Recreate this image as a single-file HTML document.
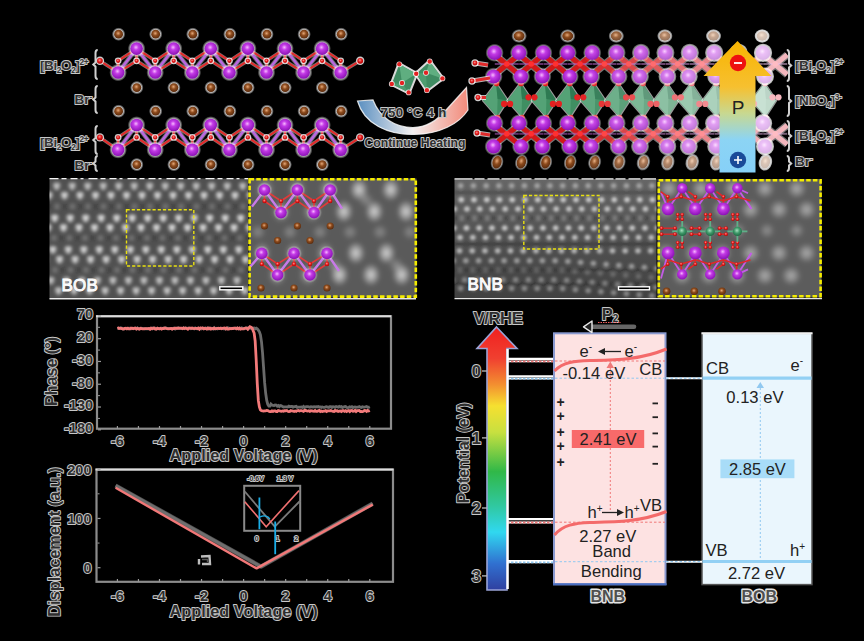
<!DOCTYPE html>
<html><head><meta charset="utf-8"><title>figure</title>
<style>
html,body{margin:0;padding:0;background:#000;}
body{width:864px;height:641px;overflow:hidden;}
svg{display:block;}
text{font-family:"Liberation Sans",sans-serif;}
</style></head><body>
<svg width="864" height="641" viewBox="0 0 864 641">
<defs>
<radialGradient id="gBi" cx="0.45" cy="0.4" r="0.6"><stop offset="0" stop-color="#f7b8ff"/><stop offset="0.35" stop-color="#c33ae6"/><stop offset="1" stop-color="#8a12b4"/></radialGradient>
<radialGradient id="gBr" cx="0.45" cy="0.4" r="0.6"><stop offset="0" stop-color="#e6a878"/><stop offset="0.45" stop-color="#8c4a1c"/><stop offset="1" stop-color="#5a2a0c"/></radialGradient>
<radialGradient id="gO" cx="0.45" cy="0.4" r="0.6"><stop offset="0" stop-color="#ff9090"/><stop offset="0.5" stop-color="#e41e1e"/><stop offset="1" stop-color="#b00000"/></radialGradient>
<radialGradient id="gNb" cx="0.45" cy="0.4" r="0.6"><stop offset="0" stop-color="#a8e0c0"/><stop offset="0.5" stop-color="#3f9a6a"/><stop offset="1" stop-color="#1f6a44"/></radialGradient>
<radialGradient id="gHalo" cx="0.5" cy="0.5" r="0.5"><stop offset="0" stop-color="#fff" stop-opacity="0.8"/><stop offset="0.7" stop-color="#fff" stop-opacity="0.75"/><stop offset="1" stop-color="#fff" stop-opacity="0"/></radialGradient>
<radialGradient id="gBlob" cx="0.5" cy="0.5" r="0.5"><stop offset="0" stop-color="#fff" stop-opacity="0.85"/><stop offset="0.5" stop-color="#fff" stop-opacity="0.45"/><stop offset="1" stop-color="#fff" stop-opacity="0"/></radialGradient>
<radialGradient id="gBlobD" cx="0.5" cy="0.5" r="0.5"><stop offset="0" stop-color="#000" stop-opacity="0.35"/><stop offset="1" stop-color="#000" stop-opacity="0"/></radialGradient>
<linearGradient id="gArc" x1="0" y1="0" x2="1" y2="0"><stop offset="0" stop-color="#5a8fc0"/><stop offset="0.5" stop-color="#f4f0f0"/><stop offset="1" stop-color="#f28a7a"/></linearGradient>
<linearGradient id="gP" x1="0" y1="0" x2="0" y2="1"><stop offset="0" stop-color="#f8b400"/><stop offset="0.35" stop-color="#f6c030"/><stop offset="0.55" stop-color="#c8d890"/><stop offset="0.75" stop-color="#8cd4f4"/><stop offset="1" stop-color="#86d0f8"/></linearGradient>
<linearGradient id="gRain" x1="0" y1="0" x2="0" y2="1">
<stop offset="0" stop-color="#f02020"/><stop offset="0.12" stop-color="#f04030"/><stop offset="0.22" stop-color="#f39030"/><stop offset="0.3" stop-color="#f6e030"/><stop offset="0.4" stop-color="#c8e040"/><stop offset="0.55" stop-color="#30b848"/><stop offset="0.68" stop-color="#30c8a0"/><stop offset="0.78" stop-color="#30d8f0"/><stop offset="0.9" stop-color="#3070d0"/><stop offset="1" stop-color="#3040a0"/></linearGradient>
<filter id="fBlur" x="-10%" y="-10%" width="120%" height="120%"><feGaussianBlur stdDeviation="1.35"/></filter>
<filter id="fBlur1" x="-10%" y="-10%" width="120%" height="120%"><feGaussianBlur stdDeviation="1.0"/></filter>
<filter id="fBlur2" x="-10%" y="-10%" width="120%" height="120%"><feGaussianBlur stdDeviation="2.2"/></filter>
<linearGradient id="gBNBbg" x1="0" y1="0" x2="0" y2="1"><stop offset="0" stop-color="#666"/><stop offset="0.5" stop-color="#525252"/><stop offset="1" stop-color="#404040"/></linearGradient>
<clipPath id="cBOB"><rect x="49.5" y="178.5" width="199" height="120.5"/></clipPath>
<clipPath id="cBOBi"><rect x="249" y="178.5" width="167.5" height="119"/></clipPath>
<clipPath id="cBNB"><rect x="454.5" y="179" width="202" height="119.5"/></clipPath>
<clipPath id="cBNBi"><rect x="657.5" y="179" width="164" height="118.5"/></clipPath>
</defs>
<rect width="864" height="641" fill="#000"/>

<ellipse cx="118.6" cy="34.2" rx="6.8" ry="6.8" fill="url(#gHalo)"/>
<ellipse cx="118.6" cy="34.2" rx="4.4" ry="4.4" fill="url(#gBr)"/>
<ellipse cx="155.7" cy="34.2" rx="6.8" ry="6.8" fill="url(#gHalo)"/>
<ellipse cx="155.7" cy="34.2" rx="4.4" ry="4.4" fill="url(#gBr)"/>
<ellipse cx="192.8" cy="34.2" rx="6.8" ry="6.8" fill="url(#gHalo)"/>
<ellipse cx="192.8" cy="34.2" rx="4.4" ry="4.4" fill="url(#gBr)"/>
<ellipse cx="229.9" cy="34.2" rx="6.8" ry="6.8" fill="url(#gHalo)"/>
<ellipse cx="229.9" cy="34.2" rx="4.4" ry="4.4" fill="url(#gBr)"/>
<ellipse cx="267" cy="34.2" rx="6.8" ry="6.8" fill="url(#gHalo)"/>
<ellipse cx="267" cy="34.2" rx="4.4" ry="4.4" fill="url(#gBr)"/>
<ellipse cx="304.1" cy="34.2" rx="6.8" ry="6.8" fill="url(#gHalo)"/>
<ellipse cx="304.1" cy="34.2" rx="4.4" ry="4.4" fill="url(#gBr)"/>
<ellipse cx="341.2" cy="34.2" rx="6.8" ry="6.8" fill="url(#gHalo)"/>
<ellipse cx="341.2" cy="34.2" rx="4.4" ry="4.4" fill="url(#gBr)"/>
<path d="M118.1,72.5 L136.6,48.6 L155.2,72.5 L173.7,48.6 L192.3,72.5 L210.8,48.6 L229.4,72.5 L247.9,48.6 L266.5,72.5 L285,48.6 L303.6,72.5 L322.1,48.6 L340.7,72.5" fill="none" stroke="#fff" stroke-width="4.4" opacity="0.4"/>
<path d="M118.1,72.5 L136.6,48.6 L155.2,72.5 L173.7,48.6 L192.3,72.5 L210.8,48.6 L229.4,72.5 L247.9,48.6 L266.5,72.5 L285,48.6 L303.6,72.5 L322.1,48.6 L340.7,72.5" fill="none" stroke="#b868e0" stroke-width="2.6"/>
<line x1="118.1" y1="60.8" x2="136.6" y2="48.6" stroke="#fff" stroke-width="3.4" opacity="0.45"/>
<line x1="118.1" y1="60.8" x2="118.1" y2="72.5" stroke="#fff" stroke-width="3.4" opacity="0.45"/>
<line x1="136.6" y1="60.8" x2="118.1" y2="72.5" stroke="#fff" stroke-width="3.4" opacity="0.45"/>
<line x1="136.6" y1="60.8" x2="155.2" y2="72.5" stroke="#fff" stroke-width="3.4" opacity="0.45"/>
<line x1="136.6" y1="60.8" x2="136.6" y2="48.6" stroke="#fff" stroke-width="3.4" opacity="0.45"/>
<line x1="155.2" y1="60.8" x2="136.6" y2="48.6" stroke="#fff" stroke-width="3.4" opacity="0.45"/>
<line x1="155.2" y1="60.8" x2="173.7" y2="48.6" stroke="#fff" stroke-width="3.4" opacity="0.45"/>
<line x1="155.2" y1="60.8" x2="155.2" y2="72.5" stroke="#fff" stroke-width="3.4" opacity="0.45"/>
<line x1="173.7" y1="60.8" x2="155.2" y2="72.5" stroke="#fff" stroke-width="3.4" opacity="0.45"/>
<line x1="173.7" y1="60.8" x2="192.3" y2="72.5" stroke="#fff" stroke-width="3.4" opacity="0.45"/>
<line x1="173.7" y1="60.8" x2="173.7" y2="48.6" stroke="#fff" stroke-width="3.4" opacity="0.45"/>
<line x1="192.3" y1="60.8" x2="173.7" y2="48.6" stroke="#fff" stroke-width="3.4" opacity="0.45"/>
<line x1="192.3" y1="60.8" x2="210.8" y2="48.6" stroke="#fff" stroke-width="3.4" opacity="0.45"/>
<line x1="192.3" y1="60.8" x2="192.3" y2="72.5" stroke="#fff" stroke-width="3.4" opacity="0.45"/>
<line x1="210.8" y1="60.8" x2="192.3" y2="72.5" stroke="#fff" stroke-width="3.4" opacity="0.45"/>
<line x1="210.8" y1="60.8" x2="229.4" y2="72.5" stroke="#fff" stroke-width="3.4" opacity="0.45"/>
<line x1="210.8" y1="60.8" x2="210.8" y2="48.6" stroke="#fff" stroke-width="3.4" opacity="0.45"/>
<line x1="229.4" y1="60.8" x2="210.8" y2="48.6" stroke="#fff" stroke-width="3.4" opacity="0.45"/>
<line x1="229.4" y1="60.8" x2="247.9" y2="48.6" stroke="#fff" stroke-width="3.4" opacity="0.45"/>
<line x1="229.4" y1="60.8" x2="229.4" y2="72.5" stroke="#fff" stroke-width="3.4" opacity="0.45"/>
<line x1="247.9" y1="60.8" x2="229.4" y2="72.5" stroke="#fff" stroke-width="3.4" opacity="0.45"/>
<line x1="247.9" y1="60.8" x2="266.5" y2="72.5" stroke="#fff" stroke-width="3.4" opacity="0.45"/>
<line x1="247.9" y1="60.8" x2="247.9" y2="48.6" stroke="#fff" stroke-width="3.4" opacity="0.45"/>
<line x1="266.5" y1="60.8" x2="247.9" y2="48.6" stroke="#fff" stroke-width="3.4" opacity="0.45"/>
<line x1="266.5" y1="60.8" x2="285" y2="48.6" stroke="#fff" stroke-width="3.4" opacity="0.45"/>
<line x1="266.5" y1="60.8" x2="266.5" y2="72.5" stroke="#fff" stroke-width="3.4" opacity="0.45"/>
<line x1="285" y1="60.8" x2="266.5" y2="72.5" stroke="#fff" stroke-width="3.4" opacity="0.45"/>
<line x1="285" y1="60.8" x2="303.6" y2="72.5" stroke="#fff" stroke-width="3.4" opacity="0.45"/>
<line x1="285" y1="60.8" x2="285" y2="48.6" stroke="#fff" stroke-width="3.4" opacity="0.45"/>
<line x1="303.6" y1="60.8" x2="285" y2="48.6" stroke="#fff" stroke-width="3.4" opacity="0.45"/>
<line x1="303.6" y1="60.8" x2="322.1" y2="48.6" stroke="#fff" stroke-width="3.4" opacity="0.45"/>
<line x1="303.6" y1="60.8" x2="303.6" y2="72.5" stroke="#fff" stroke-width="3.4" opacity="0.45"/>
<line x1="322.1" y1="60.8" x2="303.6" y2="72.5" stroke="#fff" stroke-width="3.4" opacity="0.45"/>
<line x1="322.1" y1="60.8" x2="340.7" y2="72.5" stroke="#fff" stroke-width="3.4" opacity="0.45"/>
<line x1="322.1" y1="60.8" x2="322.1" y2="48.6" stroke="#fff" stroke-width="3.4" opacity="0.45"/>
<line x1="340.7" y1="60.8" x2="322.1" y2="48.6" stroke="#fff" stroke-width="3.4" opacity="0.45"/>
<line x1="340.7" y1="60.8" x2="340.7" y2="72.5" stroke="#fff" stroke-width="3.4" opacity="0.45"/>
<line x1="99.9" y1="60.8" x2="118.1" y2="72.5" stroke="#fff" stroke-width="3.4" opacity="0.45"/>
<line x1="360.2" y1="60.8" x2="340.7" y2="72.5" stroke="#fff" stroke-width="3.4" opacity="0.45"/>
<line x1="118.1" y1="60.8" x2="136.6" y2="48.6" stroke="#e42a2a" stroke-width="2.0" />
<line x1="118.1" y1="60.8" x2="118.1" y2="72.5" stroke="#e42a2a" stroke-width="2.0" />
<line x1="136.6" y1="60.8" x2="118.1" y2="72.5" stroke="#e42a2a" stroke-width="2.0" />
<line x1="136.6" y1="60.8" x2="155.2" y2="72.5" stroke="#e42a2a" stroke-width="2.0" />
<line x1="136.6" y1="60.8" x2="136.6" y2="48.6" stroke="#e42a2a" stroke-width="2.0" />
<line x1="155.2" y1="60.8" x2="136.6" y2="48.6" stroke="#e42a2a" stroke-width="2.0" />
<line x1="155.2" y1="60.8" x2="173.7" y2="48.6" stroke="#e42a2a" stroke-width="2.0" />
<line x1="155.2" y1="60.8" x2="155.2" y2="72.5" stroke="#e42a2a" stroke-width="2.0" />
<line x1="173.7" y1="60.8" x2="155.2" y2="72.5" stroke="#e42a2a" stroke-width="2.0" />
<line x1="173.7" y1="60.8" x2="192.3" y2="72.5" stroke="#e42a2a" stroke-width="2.0" />
<line x1="173.7" y1="60.8" x2="173.7" y2="48.6" stroke="#e42a2a" stroke-width="2.0" />
<line x1="192.3" y1="60.8" x2="173.7" y2="48.6" stroke="#e42a2a" stroke-width="2.0" />
<line x1="192.3" y1="60.8" x2="210.8" y2="48.6" stroke="#e42a2a" stroke-width="2.0" />
<line x1="192.3" y1="60.8" x2="192.3" y2="72.5" stroke="#e42a2a" stroke-width="2.0" />
<line x1="210.8" y1="60.8" x2="192.3" y2="72.5" stroke="#e42a2a" stroke-width="2.0" />
<line x1="210.8" y1="60.8" x2="229.4" y2="72.5" stroke="#e42a2a" stroke-width="2.0" />
<line x1="210.8" y1="60.8" x2="210.8" y2="48.6" stroke="#e42a2a" stroke-width="2.0" />
<line x1="229.4" y1="60.8" x2="210.8" y2="48.6" stroke="#e42a2a" stroke-width="2.0" />
<line x1="229.4" y1="60.8" x2="247.9" y2="48.6" stroke="#e42a2a" stroke-width="2.0" />
<line x1="229.4" y1="60.8" x2="229.4" y2="72.5" stroke="#e42a2a" stroke-width="2.0" />
<line x1="247.9" y1="60.8" x2="229.4" y2="72.5" stroke="#e42a2a" stroke-width="2.0" />
<line x1="247.9" y1="60.8" x2="266.5" y2="72.5" stroke="#e42a2a" stroke-width="2.0" />
<line x1="247.9" y1="60.8" x2="247.9" y2="48.6" stroke="#e42a2a" stroke-width="2.0" />
<line x1="266.5" y1="60.8" x2="247.9" y2="48.6" stroke="#e42a2a" stroke-width="2.0" />
<line x1="266.5" y1="60.8" x2="285" y2="48.6" stroke="#e42a2a" stroke-width="2.0" />
<line x1="266.5" y1="60.8" x2="266.5" y2="72.5" stroke="#e42a2a" stroke-width="2.0" />
<line x1="285" y1="60.8" x2="266.5" y2="72.5" stroke="#e42a2a" stroke-width="2.0" />
<line x1="285" y1="60.8" x2="303.6" y2="72.5" stroke="#e42a2a" stroke-width="2.0" />
<line x1="285" y1="60.8" x2="285" y2="48.6" stroke="#e42a2a" stroke-width="2.0" />
<line x1="303.6" y1="60.8" x2="285" y2="48.6" stroke="#e42a2a" stroke-width="2.0" />
<line x1="303.6" y1="60.8" x2="322.1" y2="48.6" stroke="#e42a2a" stroke-width="2.0" />
<line x1="303.6" y1="60.8" x2="303.6" y2="72.5" stroke="#e42a2a" stroke-width="2.0" />
<line x1="322.1" y1="60.8" x2="303.6" y2="72.5" stroke="#e42a2a" stroke-width="2.0" />
<line x1="322.1" y1="60.8" x2="340.7" y2="72.5" stroke="#e42a2a" stroke-width="2.0" />
<line x1="322.1" y1="60.8" x2="322.1" y2="48.6" stroke="#e42a2a" stroke-width="2.0" />
<line x1="340.7" y1="60.8" x2="322.1" y2="48.6" stroke="#e42a2a" stroke-width="2.0" />
<line x1="340.7" y1="60.8" x2="340.7" y2="72.5" stroke="#e42a2a" stroke-width="2.0" />
<line x1="99.9" y1="60.8" x2="118.1" y2="72.5" stroke="#e42a2a" stroke-width="2.0" />
<line x1="360.2" y1="60.8" x2="340.7" y2="72.5" stroke="#e42a2a" stroke-width="2.0" />
<circle cx="118.1" cy="60.8" r="3.4" fill="#fff" opacity="0.8"/>
<circle cx="118.1" cy="60.8" r="2.1" fill="url(#gO)"/>
<circle cx="136.6" cy="60.8" r="3.4" fill="#fff" opacity="0.8"/>
<circle cx="136.6" cy="60.8" r="2.1" fill="url(#gO)"/>
<circle cx="155.2" cy="60.8" r="3.4" fill="#fff" opacity="0.8"/>
<circle cx="155.2" cy="60.8" r="2.1" fill="url(#gO)"/>
<circle cx="173.7" cy="60.8" r="3.4" fill="#fff" opacity="0.8"/>
<circle cx="173.7" cy="60.8" r="2.1" fill="url(#gO)"/>
<circle cx="192.3" cy="60.8" r="3.4" fill="#fff" opacity="0.8"/>
<circle cx="192.3" cy="60.8" r="2.1" fill="url(#gO)"/>
<circle cx="210.8" cy="60.8" r="3.4" fill="#fff" opacity="0.8"/>
<circle cx="210.8" cy="60.8" r="2.1" fill="url(#gO)"/>
<circle cx="229.4" cy="60.8" r="3.4" fill="#fff" opacity="0.8"/>
<circle cx="229.4" cy="60.8" r="2.1" fill="url(#gO)"/>
<circle cx="247.9" cy="60.8" r="3.4" fill="#fff" opacity="0.8"/>
<circle cx="247.9" cy="60.8" r="2.1" fill="url(#gO)"/>
<circle cx="266.5" cy="60.8" r="3.4" fill="#fff" opacity="0.8"/>
<circle cx="266.5" cy="60.8" r="2.1" fill="url(#gO)"/>
<circle cx="285" cy="60.8" r="3.4" fill="#fff" opacity="0.8"/>
<circle cx="285" cy="60.8" r="2.1" fill="url(#gO)"/>
<circle cx="303.6" cy="60.8" r="3.4" fill="#fff" opacity="0.8"/>
<circle cx="303.6" cy="60.8" r="2.1" fill="url(#gO)"/>
<circle cx="322.1" cy="60.8" r="3.4" fill="#fff" opacity="0.8"/>
<circle cx="322.1" cy="60.8" r="2.1" fill="url(#gO)"/>
<circle cx="340.7" cy="60.8" r="3.4" fill="#fff" opacity="0.8"/>
<circle cx="340.7" cy="60.8" r="2.1" fill="url(#gO)"/>
<circle cx="99.9" cy="60.8" r="4.2" fill="#fff" opacity="0.8"/>
<circle cx="99.9" cy="60.8" r="2.9" fill="url(#gO)"/>
<circle cx="360.2" cy="60.8" r="4.2" fill="#fff" opacity="0.8"/>
<circle cx="360.2" cy="60.8" r="2.9" fill="url(#gO)"/>
<circle cx="136.6" cy="48.6" r="8.9" fill="url(#gHalo)"/>
<circle cx="136.6" cy="48.6" r="6.3" fill="url(#gBi)"/>
<circle cx="173.7" cy="48.6" r="8.9" fill="url(#gHalo)"/>
<circle cx="173.7" cy="48.6" r="6.3" fill="url(#gBi)"/>
<circle cx="210.8" cy="48.6" r="8.9" fill="url(#gHalo)"/>
<circle cx="210.8" cy="48.6" r="6.3" fill="url(#gBi)"/>
<circle cx="247.9" cy="48.6" r="8.9" fill="url(#gHalo)"/>
<circle cx="247.9" cy="48.6" r="6.3" fill="url(#gBi)"/>
<circle cx="285" cy="48.6" r="8.9" fill="url(#gHalo)"/>
<circle cx="285" cy="48.6" r="6.3" fill="url(#gBi)"/>
<circle cx="322.1" cy="48.6" r="8.9" fill="url(#gHalo)"/>
<circle cx="322.1" cy="48.6" r="6.3" fill="url(#gBi)"/>
<circle cx="118.1" cy="72.5" r="8.9" fill="url(#gHalo)"/>
<circle cx="118.1" cy="72.5" r="6.3" fill="url(#gBi)"/>
<circle cx="155.2" cy="72.5" r="8.9" fill="url(#gHalo)"/>
<circle cx="155.2" cy="72.5" r="6.3" fill="url(#gBi)"/>
<circle cx="192.3" cy="72.5" r="8.9" fill="url(#gHalo)"/>
<circle cx="192.3" cy="72.5" r="6.3" fill="url(#gBi)"/>
<circle cx="229.4" cy="72.5" r="8.9" fill="url(#gHalo)"/>
<circle cx="229.4" cy="72.5" r="6.3" fill="url(#gBi)"/>
<circle cx="266.5" cy="72.5" r="8.9" fill="url(#gHalo)"/>
<circle cx="266.5" cy="72.5" r="6.3" fill="url(#gBi)"/>
<circle cx="303.6" cy="72.5" r="8.9" fill="url(#gHalo)"/>
<circle cx="303.6" cy="72.5" r="6.3" fill="url(#gBi)"/>
<circle cx="340.7" cy="72.5" r="8.9" fill="url(#gHalo)"/>
<circle cx="340.7" cy="72.5" r="6.3" fill="url(#gBi)"/>
<ellipse cx="136.8" cy="87.6" rx="6.8" ry="6.8" fill="url(#gHalo)"/>
<ellipse cx="136.8" cy="87.6" rx="4.4" ry="4.4" fill="url(#gBr)"/>
<ellipse cx="173.9" cy="87.6" rx="6.8" ry="6.8" fill="url(#gHalo)"/>
<ellipse cx="173.9" cy="87.6" rx="4.4" ry="4.4" fill="url(#gBr)"/>
<ellipse cx="211" cy="87.6" rx="6.8" ry="6.8" fill="url(#gHalo)"/>
<ellipse cx="211" cy="87.6" rx="4.4" ry="4.4" fill="url(#gBr)"/>
<ellipse cx="248.1" cy="87.6" rx="6.8" ry="6.8" fill="url(#gHalo)"/>
<ellipse cx="248.1" cy="87.6" rx="4.4" ry="4.4" fill="url(#gBr)"/>
<ellipse cx="285.2" cy="87.6" rx="6.8" ry="6.8" fill="url(#gHalo)"/>
<ellipse cx="285.2" cy="87.6" rx="4.4" ry="4.4" fill="url(#gBr)"/>
<ellipse cx="322.3" cy="87.6" rx="6.8" ry="6.8" fill="url(#gHalo)"/>
<ellipse cx="322.3" cy="87.6" rx="4.4" ry="4.4" fill="url(#gBr)"/>
<ellipse cx="118.6" cy="111.2" rx="6.8" ry="6.8" fill="url(#gHalo)"/>
<ellipse cx="118.6" cy="111.2" rx="4.4" ry="4.4" fill="url(#gBr)"/>
<ellipse cx="155.7" cy="111.2" rx="6.8" ry="6.8" fill="url(#gHalo)"/>
<ellipse cx="155.7" cy="111.2" rx="4.4" ry="4.4" fill="url(#gBr)"/>
<ellipse cx="192.8" cy="111.2" rx="6.8" ry="6.8" fill="url(#gHalo)"/>
<ellipse cx="192.8" cy="111.2" rx="4.4" ry="4.4" fill="url(#gBr)"/>
<ellipse cx="229.9" cy="111.2" rx="6.8" ry="6.8" fill="url(#gHalo)"/>
<ellipse cx="229.9" cy="111.2" rx="4.4" ry="4.4" fill="url(#gBr)"/>
<ellipse cx="267" cy="111.2" rx="6.8" ry="6.8" fill="url(#gHalo)"/>
<ellipse cx="267" cy="111.2" rx="4.4" ry="4.4" fill="url(#gBr)"/>
<ellipse cx="304.1" cy="111.2" rx="6.8" ry="6.8" fill="url(#gHalo)"/>
<ellipse cx="304.1" cy="111.2" rx="4.4" ry="4.4" fill="url(#gBr)"/>
<ellipse cx="341.2" cy="111.2" rx="6.8" ry="6.8" fill="url(#gHalo)"/>
<ellipse cx="341.2" cy="111.2" rx="4.4" ry="4.4" fill="url(#gBr)"/>
<path d="M118.1,149.8 L136.6,125 L155.2,149.8 L173.7,125 L192.3,149.8 L210.8,125 L229.4,149.8 L247.9,125 L266.5,149.8 L285,125 L303.6,149.8 L322.1,125 L340.7,149.8" fill="none" stroke="#fff" stroke-width="4.4" opacity="0.4"/>
<path d="M118.1,149.8 L136.6,125 L155.2,149.8 L173.7,125 L192.3,149.8 L210.8,125 L229.4,149.8 L247.9,125 L266.5,149.8 L285,125 L303.6,149.8 L322.1,125 L340.7,149.8" fill="none" stroke="#b868e0" stroke-width="2.6"/>
<line x1="118.1" y1="137.4" x2="136.6" y2="125" stroke="#fff" stroke-width="3.4" opacity="0.45"/>
<line x1="118.1" y1="137.4" x2="118.1" y2="149.8" stroke="#fff" stroke-width="3.4" opacity="0.45"/>
<line x1="136.6" y1="137.4" x2="118.1" y2="149.8" stroke="#fff" stroke-width="3.4" opacity="0.45"/>
<line x1="136.6" y1="137.4" x2="155.2" y2="149.8" stroke="#fff" stroke-width="3.4" opacity="0.45"/>
<line x1="136.6" y1="137.4" x2="136.6" y2="125" stroke="#fff" stroke-width="3.4" opacity="0.45"/>
<line x1="155.2" y1="137.4" x2="136.6" y2="125" stroke="#fff" stroke-width="3.4" opacity="0.45"/>
<line x1="155.2" y1="137.4" x2="173.7" y2="125" stroke="#fff" stroke-width="3.4" opacity="0.45"/>
<line x1="155.2" y1="137.4" x2="155.2" y2="149.8" stroke="#fff" stroke-width="3.4" opacity="0.45"/>
<line x1="173.7" y1="137.4" x2="155.2" y2="149.8" stroke="#fff" stroke-width="3.4" opacity="0.45"/>
<line x1="173.7" y1="137.4" x2="192.3" y2="149.8" stroke="#fff" stroke-width="3.4" opacity="0.45"/>
<line x1="173.7" y1="137.4" x2="173.7" y2="125" stroke="#fff" stroke-width="3.4" opacity="0.45"/>
<line x1="192.3" y1="137.4" x2="173.7" y2="125" stroke="#fff" stroke-width="3.4" opacity="0.45"/>
<line x1="192.3" y1="137.4" x2="210.8" y2="125" stroke="#fff" stroke-width="3.4" opacity="0.45"/>
<line x1="192.3" y1="137.4" x2="192.3" y2="149.8" stroke="#fff" stroke-width="3.4" opacity="0.45"/>
<line x1="210.8" y1="137.4" x2="192.3" y2="149.8" stroke="#fff" stroke-width="3.4" opacity="0.45"/>
<line x1="210.8" y1="137.4" x2="229.4" y2="149.8" stroke="#fff" stroke-width="3.4" opacity="0.45"/>
<line x1="210.8" y1="137.4" x2="210.8" y2="125" stroke="#fff" stroke-width="3.4" opacity="0.45"/>
<line x1="229.4" y1="137.4" x2="210.8" y2="125" stroke="#fff" stroke-width="3.4" opacity="0.45"/>
<line x1="229.4" y1="137.4" x2="247.9" y2="125" stroke="#fff" stroke-width="3.4" opacity="0.45"/>
<line x1="229.4" y1="137.4" x2="229.4" y2="149.8" stroke="#fff" stroke-width="3.4" opacity="0.45"/>
<line x1="247.9" y1="137.4" x2="229.4" y2="149.8" stroke="#fff" stroke-width="3.4" opacity="0.45"/>
<line x1="247.9" y1="137.4" x2="266.5" y2="149.8" stroke="#fff" stroke-width="3.4" opacity="0.45"/>
<line x1="247.9" y1="137.4" x2="247.9" y2="125" stroke="#fff" stroke-width="3.4" opacity="0.45"/>
<line x1="266.5" y1="137.4" x2="247.9" y2="125" stroke="#fff" stroke-width="3.4" opacity="0.45"/>
<line x1="266.5" y1="137.4" x2="285" y2="125" stroke="#fff" stroke-width="3.4" opacity="0.45"/>
<line x1="266.5" y1="137.4" x2="266.5" y2="149.8" stroke="#fff" stroke-width="3.4" opacity="0.45"/>
<line x1="285" y1="137.4" x2="266.5" y2="149.8" stroke="#fff" stroke-width="3.4" opacity="0.45"/>
<line x1="285" y1="137.4" x2="303.6" y2="149.8" stroke="#fff" stroke-width="3.4" opacity="0.45"/>
<line x1="285" y1="137.4" x2="285" y2="125" stroke="#fff" stroke-width="3.4" opacity="0.45"/>
<line x1="303.6" y1="137.4" x2="285" y2="125" stroke="#fff" stroke-width="3.4" opacity="0.45"/>
<line x1="303.6" y1="137.4" x2="322.1" y2="125" stroke="#fff" stroke-width="3.4" opacity="0.45"/>
<line x1="303.6" y1="137.4" x2="303.6" y2="149.8" stroke="#fff" stroke-width="3.4" opacity="0.45"/>
<line x1="322.1" y1="137.4" x2="303.6" y2="149.8" stroke="#fff" stroke-width="3.4" opacity="0.45"/>
<line x1="322.1" y1="137.4" x2="340.7" y2="149.8" stroke="#fff" stroke-width="3.4" opacity="0.45"/>
<line x1="322.1" y1="137.4" x2="322.1" y2="125" stroke="#fff" stroke-width="3.4" opacity="0.45"/>
<line x1="340.7" y1="137.4" x2="322.1" y2="125" stroke="#fff" stroke-width="3.4" opacity="0.45"/>
<line x1="340.7" y1="137.4" x2="340.7" y2="149.8" stroke="#fff" stroke-width="3.4" opacity="0.45"/>
<line x1="99.9" y1="137.4" x2="118.1" y2="149.8" stroke="#fff" stroke-width="3.4" opacity="0.45"/>
<line x1="360.2" y1="137.4" x2="340.7" y2="149.8" stroke="#fff" stroke-width="3.4" opacity="0.45"/>
<line x1="118.1" y1="137.4" x2="136.6" y2="125" stroke="#e42a2a" stroke-width="2.0" />
<line x1="118.1" y1="137.4" x2="118.1" y2="149.8" stroke="#e42a2a" stroke-width="2.0" />
<line x1="136.6" y1="137.4" x2="118.1" y2="149.8" stroke="#e42a2a" stroke-width="2.0" />
<line x1="136.6" y1="137.4" x2="155.2" y2="149.8" stroke="#e42a2a" stroke-width="2.0" />
<line x1="136.6" y1="137.4" x2="136.6" y2="125" stroke="#e42a2a" stroke-width="2.0" />
<line x1="155.2" y1="137.4" x2="136.6" y2="125" stroke="#e42a2a" stroke-width="2.0" />
<line x1="155.2" y1="137.4" x2="173.7" y2="125" stroke="#e42a2a" stroke-width="2.0" />
<line x1="155.2" y1="137.4" x2="155.2" y2="149.8" stroke="#e42a2a" stroke-width="2.0" />
<line x1="173.7" y1="137.4" x2="155.2" y2="149.8" stroke="#e42a2a" stroke-width="2.0" />
<line x1="173.7" y1="137.4" x2="192.3" y2="149.8" stroke="#e42a2a" stroke-width="2.0" />
<line x1="173.7" y1="137.4" x2="173.7" y2="125" stroke="#e42a2a" stroke-width="2.0" />
<line x1="192.3" y1="137.4" x2="173.7" y2="125" stroke="#e42a2a" stroke-width="2.0" />
<line x1="192.3" y1="137.4" x2="210.8" y2="125" stroke="#e42a2a" stroke-width="2.0" />
<line x1="192.3" y1="137.4" x2="192.3" y2="149.8" stroke="#e42a2a" stroke-width="2.0" />
<line x1="210.8" y1="137.4" x2="192.3" y2="149.8" stroke="#e42a2a" stroke-width="2.0" />
<line x1="210.8" y1="137.4" x2="229.4" y2="149.8" stroke="#e42a2a" stroke-width="2.0" />
<line x1="210.8" y1="137.4" x2="210.8" y2="125" stroke="#e42a2a" stroke-width="2.0" />
<line x1="229.4" y1="137.4" x2="210.8" y2="125" stroke="#e42a2a" stroke-width="2.0" />
<line x1="229.4" y1="137.4" x2="247.9" y2="125" stroke="#e42a2a" stroke-width="2.0" />
<line x1="229.4" y1="137.4" x2="229.4" y2="149.8" stroke="#e42a2a" stroke-width="2.0" />
<line x1="247.9" y1="137.4" x2="229.4" y2="149.8" stroke="#e42a2a" stroke-width="2.0" />
<line x1="247.9" y1="137.4" x2="266.5" y2="149.8" stroke="#e42a2a" stroke-width="2.0" />
<line x1="247.9" y1="137.4" x2="247.9" y2="125" stroke="#e42a2a" stroke-width="2.0" />
<line x1="266.5" y1="137.4" x2="247.9" y2="125" stroke="#e42a2a" stroke-width="2.0" />
<line x1="266.5" y1="137.4" x2="285" y2="125" stroke="#e42a2a" stroke-width="2.0" />
<line x1="266.5" y1="137.4" x2="266.5" y2="149.8" stroke="#e42a2a" stroke-width="2.0" />
<line x1="285" y1="137.4" x2="266.5" y2="149.8" stroke="#e42a2a" stroke-width="2.0" />
<line x1="285" y1="137.4" x2="303.6" y2="149.8" stroke="#e42a2a" stroke-width="2.0" />
<line x1="285" y1="137.4" x2="285" y2="125" stroke="#e42a2a" stroke-width="2.0" />
<line x1="303.6" y1="137.4" x2="285" y2="125" stroke="#e42a2a" stroke-width="2.0" />
<line x1="303.6" y1="137.4" x2="322.1" y2="125" stroke="#e42a2a" stroke-width="2.0" />
<line x1="303.6" y1="137.4" x2="303.6" y2="149.8" stroke="#e42a2a" stroke-width="2.0" />
<line x1="322.1" y1="137.4" x2="303.6" y2="149.8" stroke="#e42a2a" stroke-width="2.0" />
<line x1="322.1" y1="137.4" x2="340.7" y2="149.8" stroke="#e42a2a" stroke-width="2.0" />
<line x1="322.1" y1="137.4" x2="322.1" y2="125" stroke="#e42a2a" stroke-width="2.0" />
<line x1="340.7" y1="137.4" x2="322.1" y2="125" stroke="#e42a2a" stroke-width="2.0" />
<line x1="340.7" y1="137.4" x2="340.7" y2="149.8" stroke="#e42a2a" stroke-width="2.0" />
<line x1="99.9" y1="137.4" x2="118.1" y2="149.8" stroke="#e42a2a" stroke-width="2.0" />
<line x1="360.2" y1="137.4" x2="340.7" y2="149.8" stroke="#e42a2a" stroke-width="2.0" />
<circle cx="118.1" cy="137.4" r="3.4" fill="#fff" opacity="0.8"/>
<circle cx="118.1" cy="137.4" r="2.1" fill="url(#gO)"/>
<circle cx="136.6" cy="137.4" r="3.4" fill="#fff" opacity="0.8"/>
<circle cx="136.6" cy="137.4" r="2.1" fill="url(#gO)"/>
<circle cx="155.2" cy="137.4" r="3.4" fill="#fff" opacity="0.8"/>
<circle cx="155.2" cy="137.4" r="2.1" fill="url(#gO)"/>
<circle cx="173.7" cy="137.4" r="3.4" fill="#fff" opacity="0.8"/>
<circle cx="173.7" cy="137.4" r="2.1" fill="url(#gO)"/>
<circle cx="192.3" cy="137.4" r="3.4" fill="#fff" opacity="0.8"/>
<circle cx="192.3" cy="137.4" r="2.1" fill="url(#gO)"/>
<circle cx="210.8" cy="137.4" r="3.4" fill="#fff" opacity="0.8"/>
<circle cx="210.8" cy="137.4" r="2.1" fill="url(#gO)"/>
<circle cx="229.4" cy="137.4" r="3.4" fill="#fff" opacity="0.8"/>
<circle cx="229.4" cy="137.4" r="2.1" fill="url(#gO)"/>
<circle cx="247.9" cy="137.4" r="3.4" fill="#fff" opacity="0.8"/>
<circle cx="247.9" cy="137.4" r="2.1" fill="url(#gO)"/>
<circle cx="266.5" cy="137.4" r="3.4" fill="#fff" opacity="0.8"/>
<circle cx="266.5" cy="137.4" r="2.1" fill="url(#gO)"/>
<circle cx="285" cy="137.4" r="3.4" fill="#fff" opacity="0.8"/>
<circle cx="285" cy="137.4" r="2.1" fill="url(#gO)"/>
<circle cx="303.6" cy="137.4" r="3.4" fill="#fff" opacity="0.8"/>
<circle cx="303.6" cy="137.4" r="2.1" fill="url(#gO)"/>
<circle cx="322.1" cy="137.4" r="3.4" fill="#fff" opacity="0.8"/>
<circle cx="322.1" cy="137.4" r="2.1" fill="url(#gO)"/>
<circle cx="340.7" cy="137.4" r="3.4" fill="#fff" opacity="0.8"/>
<circle cx="340.7" cy="137.4" r="2.1" fill="url(#gO)"/>
<circle cx="99.9" cy="137.4" r="4.2" fill="#fff" opacity="0.8"/>
<circle cx="99.9" cy="137.4" r="2.9" fill="url(#gO)"/>
<circle cx="360.2" cy="137.4" r="4.2" fill="#fff" opacity="0.8"/>
<circle cx="360.2" cy="137.4" r="2.9" fill="url(#gO)"/>
<circle cx="136.6" cy="125" r="8.9" fill="url(#gHalo)"/>
<circle cx="136.6" cy="125" r="6.3" fill="url(#gBi)"/>
<circle cx="173.7" cy="125" r="8.9" fill="url(#gHalo)"/>
<circle cx="173.7" cy="125" r="6.3" fill="url(#gBi)"/>
<circle cx="210.8" cy="125" r="8.9" fill="url(#gHalo)"/>
<circle cx="210.8" cy="125" r="6.3" fill="url(#gBi)"/>
<circle cx="247.9" cy="125" r="8.9" fill="url(#gHalo)"/>
<circle cx="247.9" cy="125" r="6.3" fill="url(#gBi)"/>
<circle cx="285" cy="125" r="8.9" fill="url(#gHalo)"/>
<circle cx="285" cy="125" r="6.3" fill="url(#gBi)"/>
<circle cx="322.1" cy="125" r="8.9" fill="url(#gHalo)"/>
<circle cx="322.1" cy="125" r="6.3" fill="url(#gBi)"/>
<circle cx="118.1" cy="149.8" r="8.9" fill="url(#gHalo)"/>
<circle cx="118.1" cy="149.8" r="6.3" fill="url(#gBi)"/>
<circle cx="155.2" cy="149.8" r="8.9" fill="url(#gHalo)"/>
<circle cx="155.2" cy="149.8" r="6.3" fill="url(#gBi)"/>
<circle cx="192.3" cy="149.8" r="8.9" fill="url(#gHalo)"/>
<circle cx="192.3" cy="149.8" r="6.3" fill="url(#gBi)"/>
<circle cx="229.4" cy="149.8" r="8.9" fill="url(#gHalo)"/>
<circle cx="229.4" cy="149.8" r="6.3" fill="url(#gBi)"/>
<circle cx="266.5" cy="149.8" r="8.9" fill="url(#gHalo)"/>
<circle cx="266.5" cy="149.8" r="6.3" fill="url(#gBi)"/>
<circle cx="303.6" cy="149.8" r="8.9" fill="url(#gHalo)"/>
<circle cx="303.6" cy="149.8" r="6.3" fill="url(#gBi)"/>
<circle cx="340.7" cy="149.8" r="8.9" fill="url(#gHalo)"/>
<circle cx="340.7" cy="149.8" r="6.3" fill="url(#gBi)"/>
<ellipse cx="136.8" cy="164.6" rx="6.8" ry="6.8" fill="url(#gHalo)"/>
<ellipse cx="136.8" cy="164.6" rx="4.4" ry="4.4" fill="url(#gBr)"/>
<ellipse cx="173.9" cy="164.6" rx="6.8" ry="6.8" fill="url(#gHalo)"/>
<ellipse cx="173.9" cy="164.6" rx="4.4" ry="4.4" fill="url(#gBr)"/>
<ellipse cx="211" cy="164.6" rx="6.8" ry="6.8" fill="url(#gHalo)"/>
<ellipse cx="211" cy="164.6" rx="4.4" ry="4.4" fill="url(#gBr)"/>
<ellipse cx="248.1" cy="164.6" rx="6.8" ry="6.8" fill="url(#gHalo)"/>
<ellipse cx="248.1" cy="164.6" rx="4.4" ry="4.4" fill="url(#gBr)"/>
<ellipse cx="285.2" cy="164.6" rx="6.8" ry="6.8" fill="url(#gHalo)"/>
<ellipse cx="285.2" cy="164.6" rx="4.4" ry="4.4" fill="url(#gBr)"/>
<ellipse cx="322.3" cy="164.6" rx="6.8" ry="6.8" fill="url(#gHalo)"/>
<ellipse cx="322.3" cy="164.6" rx="4.4" ry="4.4" fill="url(#gBr)"/>
<text x="40" y="70" font-size="13.5" fill="#333" stroke="#c8c8c8" stroke-width="1.9" paint-order="stroke" stroke-linejoin="round" font-weight="bold" letter-spacing="-0.4">[Bi<tspan font-size="8.37" dy="3">2</tspan><tspan dy="-3">O</tspan><tspan font-size="8.37" dy="3">2</tspan><tspan dy="-3">]</tspan><tspan font-size="8.37" dy="-5">2+</tspan></text>
<path d="M97.7,50 Q95.5,50 95.5,53 L95.5,62.5 L93.3,64.5 L95.5,66.5 L95.5,76 Q95.5,79 97.7,79" fill="none" stroke="#d0d0d0" stroke-width="2"/>
<text x="74.5" y="103.5" font-size="13.5" text-anchor="start" fill="#2e2e2e" stroke="#c8c8c8" stroke-width="1.9" paint-order="stroke" stroke-linejoin="round" font-weight="bold" font-weight="bold">Br<tspan font-size="8" dy="-5">-</tspan></text>
<path d="M97.7,86 Q95.5,86 95.5,89 L95.5,97.5 L93.3,99.5 L95.5,101.5 L95.5,110 Q95.5,113 97.7,113" fill="none" stroke="#d0d0d0" stroke-width="2"/>
<text x="40" y="146.5" font-size="13.5" fill="#333" stroke="#c8c8c8" stroke-width="1.9" paint-order="stroke" stroke-linejoin="round" font-weight="bold" letter-spacing="-0.4">[Bi<tspan font-size="8.37" dy="3">2</tspan><tspan dy="-3">O</tspan><tspan font-size="8.37" dy="3">2</tspan><tspan dy="-3">]</tspan><tspan font-size="8.37" dy="-5">2+</tspan></text>
<path d="M97.7,126 Q95.5,126 95.5,129 L95.5,138 L93.3,140 L95.5,142 L95.5,151 Q95.5,154 97.7,154" fill="none" stroke="#d0d0d0" stroke-width="2"/>
<text x="74.5" y="169.5" font-size="13.5" text-anchor="start" fill="#2e2e2e" stroke="#c8c8c8" stroke-width="1.9" paint-order="stroke" stroke-linejoin="round" font-weight="bold" font-weight="bold">Br<tspan font-size="8" dy="-5">-</tspan></text>
<path d="M97.7,156 Q95.5,156 95.5,159 L95.5,161.5 L93.3,163.5 L95.5,165.5 L95.5,168 Q95.5,171 97.7,171" fill="none" stroke="#d0d0d0" stroke-width="2"/>
<polygon points="399.3,64.3 416.2,73.7 408.7,92.4 391.8,84" fill="#fff" stroke="#fff" stroke-width="4" stroke-linejoin="round" opacity="0.85"/>
<polygon points="399.3,64.3 416.2,73.7 408.7,92.4 391.8,84" fill="#3f8c62"/>
<polygon points="399.3,64.3 416.2,73.7 402,83" fill="#5fae80"/>
<polygon points="391.8,84 408.7,92.4 402,83" fill="#4e9d70"/>
<circle cx="399.3" cy="64.3" r="2.9" fill="#fff" opacity="0.85"/><circle cx="399.3" cy="64.3" r="2.2" fill="#e42222"/>
<circle cx="416.2" cy="73.7" r="2.9" fill="#fff" opacity="0.85"/><circle cx="416.2" cy="73.7" r="2.2" fill="#e42222"/>
<circle cx="408.7" cy="92.4" r="2.9" fill="#fff" opacity="0.85"/><circle cx="408.7" cy="92.4" r="2.2" fill="#e42222"/>
<circle cx="391.8" cy="84" r="2.9" fill="#fff" opacity="0.85"/><circle cx="391.8" cy="84" r="2.2" fill="#e42222"/>
<circle cx="402" cy="83" r="2.9" fill="#fff" opacity="0.85"/><circle cx="402" cy="83" r="2.2" fill="#e42222"/>
<polygon points="429.7,61.5 442.4,78.4 426.9,90.2 416.2,73.7" fill="#fff" stroke="#fff" stroke-width="4" stroke-linejoin="round" opacity="0.85"/>
<polygon points="429.7,61.5 442.4,78.4 426.9,90.2 416.2,73.7" fill="#3f8c62"/>
<polygon points="429.7,61.5 442.4,78.4 426,72.8" fill="#5fae80"/>
<polygon points="416.2,73.7 426.9,90.2 426,72.8" fill="#4e9d70"/>
<circle cx="429.7" cy="61.5" r="2.9" fill="#fff" opacity="0.85"/><circle cx="429.7" cy="61.5" r="2.2" fill="#e42222"/>
<circle cx="442.4" cy="78.4" r="2.9" fill="#fff" opacity="0.85"/><circle cx="442.4" cy="78.4" r="2.2" fill="#e42222"/>
<circle cx="426.9" cy="90.2" r="2.9" fill="#fff" opacity="0.85"/><circle cx="426.9" cy="90.2" r="2.2" fill="#e42222"/>
<circle cx="416.2" cy="73.7" r="2.9" fill="#fff" opacity="0.85"/><circle cx="416.2" cy="73.7" r="2.2" fill="#e42222"/>
<circle cx="426" cy="72.8" r="2.9" fill="#fff" opacity="0.85"/><circle cx="426" cy="72.8" r="2.2" fill="#e42222"/>
<path d="M357.5,101 C364,124 388,135 414,134.5 C440,134 459,124 468,110 L466.5,87.5 L447,109 C437,121 426,127.5 413,127.5 C395,127.5 380,118 373,100 Z" fill="url(#gArc)" stroke="#fff" stroke-width="1.2" stroke-opacity="0.8"/>
<text x="413.5" y="116.5" font-size="13.2" text-anchor="middle" fill="#2e2e2e" stroke="#c8c8c8" stroke-width="1.9" paint-order="stroke" stroke-linejoin="round" font-weight="bold" letter-spacing="0.3">750 °C  4 h</text>
<text x="415" y="147" font-size="12.2" text-anchor="middle" fill="#2e2e2e" stroke="#c8c8c8" stroke-width="1.9" paint-order="stroke" stroke-linejoin="round" font-weight="bold" >Continue Heating</text>
<polygon points="496.1,83.2 507.6,100.5 497.1,116.5 483.1,100.5" fill="#fff" stroke="#fff" stroke-width="2.4" stroke-linejoin="round" opacity="0.6"/>
<polygon points="496.1,83.2 507.6,100.5 497.1,116.5 483.1,100.5" fill="#3f8f62"/>
<polygon points="496.1,83.2 497.6,99 497.1,116.5 483.1,100.5" fill="#54a276"/>
<polygon points="496.1,83.2 507.6,100.5 497.6,99" fill="#2e7a52"/>
<polygon points="520.5,83.2 532,100.5 521.5,116.5 507.5,100.5" fill="#fff" stroke="#fff" stroke-width="2.4" stroke-linejoin="round" opacity="0.6"/>
<polygon points="520.5,83.2 532,100.5 521.5,116.5 507.5,100.5" fill="#3f8f62"/>
<polygon points="520.5,83.2 522,99 521.5,116.5 507.5,100.5" fill="#54a276"/>
<polygon points="520.5,83.2 532,100.5 522,99" fill="#2e7a52"/>
<polygon points="544.9,83.2 556.4,100.5 545.9,116.5 531.9,100.5" fill="#fff" stroke="#fff" stroke-width="2.4" stroke-linejoin="round" opacity="0.6"/>
<polygon points="544.9,83.2 556.4,100.5 545.9,116.5 531.9,100.5" fill="#3f8f62"/>
<polygon points="544.9,83.2 546.4,99 545.9,116.5 531.9,100.5" fill="#54a276"/>
<polygon points="544.9,83.2 556.4,100.5 546.4,99" fill="#2e7a52"/>
<polygon points="569.3,83.2 580.8,100.5 570.3,116.5 556.3,100.5" fill="#fff" stroke="#fff" stroke-width="2.4" stroke-linejoin="round" opacity="0.6"/>
<polygon points="569.3,83.2 580.8,100.5 570.3,116.5 556.3,100.5" fill="#3f8f62"/>
<polygon points="569.3,83.2 570.8,99 570.3,116.5 556.3,100.5" fill="#54a276"/>
<polygon points="569.3,83.2 580.8,100.5 570.8,99" fill="#2e7a52"/>
<polygon points="593.7,83.2 605.2,100.5 594.7,116.5 580.7,100.5" fill="#fff" stroke="#fff" stroke-width="2.4" stroke-linejoin="round" opacity="0.6"/>
<polygon points="593.7,83.2 605.2,100.5 594.7,116.5 580.7,100.5" fill="#3f8f62"/>
<polygon points="593.7,83.2 595.2,99 594.7,116.5 580.7,100.5" fill="#54a276"/>
<polygon points="593.7,83.2 605.2,100.5 595.2,99" fill="#2e7a52"/>
<polygon points="593.7,83.2 605.2,100.5 594.7,116.5 580.7,100.5" fill="#fff" opacity="0.06"/>
<polygon points="618.1,83.2 629.6,100.5 619.1,116.5 605.1,100.5" fill="#fff" stroke="#fff" stroke-width="2.4" stroke-linejoin="round" opacity="0.6"/>
<polygon points="618.1,83.2 629.6,100.5 619.1,116.5 605.1,100.5" fill="#3f8f62"/>
<polygon points="618.1,83.2 619.6,99 619.1,116.5 605.1,100.5" fill="#54a276"/>
<polygon points="618.1,83.2 629.6,100.5 619.6,99" fill="#2e7a52"/>
<polygon points="618.1,83.2 629.6,100.5 619.1,116.5 605.1,100.5" fill="#fff" opacity="0.15"/>
<polygon points="642.5,83.2 654,100.5 643.5,116.5 629.5,100.5" fill="#fff" stroke="#fff" stroke-width="2.4" stroke-linejoin="round" opacity="0.6"/>
<polygon points="642.5,83.2 654,100.5 643.5,116.5 629.5,100.5" fill="#3f8f62"/>
<polygon points="642.5,83.2 644,99 643.5,116.5 629.5,100.5" fill="#54a276"/>
<polygon points="642.5,83.2 654,100.5 644,99" fill="#2e7a52"/>
<polygon points="642.5,83.2 654,100.5 643.5,116.5 629.5,100.5" fill="#fff" opacity="0.24"/>
<polygon points="666.9,83.2 678.4,100.5 667.9,116.5 653.9,100.5" fill="#fff" stroke="#fff" stroke-width="2.4" stroke-linejoin="round" opacity="0.6"/>
<polygon points="666.9,83.2 678.4,100.5 667.9,116.5 653.9,100.5" fill="#3f8f62"/>
<polygon points="666.9,83.2 668.4,99 667.9,116.5 653.9,100.5" fill="#54a276"/>
<polygon points="666.9,83.2 678.4,100.5 668.4,99" fill="#2e7a52"/>
<polygon points="666.9,83.2 678.4,100.5 667.9,116.5 653.9,100.5" fill="#fff" opacity="0.33"/>
<polygon points="691.3,83.2 702.8,100.5 692.3,116.5 678.3,100.5" fill="#fff" stroke="#fff" stroke-width="2.4" stroke-linejoin="round" opacity="0.6"/>
<polygon points="691.3,83.2 702.8,100.5 692.3,116.5 678.3,100.5" fill="#3f8f62"/>
<polygon points="691.3,83.2 692.8,99 692.3,116.5 678.3,100.5" fill="#54a276"/>
<polygon points="691.3,83.2 702.8,100.5 692.8,99" fill="#2e7a52"/>
<polygon points="691.3,83.2 702.8,100.5 692.3,116.5 678.3,100.5" fill="#fff" opacity="0.42"/>
<polygon points="715.7,83.2 727.2,100.5 716.7,116.5 702.7,100.5" fill="#fff" stroke="#fff" stroke-width="2.4" stroke-linejoin="round" opacity="0.6"/>
<polygon points="715.7,83.2 727.2,100.5 716.7,116.5 702.7,100.5" fill="#3f8f62"/>
<polygon points="715.7,83.2 717.2,99 716.7,116.5 702.7,100.5" fill="#54a276"/>
<polygon points="715.7,83.2 727.2,100.5 717.2,99" fill="#2e7a52"/>
<polygon points="715.7,83.2 727.2,100.5 716.7,116.5 702.7,100.5" fill="#fff" opacity="0.51"/>
<polygon points="740.1,83.2 751.6,100.5 741.1,116.5 727.1,100.5" fill="#fff" stroke="#fff" stroke-width="2.4" stroke-linejoin="round" opacity="0.6"/>
<polygon points="740.1,83.2 751.6,100.5 741.1,116.5 727.1,100.5" fill="#3f8f62"/>
<polygon points="740.1,83.2 741.6,99 741.1,116.5 727.1,100.5" fill="#54a276"/>
<polygon points="740.1,83.2 751.6,100.5 741.6,99" fill="#2e7a52"/>
<polygon points="740.1,83.2 751.6,100.5 741.1,116.5 727.1,100.5" fill="#fff" opacity="0.6"/>
<polygon points="764.5,83.2 776,100.5 765.5,116.5 751.5,100.5" fill="#fff" stroke="#fff" stroke-width="2.4" stroke-linejoin="round" opacity="0.6"/>
<polygon points="764.5,83.2 776,100.5 765.5,116.5 751.5,100.5" fill="#3f8f62"/>
<polygon points="764.5,83.2 766,99 765.5,116.5 751.5,100.5" fill="#54a276"/>
<polygon points="764.5,83.2 776,100.5 766,99" fill="#2e7a52"/>
<polygon points="764.5,83.2 776,100.5 765.5,116.5 751.5,100.5" fill="#fff" opacity="0.68"/>
<circle cx="504.1" cy="103.9" r="3.1" fill="#e42020"/>
<circle cx="510.1" cy="103.9" r="3.1" fill="#e42020"/>
<circle cx="496.6" cy="83.4" r="2.8" fill="#e42020"/>
<circle cx="497.6" cy="117.6" r="2.8" fill="#e42020"/>
<circle cx="528.5" cy="97.3" r="3.1" fill="#e42020"/>
<circle cx="534.5" cy="97.3" r="3.1" fill="#e42020"/>
<circle cx="521" cy="83.4" r="2.8" fill="#e42020"/>
<circle cx="522" cy="117.6" r="2.8" fill="#e42020"/>
<circle cx="552.9" cy="103.9" r="3.1" fill="#e42020"/>
<circle cx="558.9" cy="103.9" r="3.1" fill="#e42020"/>
<circle cx="545.4" cy="83.4" r="2.8" fill="#e42020"/>
<circle cx="546.4" cy="117.6" r="2.8" fill="#e42020"/>
<circle cx="577.3" cy="97.3" r="3.1" fill="#e42121"/>
<circle cx="583.3" cy="97.3" r="3.1" fill="#e42627"/>
<circle cx="569.8" cy="83.4" r="2.8" fill="#e42020"/>
<circle cx="570.8" cy="117.6" r="2.8" fill="#e42020"/>
<circle cx="601.7" cy="103.9" r="3.1" fill="#e63636"/>
<circle cx="607.7" cy="103.9" r="3.1" fill="#e73a3c"/>
<circle cx="594.2" cy="83.4" r="2.8" fill="#e52e2e"/>
<circle cx="595.2" cy="117.6" r="2.8" fill="#e52e2e"/>
<circle cx="626.1" cy="97.3" r="3.1" fill="#e94a4c"/>
<circle cx="632.1" cy="97.3" r="3.1" fill="#ea4f51"/>
<circle cx="618.6" cy="83.4" r="2.8" fill="#e84243"/>
<circle cx="619.6" cy="117.6" r="2.8" fill="#e84243"/>
<circle cx="650.5" cy="103.9" r="3.1" fill="#ec5e61"/>
<circle cx="656.5" cy="103.9" r="3.1" fill="#ec6366"/>
<circle cx="643" cy="83.4" r="2.8" fill="#eb5658"/>
<circle cx="644" cy="117.6" r="2.8" fill="#eb5658"/>
<circle cx="674.9" cy="97.3" r="3.1" fill="#ee7276"/>
<circle cx="680.9" cy="97.3" r="3.1" fill="#ef777b"/>
<circle cx="667.4" cy="83.4" r="2.8" fill="#ed6a6d"/>
<circle cx="668.4" cy="117.6" r="2.8" fill="#ed6a6d"/>
<circle cx="699.3" cy="103.9" r="3.1" fill="#f1868b"/>
<circle cx="705.3" cy="103.9" r="3.1" fill="#f28b90"/>
<circle cx="691.8" cy="83.4" r="2.8" fill="#f07e82"/>
<circle cx="692.8" cy="117.6" r="2.8" fill="#f07e82"/>
<circle cx="723.7" cy="97.3" r="3.1" fill="#f49aa0"/>
<circle cx="729.7" cy="97.3" r="3.1" fill="#f49fa5"/>
<circle cx="716.2" cy="83.4" r="2.8" fill="#f39297"/>
<circle cx="717.2" cy="117.6" r="2.8" fill="#f39297"/>
<circle cx="748.1" cy="103.9" r="3.1" fill="#f6aeb5"/>
<circle cx="754.1" cy="103.9" r="3.1" fill="#f7b3ba"/>
<circle cx="740.6" cy="83.4" r="2.8" fill="#f5a6ac"/>
<circle cx="741.6" cy="117.6" r="2.8" fill="#f5a6ac"/>
<circle cx="772.5" cy="97.3" r="3.1" fill="#f8b8bf"/>
<circle cx="778.5" cy="97.3" r="3.1" fill="#f8b8bf"/>
<circle cx="765" cy="83.4" r="2.8" fill="#f8b8bf"/>
<circle cx="766" cy="117.6" r="2.8" fill="#f8b8bf"/>
<circle cx="494.6" cy="52.8" r="9.2" fill="url(#gHalo)"/>
<circle cx="493.6" cy="76.5" r="9.2" fill="url(#gHalo)"/>
<circle cx="519" cy="52.8" r="9.2" fill="url(#gHalo)"/>
<circle cx="521" cy="76.5" r="9.2" fill="url(#gHalo)"/>
<circle cx="543.4" cy="52.8" r="9.2" fill="url(#gHalo)"/>
<circle cx="542.4" cy="76.5" r="9.2" fill="url(#gHalo)"/>
<circle cx="567.8" cy="52.8" r="9.2" fill="url(#gHalo)"/>
<circle cx="569.8" cy="76.5" r="9.2" fill="url(#gHalo)"/>
<circle cx="592.2" cy="52.8" r="9.2" fill="url(#gHalo)"/>
<circle cx="591.2" cy="76.5" r="9.2" fill="url(#gHalo)"/>
<circle cx="616.6" cy="52.8" r="9.2" fill="url(#gHalo)"/>
<circle cx="618.6" cy="76.5" r="9.2" fill="url(#gHalo)"/>
<circle cx="641" cy="52.8" r="9.2" fill="url(#gHalo)"/>
<circle cx="640" cy="76.5" r="9.2" fill="url(#gHalo)"/>
<circle cx="665.4" cy="52.8" r="9.2" fill="url(#gHalo)"/>
<circle cx="667.4" cy="76.5" r="9.2" fill="url(#gHalo)"/>
<circle cx="689.8" cy="52.8" r="9.2" fill="url(#gHalo)"/>
<circle cx="688.8" cy="76.5" r="9.2" fill="url(#gHalo)"/>
<circle cx="714.2" cy="52.8" r="9.2" fill="url(#gHalo)"/>
<circle cx="716.2" cy="76.5" r="9.2" fill="url(#gHalo)"/>
<circle cx="738.6" cy="52.8" r="9.2" fill="url(#gHalo)"/>
<circle cx="737.6" cy="76.5" r="9.2" fill="url(#gHalo)"/>
<circle cx="763" cy="52.8" r="9.2" fill="url(#gHalo)"/>
<circle cx="765" cy="76.5" r="9.2" fill="url(#gHalo)"/>
<path d="M494.8,54.8 L518.8,74.5 M494.8,74.5 L518.8,54.8" stroke="#fff" stroke-width="7.5" opacity="0.45"/>
<path d="M494.8,54.8 L518.8,74.5 M494.8,74.5 L518.8,54.8" stroke="#d01818" stroke-width="5"/>
<path d="M494.8,64 L518.8,64" stroke="#c060d0" stroke-width="2" opacity="0.5"/>
<circle cx="506.8" cy="64" r="2.8" fill="#ff3030"/>
<path d="M519.2,54.8 L543.2,74.5 M519.2,74.5 L543.2,54.8" stroke="#fff" stroke-width="7.5" opacity="0.45"/>
<path d="M519.2,54.8 L543.2,74.5 M519.2,74.5 L543.2,54.8" stroke="#d01818" stroke-width="5"/>
<path d="M519.2,64 L543.2,64" stroke="#c060d0" stroke-width="2" opacity="0.5"/>
<circle cx="531.2" cy="64" r="2.8" fill="#ff3030"/>
<path d="M543.6,54.8 L567.6,74.5 M543.6,74.5 L567.6,54.8" stroke="#fff" stroke-width="7.5" opacity="0.45"/>
<path d="M543.6,54.8 L567.6,74.5 M543.6,74.5 L567.6,54.8" stroke="#d01818" stroke-width="5"/>
<path d="M543.6,64 L567.6,64" stroke="#c060d0" stroke-width="2" opacity="0.5"/>
<circle cx="555.6" cy="64" r="2.8" fill="#ff3030"/>
<path d="M568,54.8 L592,74.5 M568,74.5 L592,54.8" stroke="#fff" stroke-width="7.5" opacity="0.45"/>
<path d="M568,54.8 L592,74.5 M568,74.5 L592,54.8" stroke="#d01c1c" stroke-width="5"/>
<path d="M568,64 L592,64" stroke="#c162d0" stroke-width="2" opacity="0.5"/>
<circle cx="580" cy="64" r="2.8" fill="#ff3333"/>
<path d="M592.4,54.8 L616.4,74.5 M592.4,74.5 L616.4,54.8" stroke="#fff" stroke-width="7.5" opacity="0.45"/>
<path d="M592.4,54.8 L616.4,74.5 M592.4,74.5 L616.4,54.8" stroke="#d53132" stroke-width="5"/>
<path d="M592.4,64 L616.4,64" stroke="#c66fd3" stroke-width="2" opacity="0.5"/>
<circle cx="604.4" cy="64" r="2.8" fill="#ff4647"/>
<path d="M616.8,54.8 L640.8,74.5 M616.8,74.5 L640.8,54.8" stroke="#fff" stroke-width="7.5" opacity="0.45"/>
<path d="M616.8,54.8 L640.8,74.5 M616.8,74.5 L640.8,54.8" stroke="#da4648" stroke-width="5"/>
<path d="M616.8,64 L640.8,64" stroke="#cc7bd7" stroke-width="2" opacity="0.5"/>
<circle cx="628.8" cy="64" r="2.8" fill="#ff585a"/>
<path d="M641.2,54.8 L665.2,74.5 M641.2,74.5 L665.2,54.8" stroke="#fff" stroke-width="7.5" opacity="0.45"/>
<path d="M641.2,54.8 L665.2,74.5 M641.2,74.5 L665.2,54.8" stroke="#de5b5d" stroke-width="5"/>
<path d="M641.2,64 L665.2,64" stroke="#d288da" stroke-width="2" opacity="0.5"/>
<circle cx="653.2" cy="64" r="2.8" fill="#ff6b6e"/>
<path d="M665.6,54.8 L689.6,74.5 M665.6,74.5 L689.6,54.8" stroke="#fff" stroke-width="7.5" opacity="0.45"/>
<path d="M665.6,54.8 L689.6,74.5 M665.6,74.5 L689.6,54.8" stroke="#e36f73" stroke-width="5"/>
<path d="M665.6,64 L689.6,64" stroke="#d794dd" stroke-width="2" opacity="0.5"/>
<circle cx="677.6" cy="64" r="2.8" fill="#ff7d81"/>
<path d="M690,54.8 L714,74.5 M690,74.5 L714,54.8" stroke="#fff" stroke-width="7.5" opacity="0.45"/>
<path d="M690,54.8 L714,74.5 M690,74.5 L714,54.8" stroke="#e88489" stroke-width="5"/>
<path d="M690,64 L714,64" stroke="#dda1e1" stroke-width="2" opacity="0.5"/>
<circle cx="702" cy="64" r="2.8" fill="#ff9095"/>
<path d="M714.4,54.8 L738.4,74.5 M714.4,74.5 L738.4,54.8" stroke="#fff" stroke-width="7.5" opacity="0.45"/>
<path d="M714.4,54.8 L738.4,74.5 M714.4,74.5 L738.4,54.8" stroke="#ec999f" stroke-width="5"/>
<path d="M714.4,64 L738.4,64" stroke="#e3ade4" stroke-width="2" opacity="0.5"/>
<circle cx="726.4" cy="64" r="2.8" fill="#ffa3a8"/>
<path d="M738.8,54.8 L762.8,74.5 M738.8,74.5 L762.8,54.8" stroke="#fff" stroke-width="7.5" opacity="0.45"/>
<path d="M738.8,54.8 L762.8,74.5 M738.8,74.5 L762.8,54.8" stroke="#f1aeb5" stroke-width="5"/>
<path d="M738.8,64 L762.8,64" stroke="#e8bae7" stroke-width="2" opacity="0.5"/>
<circle cx="750.8" cy="64" r="2.8" fill="#ffb5bc"/>
<path d="M763.2,54.8 L787.2,74.5 M763.2,74.5 L787.2,54.8" stroke="#fff" stroke-width="7.5" opacity="0.45"/>
<path d="M763.2,54.8 L787.2,74.5 M763.2,74.5 L787.2,54.8" stroke="#f3b6bd" stroke-width="5"/>
<path d="M763.2,64 L787.2,64" stroke="#eabfe9" stroke-width="2" opacity="0.5"/>
<circle cx="775.2" cy="64" r="2.8" fill="#ffbcc3"/>
<circle cx="494.6" cy="52.8" r="7.3" fill="url(#gBi)"/>
<circle cx="493.6" cy="76.5" r="7.1" fill="url(#gBi)"/>
<circle cx="519" cy="52.8" r="7.3" fill="url(#gBi)"/>
<circle cx="521" cy="76.5" r="7.1" fill="url(#gBi)"/>
<circle cx="543.4" cy="52.8" r="7.3" fill="url(#gBi)"/>
<circle cx="542.4" cy="76.5" r="7.1" fill="url(#gBi)"/>
<circle cx="567.8" cy="52.8" r="7.3" fill="url(#gBi)"/>
<circle cx="569.8" cy="76.5" r="7.1" fill="url(#gBi)"/>
<circle cx="592.2" cy="52.8" r="7.3" fill="url(#gBi)"/>
<circle cx="592.2" cy="52.8" r="9.1" fill="#fff" opacity="0.06"/>
<circle cx="591.2" cy="76.5" r="7.1" fill="url(#gBi)"/>
<circle cx="591.2" cy="76.5" r="8.9" fill="#fff" opacity="0.06"/>
<circle cx="616.6" cy="52.8" r="7.3" fill="url(#gBi)"/>
<circle cx="616.6" cy="52.8" r="9.1" fill="#fff" opacity="0.15"/>
<circle cx="618.6" cy="76.5" r="7.1" fill="url(#gBi)"/>
<circle cx="618.6" cy="76.5" r="8.9" fill="#fff" opacity="0.15"/>
<circle cx="641" cy="52.8" r="7.3" fill="url(#gBi)"/>
<circle cx="641" cy="52.8" r="9.1" fill="#fff" opacity="0.24"/>
<circle cx="640" cy="76.5" r="7.1" fill="url(#gBi)"/>
<circle cx="640" cy="76.5" r="8.9" fill="#fff" opacity="0.24"/>
<circle cx="665.4" cy="52.8" r="7.3" fill="url(#gBi)"/>
<circle cx="665.4" cy="52.8" r="9.1" fill="#fff" opacity="0.33"/>
<circle cx="667.4" cy="76.5" r="7.1" fill="url(#gBi)"/>
<circle cx="667.4" cy="76.5" r="8.9" fill="#fff" opacity="0.33"/>
<circle cx="689.8" cy="52.8" r="7.3" fill="url(#gBi)"/>
<circle cx="689.8" cy="52.8" r="9.1" fill="#fff" opacity="0.42"/>
<circle cx="688.8" cy="76.5" r="7.1" fill="url(#gBi)"/>
<circle cx="688.8" cy="76.5" r="8.9" fill="#fff" opacity="0.42"/>
<circle cx="714.2" cy="52.8" r="7.3" fill="url(#gBi)"/>
<circle cx="714.2" cy="52.8" r="9.1" fill="#fff" opacity="0.51"/>
<circle cx="716.2" cy="76.5" r="7.1" fill="url(#gBi)"/>
<circle cx="716.2" cy="76.5" r="8.9" fill="#fff" opacity="0.51"/>
<circle cx="738.6" cy="52.8" r="7.3" fill="url(#gBi)"/>
<circle cx="738.6" cy="52.8" r="9.1" fill="#fff" opacity="0.6"/>
<circle cx="737.6" cy="76.5" r="7.1" fill="url(#gBi)"/>
<circle cx="737.6" cy="76.5" r="8.9" fill="#fff" opacity="0.6"/>
<circle cx="763" cy="52.8" r="7.3" fill="url(#gBi)"/>
<circle cx="763" cy="52.8" r="9.1" fill="#fff" opacity="0.68"/>
<circle cx="765" cy="76.5" r="7.1" fill="url(#gBi)"/>
<circle cx="765" cy="76.5" r="8.9" fill="#fff" opacity="0.68"/>
<circle cx="494.6" cy="123.2" r="9.2" fill="url(#gHalo)"/>
<circle cx="493.6" cy="146.4" r="9.2" fill="url(#gHalo)"/>
<circle cx="519" cy="123.2" r="9.2" fill="url(#gHalo)"/>
<circle cx="521" cy="146.4" r="9.2" fill="url(#gHalo)"/>
<circle cx="543.4" cy="123.2" r="9.2" fill="url(#gHalo)"/>
<circle cx="542.4" cy="146.4" r="9.2" fill="url(#gHalo)"/>
<circle cx="567.8" cy="123.2" r="9.2" fill="url(#gHalo)"/>
<circle cx="569.8" cy="146.4" r="9.2" fill="url(#gHalo)"/>
<circle cx="592.2" cy="123.2" r="9.2" fill="url(#gHalo)"/>
<circle cx="591.2" cy="146.4" r="9.2" fill="url(#gHalo)"/>
<circle cx="616.6" cy="123.2" r="9.2" fill="url(#gHalo)"/>
<circle cx="618.6" cy="146.4" r="9.2" fill="url(#gHalo)"/>
<circle cx="641" cy="123.2" r="9.2" fill="url(#gHalo)"/>
<circle cx="640" cy="146.4" r="9.2" fill="url(#gHalo)"/>
<circle cx="665.4" cy="123.2" r="9.2" fill="url(#gHalo)"/>
<circle cx="667.4" cy="146.4" r="9.2" fill="url(#gHalo)"/>
<circle cx="689.8" cy="123.2" r="9.2" fill="url(#gHalo)"/>
<circle cx="688.8" cy="146.4" r="9.2" fill="url(#gHalo)"/>
<circle cx="714.2" cy="123.2" r="9.2" fill="url(#gHalo)"/>
<circle cx="716.2" cy="146.4" r="9.2" fill="url(#gHalo)"/>
<circle cx="738.6" cy="123.2" r="9.2" fill="url(#gHalo)"/>
<circle cx="737.6" cy="146.4" r="9.2" fill="url(#gHalo)"/>
<circle cx="763" cy="123.2" r="9.2" fill="url(#gHalo)"/>
<circle cx="765" cy="146.4" r="9.2" fill="url(#gHalo)"/>
<path d="M494.8,125.2 L518.8,144.4 M494.8,144.4 L518.8,125.2" stroke="#fff" stroke-width="7.5" opacity="0.45"/>
<path d="M494.8,125.2 L518.8,144.4 M494.8,144.4 L518.8,125.2" stroke="#d01818" stroke-width="5"/>
<path d="M494.8,133.8 L518.8,133.8" stroke="#c060d0" stroke-width="2" opacity="0.5"/>
<circle cx="506.8" cy="133.8" r="2.8" fill="#ff3030"/>
<path d="M519.2,125.2 L543.2,144.4 M519.2,144.4 L543.2,125.2" stroke="#fff" stroke-width="7.5" opacity="0.45"/>
<path d="M519.2,125.2 L543.2,144.4 M519.2,144.4 L543.2,125.2" stroke="#d01818" stroke-width="5"/>
<path d="M519.2,133.8 L543.2,133.8" stroke="#c060d0" stroke-width="2" opacity="0.5"/>
<circle cx="531.2" cy="133.8" r="2.8" fill="#ff3030"/>
<path d="M543.6,125.2 L567.6,144.4 M543.6,144.4 L567.6,125.2" stroke="#fff" stroke-width="7.5" opacity="0.45"/>
<path d="M543.6,125.2 L567.6,144.4 M543.6,144.4 L567.6,125.2" stroke="#d01818" stroke-width="5"/>
<path d="M543.6,133.8 L567.6,133.8" stroke="#c060d0" stroke-width="2" opacity="0.5"/>
<circle cx="555.6" cy="133.8" r="2.8" fill="#ff3030"/>
<path d="M568,125.2 L592,144.4 M568,144.4 L592,125.2" stroke="#fff" stroke-width="7.5" opacity="0.45"/>
<path d="M568,125.2 L592,144.4 M568,144.4 L592,125.2" stroke="#d01c1c" stroke-width="5"/>
<path d="M568,133.8 L592,133.8" stroke="#c162d0" stroke-width="2" opacity="0.5"/>
<circle cx="580" cy="133.8" r="2.8" fill="#ff3333"/>
<path d="M592.4,125.2 L616.4,144.4 M592.4,144.4 L616.4,125.2" stroke="#fff" stroke-width="7.5" opacity="0.45"/>
<path d="M592.4,125.2 L616.4,144.4 M592.4,144.4 L616.4,125.2" stroke="#d53132" stroke-width="5"/>
<path d="M592.4,133.8 L616.4,133.8" stroke="#c66fd3" stroke-width="2" opacity="0.5"/>
<circle cx="604.4" cy="133.8" r="2.8" fill="#ff4647"/>
<path d="M616.8,125.2 L640.8,144.4 M616.8,144.4 L640.8,125.2" stroke="#fff" stroke-width="7.5" opacity="0.45"/>
<path d="M616.8,125.2 L640.8,144.4 M616.8,144.4 L640.8,125.2" stroke="#da4648" stroke-width="5"/>
<path d="M616.8,133.8 L640.8,133.8" stroke="#cc7bd7" stroke-width="2" opacity="0.5"/>
<circle cx="628.8" cy="133.8" r="2.8" fill="#ff585a"/>
<path d="M641.2,125.2 L665.2,144.4 M641.2,144.4 L665.2,125.2" stroke="#fff" stroke-width="7.5" opacity="0.45"/>
<path d="M641.2,125.2 L665.2,144.4 M641.2,144.4 L665.2,125.2" stroke="#de5b5d" stroke-width="5"/>
<path d="M641.2,133.8 L665.2,133.8" stroke="#d288da" stroke-width="2" opacity="0.5"/>
<circle cx="653.2" cy="133.8" r="2.8" fill="#ff6b6e"/>
<path d="M665.6,125.2 L689.6,144.4 M665.6,144.4 L689.6,125.2" stroke="#fff" stroke-width="7.5" opacity="0.45"/>
<path d="M665.6,125.2 L689.6,144.4 M665.6,144.4 L689.6,125.2" stroke="#e36f73" stroke-width="5"/>
<path d="M665.6,133.8 L689.6,133.8" stroke="#d794dd" stroke-width="2" opacity="0.5"/>
<circle cx="677.6" cy="133.8" r="2.8" fill="#ff7d81"/>
<path d="M690,125.2 L714,144.4 M690,144.4 L714,125.2" stroke="#fff" stroke-width="7.5" opacity="0.45"/>
<path d="M690,125.2 L714,144.4 M690,144.4 L714,125.2" stroke="#e88489" stroke-width="5"/>
<path d="M690,133.8 L714,133.8" stroke="#dda1e1" stroke-width="2" opacity="0.5"/>
<circle cx="702" cy="133.8" r="2.8" fill="#ff9095"/>
<path d="M714.4,125.2 L738.4,144.4 M714.4,144.4 L738.4,125.2" stroke="#fff" stroke-width="7.5" opacity="0.45"/>
<path d="M714.4,125.2 L738.4,144.4 M714.4,144.4 L738.4,125.2" stroke="#ec999f" stroke-width="5"/>
<path d="M714.4,133.8 L738.4,133.8" stroke="#e3ade4" stroke-width="2" opacity="0.5"/>
<circle cx="726.4" cy="133.8" r="2.8" fill="#ffa3a8"/>
<path d="M738.8,125.2 L762.8,144.4 M738.8,144.4 L762.8,125.2" stroke="#fff" stroke-width="7.5" opacity="0.45"/>
<path d="M738.8,125.2 L762.8,144.4 M738.8,144.4 L762.8,125.2" stroke="#f1aeb5" stroke-width="5"/>
<path d="M738.8,133.8 L762.8,133.8" stroke="#e8bae7" stroke-width="2" opacity="0.5"/>
<circle cx="750.8" cy="133.8" r="2.8" fill="#ffb5bc"/>
<path d="M763.2,125.2 L787.2,144.4 M763.2,144.4 L787.2,125.2" stroke="#fff" stroke-width="7.5" opacity="0.45"/>
<path d="M763.2,125.2 L787.2,144.4 M763.2,144.4 L787.2,125.2" stroke="#f3b6bd" stroke-width="5"/>
<path d="M763.2,133.8 L787.2,133.8" stroke="#eabfe9" stroke-width="2" opacity="0.5"/>
<circle cx="775.2" cy="133.8" r="2.8" fill="#ffbcc3"/>
<circle cx="494.6" cy="123.2" r="7.3" fill="url(#gBi)"/>
<circle cx="493.6" cy="146.4" r="7.1" fill="url(#gBi)"/>
<circle cx="519" cy="123.2" r="7.3" fill="url(#gBi)"/>
<circle cx="521" cy="146.4" r="7.1" fill="url(#gBi)"/>
<circle cx="543.4" cy="123.2" r="7.3" fill="url(#gBi)"/>
<circle cx="542.4" cy="146.4" r="7.1" fill="url(#gBi)"/>
<circle cx="567.8" cy="123.2" r="7.3" fill="url(#gBi)"/>
<circle cx="569.8" cy="146.4" r="7.1" fill="url(#gBi)"/>
<circle cx="592.2" cy="123.2" r="7.3" fill="url(#gBi)"/>
<circle cx="592.2" cy="123.2" r="9.1" fill="#fff" opacity="0.06"/>
<circle cx="591.2" cy="146.4" r="7.1" fill="url(#gBi)"/>
<circle cx="591.2" cy="146.4" r="8.9" fill="#fff" opacity="0.06"/>
<circle cx="616.6" cy="123.2" r="7.3" fill="url(#gBi)"/>
<circle cx="616.6" cy="123.2" r="9.1" fill="#fff" opacity="0.15"/>
<circle cx="618.6" cy="146.4" r="7.1" fill="url(#gBi)"/>
<circle cx="618.6" cy="146.4" r="8.9" fill="#fff" opacity="0.15"/>
<circle cx="641" cy="123.2" r="7.3" fill="url(#gBi)"/>
<circle cx="641" cy="123.2" r="9.1" fill="#fff" opacity="0.24"/>
<circle cx="640" cy="146.4" r="7.1" fill="url(#gBi)"/>
<circle cx="640" cy="146.4" r="8.9" fill="#fff" opacity="0.24"/>
<circle cx="665.4" cy="123.2" r="7.3" fill="url(#gBi)"/>
<circle cx="665.4" cy="123.2" r="9.1" fill="#fff" opacity="0.33"/>
<circle cx="667.4" cy="146.4" r="7.1" fill="url(#gBi)"/>
<circle cx="667.4" cy="146.4" r="8.9" fill="#fff" opacity="0.33"/>
<circle cx="689.8" cy="123.2" r="7.3" fill="url(#gBi)"/>
<circle cx="689.8" cy="123.2" r="9.1" fill="#fff" opacity="0.42"/>
<circle cx="688.8" cy="146.4" r="7.1" fill="url(#gBi)"/>
<circle cx="688.8" cy="146.4" r="8.9" fill="#fff" opacity="0.42"/>
<circle cx="714.2" cy="123.2" r="7.3" fill="url(#gBi)"/>
<circle cx="714.2" cy="123.2" r="9.1" fill="#fff" opacity="0.51"/>
<circle cx="716.2" cy="146.4" r="7.1" fill="url(#gBi)"/>
<circle cx="716.2" cy="146.4" r="8.9" fill="#fff" opacity="0.51"/>
<circle cx="738.6" cy="123.2" r="7.3" fill="url(#gBi)"/>
<circle cx="738.6" cy="123.2" r="9.1" fill="#fff" opacity="0.6"/>
<circle cx="737.6" cy="146.4" r="7.1" fill="url(#gBi)"/>
<circle cx="737.6" cy="146.4" r="8.9" fill="#fff" opacity="0.6"/>
<circle cx="763" cy="123.2" r="7.3" fill="url(#gBi)"/>
<circle cx="763" cy="123.2" r="9.1" fill="#fff" opacity="0.68"/>
<circle cx="765" cy="146.4" r="7.1" fill="url(#gBi)"/>
<circle cx="765" cy="146.4" r="8.9" fill="#fff" opacity="0.68"/>
<ellipse cx="519.1" cy="36" rx="7.9" ry="7.1" fill="url(#gHalo)"/>
<ellipse cx="519.1" cy="36" rx="5.5" ry="4.7" fill="url(#gBr)"/>
<ellipse cx="567.7" cy="36" rx="7.9" ry="7.1" fill="url(#gHalo)"/>
<ellipse cx="567.7" cy="36" rx="5.5" ry="4.7" fill="url(#gBr)"/>
<ellipse cx="616.3" cy="36" rx="7.9" ry="7.1" fill="url(#gHalo)"/>
<ellipse cx="616.3" cy="36" rx="5.5" ry="4.7" fill="url(#gBr)"/>
<ellipse cx="616.3" cy="36" rx="7.3" ry="6.5" fill="#fff" opacity="0.15"/>
<ellipse cx="664.9" cy="36" rx="7.9" ry="7.1" fill="url(#gHalo)"/>
<ellipse cx="664.9" cy="36" rx="5.5" ry="4.7" fill="url(#gBr)"/>
<ellipse cx="664.9" cy="36" rx="7.3" ry="6.5" fill="#fff" opacity="0.33"/>
<ellipse cx="713.5" cy="36" rx="7.9" ry="7.1" fill="url(#gHalo)"/>
<ellipse cx="713.5" cy="36" rx="5.5" ry="4.7" fill="url(#gBr)"/>
<ellipse cx="713.5" cy="36" rx="7.3" ry="6.5" fill="#fff" opacity="0.51"/>
<ellipse cx="762.1" cy="36" rx="7.9" ry="7.1" fill="url(#gHalo)"/>
<ellipse cx="762.1" cy="36" rx="5.5" ry="4.7" fill="url(#gBr)"/>
<ellipse cx="762.1" cy="36" rx="7.3" ry="6.5" fill="#fff" opacity="0.68"/>
<g transform="translate(497,162.3) rotate(15)">
<ellipse cx="0" cy="0" rx="6.6" ry="8.4" fill="url(#gHalo)"/><ellipse cx="0" cy="0" rx="4.6" ry="6.4" fill="url(#gBr)"/>
</g>
<g transform="translate(521.4,162.3) rotate(15)">
<ellipse cx="0" cy="0" rx="6.6" ry="8.4" fill="url(#gHalo)"/><ellipse cx="0" cy="0" rx="4.6" ry="6.4" fill="url(#gBr)"/>
</g>
<g transform="translate(545.8,162.3) rotate(15)">
<ellipse cx="0" cy="0" rx="6.6" ry="8.4" fill="url(#gHalo)"/><ellipse cx="0" cy="0" rx="4.6" ry="6.4" fill="url(#gBr)"/>
</g>
<g transform="translate(570.2,162.3) rotate(15)">
<ellipse cx="0" cy="0" rx="6.6" ry="8.4" fill="url(#gHalo)"/><ellipse cx="0" cy="0" rx="4.6" ry="6.4" fill="url(#gBr)"/>
</g>
<g transform="translate(594.6,162.3) rotate(15)">
<ellipse cx="0" cy="0" rx="6.6" ry="8.4" fill="url(#gHalo)"/><ellipse cx="0" cy="0" rx="4.6" ry="6.4" fill="url(#gBr)"/>
<ellipse cx="0" cy="0" rx="6.6" ry="8.4" fill="#fff" opacity="0.07"/>
</g>
<g transform="translate(619,162.3) rotate(15)">
<ellipse cx="0" cy="0" rx="6.6" ry="8.4" fill="url(#gHalo)"/><ellipse cx="0" cy="0" rx="4.6" ry="6.4" fill="url(#gBr)"/>
<ellipse cx="0" cy="0" rx="6.6" ry="8.4" fill="#fff" opacity="0.16"/>
</g>
<g transform="translate(643.4,162.3) rotate(15)">
<ellipse cx="0" cy="0" rx="6.6" ry="8.4" fill="url(#gHalo)"/><ellipse cx="0" cy="0" rx="4.6" ry="6.4" fill="url(#gBr)"/>
<ellipse cx="0" cy="0" rx="6.6" ry="8.4" fill="#fff" opacity="0.25"/>
</g>
<g transform="translate(667.8,162.3) rotate(15)">
<ellipse cx="0" cy="0" rx="6.6" ry="8.4" fill="url(#gHalo)"/><ellipse cx="0" cy="0" rx="4.6" ry="6.4" fill="url(#gBr)"/>
<ellipse cx="0" cy="0" rx="6.6" ry="8.4" fill="#fff" opacity="0.34"/>
</g>
<g transform="translate(692.2,162.3) rotate(15)">
<ellipse cx="0" cy="0" rx="6.6" ry="8.4" fill="url(#gHalo)"/><ellipse cx="0" cy="0" rx="4.6" ry="6.4" fill="url(#gBr)"/>
<ellipse cx="0" cy="0" rx="6.6" ry="8.4" fill="#fff" opacity="0.43"/>
</g>
<g transform="translate(716.6,162.3) rotate(15)">
<ellipse cx="0" cy="0" rx="6.6" ry="8.4" fill="url(#gHalo)"/><ellipse cx="0" cy="0" rx="4.6" ry="6.4" fill="url(#gBr)"/>
<ellipse cx="0" cy="0" rx="6.6" ry="8.4" fill="#fff" opacity="0.52"/>
</g>
<g transform="translate(741,162.3) rotate(15)">
<ellipse cx="0" cy="0" rx="6.6" ry="8.4" fill="url(#gHalo)"/><ellipse cx="0" cy="0" rx="4.6" ry="6.4" fill="url(#gBr)"/>
<ellipse cx="0" cy="0" rx="6.6" ry="8.4" fill="#fff" opacity="0.61"/>
</g>
<g transform="translate(765.4,162.3) rotate(15)">
<ellipse cx="0" cy="0" rx="6.6" ry="8.4" fill="url(#gHalo)"/><ellipse cx="0" cy="0" rx="4.6" ry="6.4" fill="url(#gBr)"/>
<ellipse cx="0" cy="0" rx="6.6" ry="8.4" fill="#fff" opacity="0.68"/>
</g>
<line x1="475" y1="63" x2="488" y2="65" stroke="#fff" stroke-width="5" opacity="0.7"/>
<line x1="475" y1="63" x2="488" y2="65" stroke="#e02a2a" stroke-width="3" />
<circle cx="475" cy="63" r="3.7" fill="#fff" opacity="0.8"/>
<circle cx="475" cy="63" r="2.4" fill="url(#gO)"/>
<line x1="472" y1="81" x2="490" y2="78" stroke="#fff" stroke-width="5" opacity="0.7"/>
<line x1="472" y1="81" x2="490" y2="78" stroke="#e02a2a" stroke-width="3" />
<circle cx="472" cy="81" r="3.7" fill="#fff" opacity="0.8"/>
<circle cx="472" cy="81" r="2.4" fill="url(#gO)"/>
<line x1="478" y1="97.5" x2="486" y2="97.5" stroke="#fff" stroke-width="5" opacity="0.7"/>
<line x1="478" y1="97.5" x2="486" y2="97.5" stroke="#e02a2a" stroke-width="3" />
<circle cx="478" cy="97.5" r="3.7" fill="#fff" opacity="0.8"/>
<circle cx="478" cy="97.5" r="2.4" fill="url(#gO)"/>
<line x1="477" y1="133" x2="490" y2="135" stroke="#fff" stroke-width="5" opacity="0.7"/>
<line x1="477" y1="133" x2="490" y2="135" stroke="#e02a2a" stroke-width="3" />
<circle cx="477" cy="133" r="3.7" fill="#fff" opacity="0.8"/>
<circle cx="477" cy="133" r="2.4" fill="url(#gO)"/>
<path d="M737.5,41 L771.5,76 L755.5,76 L755.5,172.5 L719.5,172.5 L719.5,76 L703.5,76 Z" fill="url(#gP)"/>
<circle cx="738" cy="63" r="8.2" fill="#ee1010"/><rect x="734" y="62" width="8" height="2" fill="#fff" opacity="0.9"/>
<circle cx="738" cy="160" r="8.2" fill="#1a4a98"/><path d="M734,160 L742,160 M738,156 L738,164" stroke="#fff" stroke-width="1.6"/>
<text x="738" y="114" font-size="19" text-anchor="middle" fill="#222">P</text>
<path d="M786.8,50 Q789,50 789,53 L789,63.5 L791.2,65.5 L789,67.5 L789,78 Q789,81 786.8,81" fill="none" stroke="#d0d0d0" stroke-width="2"/>
<text x="795" y="69.5" font-size="13.5" fill="#333" stroke="#c8c8c8" stroke-width="1.9" paint-order="stroke" stroke-linejoin="round" font-weight="bold" letter-spacing="-0.4">[Bi<tspan font-size="8.37" dy="3">2</tspan><tspan dy="-3">O</tspan><tspan font-size="8.37" dy="3">2</tspan><tspan dy="-3">]</tspan><tspan font-size="8.37" dy="-5">2+</tspan></text>
<path d="M786.8,86 Q789,86 789,89 L789,99 L791.2,101 L789,103 L789,113 Q789,116 786.8,116" fill="none" stroke="#d0d0d0" stroke-width="2"/>
<text x="795" y="105" font-size="13.5" fill="#333" stroke="#c8c8c8" stroke-width="1.9" paint-order="stroke" stroke-linejoin="round" font-weight="bold" letter-spacing="-0.4">[NbO<tspan font-size="8.4" dy="3">4</tspan><tspan dy="-3">]</tspan><tspan font-size="8.4" dy="-5">3-</tspan></text>
<path d="M786.8,121 Q789,121 789,124 L789,134 L791.2,136 L789,138 L789,148 Q789,151 786.8,151" fill="none" stroke="#d0d0d0" stroke-width="2"/>
<text x="795" y="139.5" font-size="13.5" fill="#333" stroke="#c8c8c8" stroke-width="1.9" paint-order="stroke" stroke-linejoin="round" font-weight="bold" letter-spacing="-0.4">[Bi<tspan font-size="8.37" dy="3">2</tspan><tspan dy="-3">O</tspan><tspan font-size="8.37" dy="3">2</tspan><tspan dy="-3">]</tspan><tspan font-size="8.37" dy="-5">2+</tspan></text>
<path d="M786.8,156 Q789,156 789,159 L789,161.5 L791.2,163.5 L789,165.5 L789,168 Q789,171 786.8,171" fill="none" stroke="#d0d0d0" stroke-width="2"/>
<text x="795" y="166" font-size="13.5" text-anchor="start" fill="#2e2e2e" stroke="#c8c8c8" stroke-width="1.9" paint-order="stroke" stroke-linejoin="round" font-weight="bold" font-weight="bold">Br<tspan font-size="8" dy="-5">-</tspan></text>
<g clip-path="url(#cBOB)">
<rect x="49" y="178" width="200" height="122" fill="#505050"/>
<g filter="url(#fBlur)">
<rect x="40" y="204" width="220" height="5" fill="#000" opacity="0.12"/>
<rect x="40" y="235.5" width="220" height="5" fill="#000" opacity="0.12"/>
<rect x="40" y="267.5" width="220" height="5" fill="#000" opacity="0.12"/>
<ellipse cx="41.5" cy="206.5" rx="5" ry="4.5" fill="url(#gBlob)" opacity="0.35"/>
<ellipse cx="57" cy="206.5" rx="5" ry="4.5" fill="url(#gBlob)" opacity="0.35"/>
<ellipse cx="72.5" cy="206.5" rx="5" ry="4.5" fill="url(#gBlob)" opacity="0.35"/>
<ellipse cx="88" cy="206.5" rx="5" ry="4.5" fill="url(#gBlob)" opacity="0.35"/>
<ellipse cx="103.5" cy="206.5" rx="5" ry="4.5" fill="url(#gBlob)" opacity="0.35"/>
<ellipse cx="119" cy="206.5" rx="5" ry="4.5" fill="url(#gBlob)" opacity="0.35"/>
<ellipse cx="134.5" cy="206.5" rx="5" ry="4.5" fill="url(#gBlob)" opacity="0.35"/>
<ellipse cx="150" cy="206.5" rx="5" ry="4.5" fill="url(#gBlob)" opacity="0.35"/>
<ellipse cx="165.5" cy="206.5" rx="5" ry="4.5" fill="url(#gBlob)" opacity="0.35"/>
<ellipse cx="181" cy="206.5" rx="5" ry="4.5" fill="url(#gBlob)" opacity="0.35"/>
<ellipse cx="196.5" cy="206.5" rx="5" ry="4.5" fill="url(#gBlob)" opacity="0.35"/>
<ellipse cx="212" cy="206.5" rx="5" ry="4.5" fill="url(#gBlob)" opacity="0.35"/>
<ellipse cx="227.5" cy="206.5" rx="5" ry="4.5" fill="url(#gBlob)" opacity="0.35"/>
<ellipse cx="243" cy="206.5" rx="5" ry="4.5" fill="url(#gBlob)" opacity="0.35"/>
<ellipse cx="38.5" cy="238" rx="5" ry="4.5" fill="url(#gBlob)" opacity="0.35"/>
<ellipse cx="54" cy="238" rx="5" ry="4.5" fill="url(#gBlob)" opacity="0.35"/>
<ellipse cx="69.5" cy="238" rx="5" ry="4.5" fill="url(#gBlob)" opacity="0.35"/>
<ellipse cx="85" cy="238" rx="5" ry="4.5" fill="url(#gBlob)" opacity="0.35"/>
<ellipse cx="100.5" cy="238" rx="5" ry="4.5" fill="url(#gBlob)" opacity="0.35"/>
<ellipse cx="116" cy="238" rx="5" ry="4.5" fill="url(#gBlob)" opacity="0.35"/>
<ellipse cx="131.5" cy="238" rx="5" ry="4.5" fill="url(#gBlob)" opacity="0.35"/>
<ellipse cx="147" cy="238" rx="5" ry="4.5" fill="url(#gBlob)" opacity="0.35"/>
<ellipse cx="162.5" cy="238" rx="5" ry="4.5" fill="url(#gBlob)" opacity="0.35"/>
<ellipse cx="178" cy="238" rx="5" ry="4.5" fill="url(#gBlob)" opacity="0.35"/>
<ellipse cx="193.5" cy="238" rx="5" ry="4.5" fill="url(#gBlob)" opacity="0.35"/>
<ellipse cx="209" cy="238" rx="5" ry="4.5" fill="url(#gBlob)" opacity="0.35"/>
<ellipse cx="224.5" cy="238" rx="5" ry="4.5" fill="url(#gBlob)" opacity="0.35"/>
<ellipse cx="240" cy="238" rx="5" ry="4.5" fill="url(#gBlob)" opacity="0.35"/>
<ellipse cx="39.5" cy="270" rx="5" ry="4.5" fill="url(#gBlob)" opacity="0.35"/>
<ellipse cx="55" cy="270" rx="5" ry="4.5" fill="url(#gBlob)" opacity="0.35"/>
<ellipse cx="70.5" cy="270" rx="5" ry="4.5" fill="url(#gBlob)" opacity="0.35"/>
<ellipse cx="86" cy="270" rx="5" ry="4.5" fill="url(#gBlob)" opacity="0.35"/>
<ellipse cx="101.5" cy="270" rx="5" ry="4.5" fill="url(#gBlob)" opacity="0.35"/>
<ellipse cx="117" cy="270" rx="5" ry="4.5" fill="url(#gBlob)" opacity="0.35"/>
<ellipse cx="132.5" cy="270" rx="5" ry="4.5" fill="url(#gBlob)" opacity="0.35"/>
<ellipse cx="148" cy="270" rx="5" ry="4.5" fill="url(#gBlob)" opacity="0.35"/>
<ellipse cx="163.5" cy="270" rx="5" ry="4.5" fill="url(#gBlob)" opacity="0.35"/>
<ellipse cx="179" cy="270" rx="5" ry="4.5" fill="url(#gBlob)" opacity="0.35"/>
<ellipse cx="194.5" cy="270" rx="5" ry="4.5" fill="url(#gBlob)" opacity="0.35"/>
<ellipse cx="210" cy="270" rx="5" ry="4.5" fill="url(#gBlob)" opacity="0.35"/>
<ellipse cx="225.5" cy="270" rx="5" ry="4.5" fill="url(#gBlob)" opacity="0.35"/>
<ellipse cx="241" cy="270" rx="5" ry="4.5" fill="url(#gBlob)" opacity="0.35"/>
<path d="M37.2,183.2 L45.2,183.2 L41.2,190.7 Z" fill="#fff" opacity="0.3"/>
<ellipse cx="41.2" cy="186.2" rx="5.4" ry="5.8" fill="url(#gBlob)" opacity="0.71"/>
<path d="M52.7,183.2 L60.7,183.2 L56.7,190.7 Z" fill="#fff" opacity="0.3"/>
<ellipse cx="56.7" cy="186.2" rx="5.4" ry="5.8" fill="url(#gBlob)" opacity="0.71"/>
<path d="M68.2,183.2 L76.2,183.2 L72.2,190.7 Z" fill="#fff" opacity="0.3"/>
<ellipse cx="72.2" cy="186.2" rx="5.4" ry="5.8" fill="url(#gBlob)" opacity="0.71"/>
<path d="M83.7,183.2 L91.7,183.2 L87.7,190.7 Z" fill="#fff" opacity="0.3"/>
<ellipse cx="87.7" cy="186.2" rx="5.4" ry="5.8" fill="url(#gBlob)" opacity="0.71"/>
<path d="M99.2,183.2 L107.2,183.2 L103.2,190.7 Z" fill="#fff" opacity="0.3"/>
<ellipse cx="103.2" cy="186.2" rx="5.4" ry="5.8" fill="url(#gBlob)" opacity="0.71"/>
<path d="M114.7,183.2 L122.7,183.2 L118.7,190.7 Z" fill="#fff" opacity="0.3"/>
<ellipse cx="118.7" cy="186.2" rx="5.4" ry="5.8" fill="url(#gBlob)" opacity="0.71"/>
<path d="M130.2,183.2 L138.2,183.2 L134.2,190.7 Z" fill="#fff" opacity="0.3"/>
<ellipse cx="134.2" cy="186.2" rx="5.4" ry="5.8" fill="url(#gBlob)" opacity="0.71"/>
<path d="M145.7,183.2 L153.7,183.2 L149.7,190.7 Z" fill="#fff" opacity="0.3"/>
<ellipse cx="149.7" cy="186.2" rx="5.4" ry="5.8" fill="url(#gBlob)" opacity="0.71"/>
<path d="M161.2,183.2 L169.2,183.2 L165.2,190.7 Z" fill="#fff" opacity="0.3"/>
<ellipse cx="165.2" cy="186.2" rx="5.4" ry="5.8" fill="url(#gBlob)" opacity="0.71"/>
<path d="M176.7,183.2 L184.7,183.2 L180.7,190.7 Z" fill="#fff" opacity="0.3"/>
<ellipse cx="180.7" cy="186.2" rx="5.4" ry="5.8" fill="url(#gBlob)" opacity="0.71"/>
<path d="M192.2,183.2 L200.2,183.2 L196.2,190.7 Z" fill="#fff" opacity="0.3"/>
<ellipse cx="196.2" cy="186.2" rx="5.4" ry="5.8" fill="url(#gBlob)" opacity="0.71"/>
<path d="M207.7,183.2 L215.7,183.2 L211.7,190.7 Z" fill="#fff" opacity="0.3"/>
<ellipse cx="211.7" cy="186.2" rx="5.4" ry="5.8" fill="url(#gBlob)" opacity="0.71"/>
<path d="M223.2,183.2 L231.2,183.2 L227.2,190.7 Z" fill="#fff" opacity="0.3"/>
<ellipse cx="227.2" cy="186.2" rx="5.4" ry="5.8" fill="url(#gBlob)" opacity="0.71"/>
<path d="M238.7,183.2 L246.7,183.2 L242.7,190.7 Z" fill="#fff" opacity="0.3"/>
<ellipse cx="242.7" cy="186.2" rx="5.4" ry="5.8" fill="url(#gBlob)" opacity="0.71"/>
<path d="M29.5,192.5 L37.5,192.5 L33.5,200 Z" fill="#fff" opacity="0.36"/>
<ellipse cx="33.5" cy="195.5" rx="5.4" ry="5.8" fill="url(#gBlob)" opacity="0.85"/>
<path d="M45,192.5 L53,192.5 L49,200 Z" fill="#fff" opacity="0.36"/>
<ellipse cx="49" cy="195.5" rx="5.4" ry="5.8" fill="url(#gBlob)" opacity="0.85"/>
<path d="M60.5,192.5 L68.5,192.5 L64.5,200 Z" fill="#fff" opacity="0.36"/>
<ellipse cx="64.5" cy="195.5" rx="5.4" ry="5.8" fill="url(#gBlob)" opacity="0.85"/>
<path d="M76,192.5 L84,192.5 L80,200 Z" fill="#fff" opacity="0.36"/>
<ellipse cx="80" cy="195.5" rx="5.4" ry="5.8" fill="url(#gBlob)" opacity="0.85"/>
<path d="M91.5,192.5 L99.5,192.5 L95.5,200 Z" fill="#fff" opacity="0.36"/>
<ellipse cx="95.5" cy="195.5" rx="5.4" ry="5.8" fill="url(#gBlob)" opacity="0.85"/>
<path d="M107,192.5 L115,192.5 L111,200 Z" fill="#fff" opacity="0.36"/>
<ellipse cx="111" cy="195.5" rx="5.4" ry="5.8" fill="url(#gBlob)" opacity="0.85"/>
<path d="M122.5,192.5 L130.5,192.5 L126.5,200 Z" fill="#fff" opacity="0.36"/>
<ellipse cx="126.5" cy="195.5" rx="5.4" ry="5.8" fill="url(#gBlob)" opacity="0.85"/>
<path d="M138,192.5 L146,192.5 L142,200 Z" fill="#fff" opacity="0.36"/>
<ellipse cx="142" cy="195.5" rx="5.4" ry="5.8" fill="url(#gBlob)" opacity="0.85"/>
<path d="M153.5,192.5 L161.5,192.5 L157.5,200 Z" fill="#fff" opacity="0.36"/>
<ellipse cx="157.5" cy="195.5" rx="5.4" ry="5.8" fill="url(#gBlob)" opacity="0.85"/>
<path d="M169,192.5 L177,192.5 L173,200 Z" fill="#fff" opacity="0.36"/>
<ellipse cx="173" cy="195.5" rx="5.4" ry="5.8" fill="url(#gBlob)" opacity="0.85"/>
<path d="M184.5,192.5 L192.5,192.5 L188.5,200 Z" fill="#fff" opacity="0.36"/>
<ellipse cx="188.5" cy="195.5" rx="5.4" ry="5.8" fill="url(#gBlob)" opacity="0.85"/>
<path d="M200,192.5 L208,192.5 L204,200 Z" fill="#fff" opacity="0.36"/>
<ellipse cx="204" cy="195.5" rx="5.4" ry="5.8" fill="url(#gBlob)" opacity="0.85"/>
<path d="M215.5,192.5 L223.5,192.5 L219.5,200 Z" fill="#fff" opacity="0.36"/>
<ellipse cx="219.5" cy="195.5" rx="5.4" ry="5.8" fill="url(#gBlob)" opacity="0.85"/>
<path d="M231,192.5 L239,192.5 L235,200 Z" fill="#fff" opacity="0.36"/>
<ellipse cx="235" cy="195.5" rx="5.4" ry="5.8" fill="url(#gBlob)" opacity="0.85"/>
<path d="M246.5,192.5 L254.5,192.5 L250.5,200 Z" fill="#fff" opacity="0.36"/>
<ellipse cx="250.5" cy="195.5" rx="5.4" ry="5.8" fill="url(#gBlob)" opacity="0.85"/>
<path d="M35.2,215.2 L43.2,215.2 L39.2,222.7 Z" fill="#fff" opacity="0.38"/>
<ellipse cx="39.2" cy="218.2" rx="5.4" ry="5.8" fill="url(#gBlob)" opacity="0.9"/>
<path d="M50.7,215.2 L58.7,215.2 L54.7,222.7 Z" fill="#fff" opacity="0.38"/>
<ellipse cx="54.7" cy="218.2" rx="5.4" ry="5.8" fill="url(#gBlob)" opacity="0.9"/>
<path d="M66.2,215.2 L74.2,215.2 L70.2,222.7 Z" fill="#fff" opacity="0.38"/>
<ellipse cx="70.2" cy="218.2" rx="5.4" ry="5.8" fill="url(#gBlob)" opacity="0.9"/>
<path d="M81.7,215.2 L89.7,215.2 L85.7,222.7 Z" fill="#fff" opacity="0.38"/>
<ellipse cx="85.7" cy="218.2" rx="5.4" ry="5.8" fill="url(#gBlob)" opacity="0.9"/>
<path d="M97.2,215.2 L105.2,215.2 L101.2,222.7 Z" fill="#fff" opacity="0.38"/>
<ellipse cx="101.2" cy="218.2" rx="5.4" ry="5.8" fill="url(#gBlob)" opacity="0.9"/>
<path d="M112.7,215.2 L120.7,215.2 L116.7,222.7 Z" fill="#fff" opacity="0.38"/>
<ellipse cx="116.7" cy="218.2" rx="5.4" ry="5.8" fill="url(#gBlob)" opacity="0.9"/>
<path d="M128.2,215.2 L136.2,215.2 L132.2,222.7 Z" fill="#fff" opacity="0.38"/>
<ellipse cx="132.2" cy="218.2" rx="5.4" ry="5.8" fill="url(#gBlob)" opacity="0.9"/>
<path d="M143.7,215.2 L151.7,215.2 L147.7,222.7 Z" fill="#fff" opacity="0.38"/>
<ellipse cx="147.7" cy="218.2" rx="5.4" ry="5.8" fill="url(#gBlob)" opacity="0.9"/>
<path d="M159.2,215.2 L167.2,215.2 L163.2,222.7 Z" fill="#fff" opacity="0.38"/>
<ellipse cx="163.2" cy="218.2" rx="5.4" ry="5.8" fill="url(#gBlob)" opacity="0.9"/>
<path d="M174.7,215.2 L182.7,215.2 L178.7,222.7 Z" fill="#fff" opacity="0.38"/>
<ellipse cx="178.7" cy="218.2" rx="5.4" ry="5.8" fill="url(#gBlob)" opacity="0.9"/>
<path d="M190.2,215.2 L198.2,215.2 L194.2,222.7 Z" fill="#fff" opacity="0.38"/>
<ellipse cx="194.2" cy="218.2" rx="5.4" ry="5.8" fill="url(#gBlob)" opacity="0.9"/>
<path d="M205.7,215.2 L213.7,215.2 L209.7,222.7 Z" fill="#fff" opacity="0.38"/>
<ellipse cx="209.7" cy="218.2" rx="5.4" ry="5.8" fill="url(#gBlob)" opacity="0.9"/>
<path d="M221.2,215.2 L229.2,215.2 L225.2,222.7 Z" fill="#fff" opacity="0.38"/>
<ellipse cx="225.2" cy="218.2" rx="5.4" ry="5.8" fill="url(#gBlob)" opacity="0.9"/>
<path d="M236.7,215.2 L244.7,215.2 L240.7,222.7 Z" fill="#fff" opacity="0.38"/>
<ellipse cx="240.7" cy="218.2" rx="5.4" ry="5.8" fill="url(#gBlob)" opacity="0.9"/>
<path d="M28.5,224.8 L36.5,224.8 L32.5,232.3 Z" fill="#fff" opacity="0.38"/>
<ellipse cx="32.5" cy="227.8" rx="5.4" ry="5.8" fill="url(#gBlob)" opacity="0.9"/>
<path d="M44,224.8 L52,224.8 L48,232.3 Z" fill="#fff" opacity="0.38"/>
<ellipse cx="48" cy="227.8" rx="5.4" ry="5.8" fill="url(#gBlob)" opacity="0.9"/>
<path d="M59.5,224.8 L67.5,224.8 L63.5,232.3 Z" fill="#fff" opacity="0.38"/>
<ellipse cx="63.5" cy="227.8" rx="5.4" ry="5.8" fill="url(#gBlob)" opacity="0.9"/>
<path d="M75,224.8 L83,224.8 L79,232.3 Z" fill="#fff" opacity="0.38"/>
<ellipse cx="79" cy="227.8" rx="5.4" ry="5.8" fill="url(#gBlob)" opacity="0.9"/>
<path d="M90.5,224.8 L98.5,224.8 L94.5,232.3 Z" fill="#fff" opacity="0.38"/>
<ellipse cx="94.5" cy="227.8" rx="5.4" ry="5.8" fill="url(#gBlob)" opacity="0.9"/>
<path d="M106,224.8 L114,224.8 L110,232.3 Z" fill="#fff" opacity="0.38"/>
<ellipse cx="110" cy="227.8" rx="5.4" ry="5.8" fill="url(#gBlob)" opacity="0.9"/>
<path d="M121.5,224.8 L129.5,224.8 L125.5,232.3 Z" fill="#fff" opacity="0.38"/>
<ellipse cx="125.5" cy="227.8" rx="5.4" ry="5.8" fill="url(#gBlob)" opacity="0.9"/>
<path d="M137,224.8 L145,224.8 L141,232.3 Z" fill="#fff" opacity="0.38"/>
<ellipse cx="141" cy="227.8" rx="5.4" ry="5.8" fill="url(#gBlob)" opacity="0.9"/>
<path d="M152.5,224.8 L160.5,224.8 L156.5,232.3 Z" fill="#fff" opacity="0.38"/>
<ellipse cx="156.5" cy="227.8" rx="5.4" ry="5.8" fill="url(#gBlob)" opacity="0.9"/>
<path d="M168,224.8 L176,224.8 L172,232.3 Z" fill="#fff" opacity="0.38"/>
<ellipse cx="172" cy="227.8" rx="5.4" ry="5.8" fill="url(#gBlob)" opacity="0.9"/>
<path d="M183.5,224.8 L191.5,224.8 L187.5,232.3 Z" fill="#fff" opacity="0.38"/>
<ellipse cx="187.5" cy="227.8" rx="5.4" ry="5.8" fill="url(#gBlob)" opacity="0.9"/>
<path d="M199,224.8 L207,224.8 L203,232.3 Z" fill="#fff" opacity="0.38"/>
<ellipse cx="203" cy="227.8" rx="5.4" ry="5.8" fill="url(#gBlob)" opacity="0.9"/>
<path d="M214.5,224.8 L222.5,224.8 L218.5,232.3 Z" fill="#fff" opacity="0.38"/>
<ellipse cx="218.5" cy="227.8" rx="5.4" ry="5.8" fill="url(#gBlob)" opacity="0.9"/>
<path d="M230,224.8 L238,224.8 L234,232.3 Z" fill="#fff" opacity="0.38"/>
<ellipse cx="234" cy="227.8" rx="5.4" ry="5.8" fill="url(#gBlob)" opacity="0.9"/>
<path d="M245.5,224.8 L253.5,224.8 L249.5,232.3 Z" fill="#fff" opacity="0.38"/>
<ellipse cx="249.5" cy="227.8" rx="5.4" ry="5.8" fill="url(#gBlob)" opacity="0.9"/>
<path d="M33.3,246.8 L41.3,246.8 L37.3,254.3 Z" fill="#fff" opacity="0.36"/>
<ellipse cx="37.3" cy="249.8" rx="5.4" ry="5.8" fill="url(#gBlob)" opacity="0.85"/>
<path d="M48.8,246.8 L56.8,246.8 L52.8,254.3 Z" fill="#fff" opacity="0.36"/>
<ellipse cx="52.8" cy="249.8" rx="5.4" ry="5.8" fill="url(#gBlob)" opacity="0.85"/>
<path d="M64.3,246.8 L72.3,246.8 L68.3,254.3 Z" fill="#fff" opacity="0.36"/>
<ellipse cx="68.3" cy="249.8" rx="5.4" ry="5.8" fill="url(#gBlob)" opacity="0.85"/>
<path d="M79.8,246.8 L87.8,246.8 L83.8,254.3 Z" fill="#fff" opacity="0.36"/>
<ellipse cx="83.8" cy="249.8" rx="5.4" ry="5.8" fill="url(#gBlob)" opacity="0.85"/>
<path d="M95.3,246.8 L103.3,246.8 L99.3,254.3 Z" fill="#fff" opacity="0.36"/>
<ellipse cx="99.3" cy="249.8" rx="5.4" ry="5.8" fill="url(#gBlob)" opacity="0.85"/>
<path d="M110.8,246.8 L118.8,246.8 L114.8,254.3 Z" fill="#fff" opacity="0.36"/>
<ellipse cx="114.8" cy="249.8" rx="5.4" ry="5.8" fill="url(#gBlob)" opacity="0.85"/>
<path d="M126.3,246.8 L134.3,246.8 L130.3,254.3 Z" fill="#fff" opacity="0.36"/>
<ellipse cx="130.3" cy="249.8" rx="5.4" ry="5.8" fill="url(#gBlob)" opacity="0.85"/>
<path d="M141.8,246.8 L149.8,246.8 L145.8,254.3 Z" fill="#fff" opacity="0.36"/>
<ellipse cx="145.8" cy="249.8" rx="5.4" ry="5.8" fill="url(#gBlob)" opacity="0.85"/>
<path d="M157.3,246.8 L165.3,246.8 L161.3,254.3 Z" fill="#fff" opacity="0.36"/>
<ellipse cx="161.3" cy="249.8" rx="5.4" ry="5.8" fill="url(#gBlob)" opacity="0.85"/>
<path d="M172.8,246.8 L180.8,246.8 L176.8,254.3 Z" fill="#fff" opacity="0.36"/>
<ellipse cx="176.8" cy="249.8" rx="5.4" ry="5.8" fill="url(#gBlob)" opacity="0.85"/>
<path d="M188.3,246.8 L196.3,246.8 L192.3,254.3 Z" fill="#fff" opacity="0.36"/>
<ellipse cx="192.3" cy="249.8" rx="5.4" ry="5.8" fill="url(#gBlob)" opacity="0.85"/>
<path d="M203.8,246.8 L211.8,246.8 L207.8,254.3 Z" fill="#fff" opacity="0.36"/>
<ellipse cx="207.8" cy="249.8" rx="5.4" ry="5.8" fill="url(#gBlob)" opacity="0.85"/>
<path d="M219.3,246.8 L227.3,246.8 L223.3,254.3 Z" fill="#fff" opacity="0.36"/>
<ellipse cx="223.3" cy="249.8" rx="5.4" ry="5.8" fill="url(#gBlob)" opacity="0.85"/>
<path d="M234.8,246.8 L242.8,246.8 L238.8,254.3 Z" fill="#fff" opacity="0.36"/>
<ellipse cx="238.8" cy="249.8" rx="5.4" ry="5.8" fill="url(#gBlob)" opacity="0.85"/>
<path d="M40.1,256.6 L48.1,256.6 L44.1,264.1 Z" fill="#fff" opacity="0.36"/>
<ellipse cx="44.1" cy="259.6" rx="5.4" ry="5.8" fill="url(#gBlob)" opacity="0.85"/>
<path d="M55.6,256.6 L63.6,256.6 L59.6,264.1 Z" fill="#fff" opacity="0.36"/>
<ellipse cx="59.6" cy="259.6" rx="5.4" ry="5.8" fill="url(#gBlob)" opacity="0.85"/>
<path d="M71.1,256.6 L79.1,256.6 L75.1,264.1 Z" fill="#fff" opacity="0.36"/>
<ellipse cx="75.1" cy="259.6" rx="5.4" ry="5.8" fill="url(#gBlob)" opacity="0.85"/>
<path d="M86.6,256.6 L94.6,256.6 L90.6,264.1 Z" fill="#fff" opacity="0.36"/>
<ellipse cx="90.6" cy="259.6" rx="5.4" ry="5.8" fill="url(#gBlob)" opacity="0.85"/>
<path d="M102.1,256.6 L110.1,256.6 L106.1,264.1 Z" fill="#fff" opacity="0.36"/>
<ellipse cx="106.1" cy="259.6" rx="5.4" ry="5.8" fill="url(#gBlob)" opacity="0.85"/>
<path d="M117.6,256.6 L125.6,256.6 L121.6,264.1 Z" fill="#fff" opacity="0.36"/>
<ellipse cx="121.6" cy="259.6" rx="5.4" ry="5.8" fill="url(#gBlob)" opacity="0.85"/>
<path d="M133.1,256.6 L141.1,256.6 L137.1,264.1 Z" fill="#fff" opacity="0.36"/>
<ellipse cx="137.1" cy="259.6" rx="5.4" ry="5.8" fill="url(#gBlob)" opacity="0.85"/>
<path d="M148.6,256.6 L156.6,256.6 L152.6,264.1 Z" fill="#fff" opacity="0.36"/>
<ellipse cx="152.6" cy="259.6" rx="5.4" ry="5.8" fill="url(#gBlob)" opacity="0.85"/>
<path d="M164.1,256.6 L172.1,256.6 L168.1,264.1 Z" fill="#fff" opacity="0.36"/>
<ellipse cx="168.1" cy="259.6" rx="5.4" ry="5.8" fill="url(#gBlob)" opacity="0.85"/>
<path d="M179.6,256.6 L187.6,256.6 L183.6,264.1 Z" fill="#fff" opacity="0.36"/>
<ellipse cx="183.6" cy="259.6" rx="5.4" ry="5.8" fill="url(#gBlob)" opacity="0.85"/>
<path d="M195.1,256.6 L203.1,256.6 L199.1,264.1 Z" fill="#fff" opacity="0.36"/>
<ellipse cx="199.1" cy="259.6" rx="5.4" ry="5.8" fill="url(#gBlob)" opacity="0.85"/>
<path d="M210.6,256.6 L218.6,256.6 L214.6,264.1 Z" fill="#fff" opacity="0.36"/>
<ellipse cx="214.6" cy="259.6" rx="5.4" ry="5.8" fill="url(#gBlob)" opacity="0.85"/>
<path d="M226.1,256.6 L234.1,256.6 L230.1,264.1 Z" fill="#fff" opacity="0.36"/>
<ellipse cx="230.1" cy="259.6" rx="5.4" ry="5.8" fill="url(#gBlob)" opacity="0.85"/>
<path d="M241.6,256.6 L249.6,256.6 L245.6,264.1 Z" fill="#fff" opacity="0.36"/>
<ellipse cx="245.6" cy="259.6" rx="5.4" ry="5.8" fill="url(#gBlob)" opacity="0.85"/>
<path d="M31.4,277.6 L39.4,277.6 L35.4,285.1 Z" fill="#fff" opacity="0.3"/>
<ellipse cx="35.4" cy="280.6" rx="5.4" ry="5.8" fill="url(#gBlob)" opacity="0.71"/>
<path d="M46.9,277.6 L54.9,277.6 L50.9,285.1 Z" fill="#fff" opacity="0.3"/>
<ellipse cx="50.9" cy="280.6" rx="5.4" ry="5.8" fill="url(#gBlob)" opacity="0.71"/>
<path d="M62.4,277.6 L70.4,277.6 L66.4,285.1 Z" fill="#fff" opacity="0.3"/>
<ellipse cx="66.4" cy="280.6" rx="5.4" ry="5.8" fill="url(#gBlob)" opacity="0.71"/>
<path d="M77.9,277.6 L85.9,277.6 L81.9,285.1 Z" fill="#fff" opacity="0.3"/>
<ellipse cx="81.9" cy="280.6" rx="5.4" ry="5.8" fill="url(#gBlob)" opacity="0.71"/>
<path d="M93.4,277.6 L101.4,277.6 L97.4,285.1 Z" fill="#fff" opacity="0.3"/>
<ellipse cx="97.4" cy="280.6" rx="5.4" ry="5.8" fill="url(#gBlob)" opacity="0.71"/>
<path d="M108.9,277.6 L116.9,277.6 L112.9,285.1 Z" fill="#fff" opacity="0.3"/>
<ellipse cx="112.9" cy="280.6" rx="5.4" ry="5.8" fill="url(#gBlob)" opacity="0.71"/>
<path d="M124.4,277.6 L132.4,277.6 L128.4,285.1 Z" fill="#fff" opacity="0.3"/>
<ellipse cx="128.4" cy="280.6" rx="5.4" ry="5.8" fill="url(#gBlob)" opacity="0.71"/>
<path d="M139.9,277.6 L147.9,277.6 L143.9,285.1 Z" fill="#fff" opacity="0.3"/>
<ellipse cx="143.9" cy="280.6" rx="5.4" ry="5.8" fill="url(#gBlob)" opacity="0.71"/>
<path d="M155.4,277.6 L163.4,277.6 L159.4,285.1 Z" fill="#fff" opacity="0.3"/>
<ellipse cx="159.4" cy="280.6" rx="5.4" ry="5.8" fill="url(#gBlob)" opacity="0.71"/>
<path d="M170.9,277.6 L178.9,277.6 L174.9,285.1 Z" fill="#fff" opacity="0.3"/>
<ellipse cx="174.9" cy="280.6" rx="5.4" ry="5.8" fill="url(#gBlob)" opacity="0.71"/>
<path d="M186.4,277.6 L194.4,277.6 L190.4,285.1 Z" fill="#fff" opacity="0.3"/>
<ellipse cx="190.4" cy="280.6" rx="5.4" ry="5.8" fill="url(#gBlob)" opacity="0.71"/>
<path d="M201.9,277.6 L209.9,277.6 L205.9,285.1 Z" fill="#fff" opacity="0.3"/>
<ellipse cx="205.9" cy="280.6" rx="5.4" ry="5.8" fill="url(#gBlob)" opacity="0.71"/>
<path d="M217.4,277.6 L225.4,277.6 L221.4,285.1 Z" fill="#fff" opacity="0.3"/>
<ellipse cx="221.4" cy="280.6" rx="5.4" ry="5.8" fill="url(#gBlob)" opacity="0.71"/>
<path d="M232.9,277.6 L240.9,277.6 L236.9,285.1 Z" fill="#fff" opacity="0.3"/>
<ellipse cx="236.9" cy="280.6" rx="5.4" ry="5.8" fill="url(#gBlob)" opacity="0.71"/>
<path d="M39.1,287.8 L47.1,287.8 L43.1,295.3 Z" fill="#fff" opacity="0.32"/>
<ellipse cx="43.1" cy="290.8" rx="5.4" ry="5.8" fill="url(#gBlob)" opacity="0.76"/>
<path d="M54.6,287.8 L62.6,287.8 L58.6,295.3 Z" fill="#fff" opacity="0.32"/>
<ellipse cx="58.6" cy="290.8" rx="5.4" ry="5.8" fill="url(#gBlob)" opacity="0.76"/>
<path d="M70.1,287.8 L78.1,287.8 L74.1,295.3 Z" fill="#fff" opacity="0.32"/>
<ellipse cx="74.1" cy="290.8" rx="5.4" ry="5.8" fill="url(#gBlob)" opacity="0.76"/>
<path d="M85.6,287.8 L93.6,287.8 L89.6,295.3 Z" fill="#fff" opacity="0.32"/>
<ellipse cx="89.6" cy="290.8" rx="5.4" ry="5.8" fill="url(#gBlob)" opacity="0.76"/>
<path d="M101.1,287.8 L109.1,287.8 L105.1,295.3 Z" fill="#fff" opacity="0.32"/>
<ellipse cx="105.1" cy="290.8" rx="5.4" ry="5.8" fill="url(#gBlob)" opacity="0.76"/>
<path d="M116.6,287.8 L124.6,287.8 L120.6,295.3 Z" fill="#fff" opacity="0.32"/>
<ellipse cx="120.6" cy="290.8" rx="5.4" ry="5.8" fill="url(#gBlob)" opacity="0.76"/>
<path d="M132.1,287.8 L140.1,287.8 L136.1,295.3 Z" fill="#fff" opacity="0.32"/>
<ellipse cx="136.1" cy="290.8" rx="5.4" ry="5.8" fill="url(#gBlob)" opacity="0.76"/>
<path d="M147.6,287.8 L155.6,287.8 L151.6,295.3 Z" fill="#fff" opacity="0.32"/>
<ellipse cx="151.6" cy="290.8" rx="5.4" ry="5.8" fill="url(#gBlob)" opacity="0.76"/>
<path d="M163.1,287.8 L171.1,287.8 L167.1,295.3 Z" fill="#fff" opacity="0.32"/>
<ellipse cx="167.1" cy="290.8" rx="5.4" ry="5.8" fill="url(#gBlob)" opacity="0.76"/>
<path d="M178.6,287.8 L186.6,287.8 L182.6,295.3 Z" fill="#fff" opacity="0.32"/>
<ellipse cx="182.6" cy="290.8" rx="5.4" ry="5.8" fill="url(#gBlob)" opacity="0.76"/>
<path d="M194.1,287.8 L202.1,287.8 L198.1,295.3 Z" fill="#fff" opacity="0.32"/>
<ellipse cx="198.1" cy="290.8" rx="5.4" ry="5.8" fill="url(#gBlob)" opacity="0.76"/>
<path d="M209.6,287.8 L217.6,287.8 L213.6,295.3 Z" fill="#fff" opacity="0.32"/>
<ellipse cx="213.6" cy="290.8" rx="5.4" ry="5.8" fill="url(#gBlob)" opacity="0.76"/>
<path d="M225.1,287.8 L233.1,287.8 L229.1,295.3 Z" fill="#fff" opacity="0.32"/>
<ellipse cx="229.1" cy="290.8" rx="5.4" ry="5.8" fill="url(#gBlob)" opacity="0.76"/>
<path d="M240.6,287.8 L248.6,287.8 L244.6,295.3 Z" fill="#fff" opacity="0.32"/>
<ellipse cx="244.6" cy="290.8" rx="5.4" ry="5.8" fill="url(#gBlob)" opacity="0.76"/>
</g>
</g>
<line x1="49.5" y1="178.6" x2="248" y2="178.6" stroke="#fff" stroke-width="1.3" stroke-dasharray="9 3 5 4 7 3 3 5" opacity="0.95"/>
<line x1="49.5" y1="298.8" x2="416" y2="298.8" stroke="#fff" stroke-width="1.4" opacity="0.9"/>
<rect x="126.5" y="209.8" width="67.3" height="56.2" fill="none" stroke="#e8e010" stroke-width="1.4" stroke-dasharray="3.2 2"/>
<text x="61.5" y="290.5" font-size="17" fill="#f0f0f0" stroke="#ffffff" stroke-width="0.9" letter-spacing="0.2">BOB</text>
<rect x="219.8" y="286.8" width="23" height="3" fill="#000" stroke="#fff" stroke-width="1.4"/>
<g clip-path="url(#cBOBi)">
<rect x="248" y="178" width="170" height="121" fill="#5a5a5a"/>
<g filter="url(#fBlur2)">
<ellipse cx="359" cy="189.7" rx="9.5" ry="11.5" fill="url(#gBlob)" opacity="0.9"/>
<ellipse cx="390.7" cy="189.7" rx="9.5" ry="11.5" fill="url(#gBlob)" opacity="0.9"/>
<ellipse cx="328" cy="189.7" rx="9.5" ry="11.5" fill="url(#gBlob)" opacity="0.55"/>
<ellipse cx="297" cy="189.7" rx="9.5" ry="11.5" fill="url(#gBlob)" opacity="0.55"/>
<ellipse cx="265" cy="189.7" rx="9.5" ry="11.5" fill="url(#gBlob)" opacity="0.55"/>
<ellipse cx="343.8" cy="211.5" rx="9.5" ry="11.5" fill="url(#gBlob)" opacity="0.9"/>
<ellipse cx="374.3" cy="211.5" rx="9.5" ry="11.5" fill="url(#gBlob)" opacity="0.9"/>
<ellipse cx="406" cy="211.5" rx="9.5" ry="11.5" fill="url(#gBlob)" opacity="0.9"/>
<ellipse cx="312" cy="211.5" rx="9.5" ry="11.5" fill="url(#gBlob)" opacity="0.55"/>
<ellipse cx="281" cy="211.5" rx="9.5" ry="11.5" fill="url(#gBlob)" opacity="0.55"/>
<ellipse cx="355.8" cy="253" rx="9.5" ry="11.5" fill="url(#gBlob)" opacity="0.9"/>
<ellipse cx="386.4" cy="253" rx="9.5" ry="11.5" fill="url(#gBlob)" opacity="0.9"/>
<ellipse cx="325" cy="253" rx="9.5" ry="11.5" fill="url(#gBlob)" opacity="0.55"/>
<ellipse cx="294" cy="253" rx="9.5" ry="11.5" fill="url(#gBlob)" opacity="0.55"/>
<ellipse cx="262" cy="253" rx="9.5" ry="11.5" fill="url(#gBlob)" opacity="0.55"/>
<ellipse cx="339.4" cy="274.8" rx="9.5" ry="11.5" fill="url(#gBlob)" opacity="0.9"/>
<ellipse cx="371" cy="274.8" rx="9.5" ry="11.5" fill="url(#gBlob)" opacity="0.9"/>
<ellipse cx="401.6" cy="274.8" rx="9.5" ry="11.5" fill="url(#gBlob)" opacity="0.9"/>
<ellipse cx="308" cy="274.8" rx="9.5" ry="11.5" fill="url(#gBlob)" opacity="0.55"/>
<ellipse cx="277" cy="274.8" rx="9.5" ry="11.5" fill="url(#gBlob)" opacity="0.55"/>
<ellipse cx="350" cy="232" rx="8" ry="8" fill="url(#gBlob)" opacity="0.35"/>
<ellipse cx="380" cy="232" rx="8" ry="8" fill="url(#gBlob)" opacity="0.35"/>
<ellipse cx="320" cy="232" rx="8" ry="8" fill="url(#gBlob)" opacity="0.35"/>
<ellipse cx="290" cy="232" rx="8" ry="8" fill="url(#gBlob)" opacity="0.35"/>
<ellipse cx="258" cy="232" rx="8" ry="8" fill="url(#gBlob)" opacity="0.35"/>
<ellipse cx="366" cy="200" rx="8" ry="8" fill="url(#gBlob)" opacity="0.35"/>
<ellipse cx="334" cy="265" rx="8" ry="8" fill="url(#gBlob)" opacity="0.35"/>
<ellipse cx="396" cy="265" rx="8" ry="8" fill="url(#gBlob)" opacity="0.35"/>
<ellipse cx="410" cy="232" rx="8" ry="8" fill="url(#gBlob)" opacity="0.35"/>
</g>
</g>
<path d="M252,206.6 L264.5,190 L281,212.6 L297.4,190 L314,212.6 L330.2,190 L342,208.6" fill="none" stroke="#c87ae8" stroke-width="2.4"/>
<line x1="264.5" y1="201" x2="281" y2="212.6" stroke="#e03a3a" stroke-width="1.6" />
<line x1="264.5" y1="201" x2="264.5" y2="190" stroke="#e03a3a" stroke-width="1.6" />
<line x1="281" y1="201" x2="264.5" y2="190" stroke="#e03a3a" stroke-width="1.6" />
<line x1="281" y1="201" x2="297.4" y2="190" stroke="#e03a3a" stroke-width="1.6" />
<line x1="281" y1="201" x2="281" y2="212.6" stroke="#e03a3a" stroke-width="1.6" />
<line x1="297.4" y1="201" x2="281" y2="212.6" stroke="#e03a3a" stroke-width="1.6" />
<line x1="297.4" y1="201" x2="314" y2="212.6" stroke="#e03a3a" stroke-width="1.6" />
<line x1="297.4" y1="201" x2="297.4" y2="190" stroke="#e03a3a" stroke-width="1.6" />
<line x1="314" y1="201" x2="297.4" y2="190" stroke="#e03a3a" stroke-width="1.6" />
<line x1="314" y1="201" x2="330.2" y2="190" stroke="#e03a3a" stroke-width="1.6" />
<line x1="314" y1="201" x2="314" y2="212.6" stroke="#e03a3a" stroke-width="1.6" />
<line x1="330.2" y1="201" x2="314" y2="212.6" stroke="#e03a3a" stroke-width="1.6" />
<line x1="330.2" y1="201" x2="330.2" y2="190" stroke="#e03a3a" stroke-width="1.6" />
<circle cx="264.5" cy="201" r="2.2" fill="url(#gO)"/>
<circle cx="281" cy="201" r="2.2" fill="url(#gO)"/>
<circle cx="297.4" cy="201" r="2.2" fill="url(#gO)"/>
<circle cx="314" cy="201" r="2.2" fill="url(#gO)"/>
<circle cx="330.2" cy="201" r="2.2" fill="url(#gO)"/>
<circle cx="264.5" cy="190" r="8" fill="url(#gHalo)" opacity="0.45"/>
<circle cx="264.5" cy="190" r="5.8" fill="url(#gBi)"/>
<circle cx="297.4" cy="190" r="8" fill="url(#gHalo)" opacity="0.45"/>
<circle cx="297.4" cy="190" r="5.8" fill="url(#gBi)"/>
<circle cx="330.2" cy="190" r="8" fill="url(#gHalo)" opacity="0.45"/>
<circle cx="330.2" cy="190" r="5.8" fill="url(#gBi)"/>
<circle cx="281" cy="212.6" r="8" fill="url(#gHalo)" opacity="0.45"/>
<circle cx="281" cy="212.6" r="5.8" fill="url(#gBi)"/>
<circle cx="314" cy="212.6" r="8" fill="url(#gHalo)" opacity="0.45"/>
<circle cx="314" cy="212.6" r="5.8" fill="url(#gBi)"/>
<ellipse cx="264.5" cy="226" rx="3.6" ry="3.6" fill="url(#gBr)"/>
<ellipse cx="297.4" cy="226" rx="3.6" ry="3.6" fill="url(#gBr)"/>
<ellipse cx="330.2" cy="226" rx="3.6" ry="3.6" fill="url(#gBr)"/>
<ellipse cx="277.6" cy="240.5" rx="3.6" ry="3.6" fill="url(#gBr)"/>
<ellipse cx="310" cy="240.5" rx="3.6" ry="3.6" fill="url(#gBr)"/>
<path d="M250,267 L261.8,253.4 L277.6,275 L294,253.4 L310,275 L327,253.4 L339,271" fill="none" stroke="#c87ae8" stroke-width="2.4"/>
<line x1="261.8" y1="264" x2="277.6" y2="275" stroke="#e03a3a" stroke-width="1.6" />
<line x1="261.8" y1="264" x2="261.8" y2="253.4" stroke="#e03a3a" stroke-width="1.6" />
<line x1="277.6" y1="264" x2="261.8" y2="253.4" stroke="#e03a3a" stroke-width="1.6" />
<line x1="277.6" y1="264" x2="294" y2="253.4" stroke="#e03a3a" stroke-width="1.6" />
<line x1="277.6" y1="264" x2="277.6" y2="275" stroke="#e03a3a" stroke-width="1.6" />
<line x1="294" y1="264" x2="277.6" y2="275" stroke="#e03a3a" stroke-width="1.6" />
<line x1="294" y1="264" x2="310" y2="275" stroke="#e03a3a" stroke-width="1.6" />
<line x1="294" y1="264" x2="294" y2="253.4" stroke="#e03a3a" stroke-width="1.6" />
<line x1="310" y1="264" x2="294" y2="253.4" stroke="#e03a3a" stroke-width="1.6" />
<line x1="310" y1="264" x2="327" y2="253.4" stroke="#e03a3a" stroke-width="1.6" />
<line x1="310" y1="264" x2="310" y2="275" stroke="#e03a3a" stroke-width="1.6" />
<line x1="327" y1="264" x2="310" y2="275" stroke="#e03a3a" stroke-width="1.6" />
<line x1="327" y1="264" x2="327" y2="253.4" stroke="#e03a3a" stroke-width="1.6" />
<circle cx="261.8" cy="264" r="2.2" fill="url(#gO)"/>
<circle cx="277.6" cy="264" r="2.2" fill="url(#gO)"/>
<circle cx="294" cy="264" r="2.2" fill="url(#gO)"/>
<circle cx="310" cy="264" r="2.2" fill="url(#gO)"/>
<circle cx="327" cy="264" r="2.2" fill="url(#gO)"/>
<circle cx="261.8" cy="253.4" r="8" fill="url(#gHalo)" opacity="0.45"/>
<circle cx="261.8" cy="253.4" r="5.8" fill="url(#gBi)"/>
<circle cx="294" cy="253.4" r="8" fill="url(#gHalo)" opacity="0.45"/>
<circle cx="294" cy="253.4" r="5.8" fill="url(#gBi)"/>
<circle cx="327" cy="253.4" r="8" fill="url(#gHalo)" opacity="0.45"/>
<circle cx="327" cy="253.4" r="5.8" fill="url(#gBi)"/>
<circle cx="277.6" cy="275" r="8" fill="url(#gHalo)" opacity="0.45"/>
<circle cx="277.6" cy="275" r="5.8" fill="url(#gBi)"/>
<circle cx="310" cy="275" r="8" fill="url(#gHalo)" opacity="0.45"/>
<circle cx="310" cy="275" r="5.8" fill="url(#gBi)"/>
<ellipse cx="261" cy="288" rx="3.6" ry="3.6" fill="url(#gBr)"/>
<ellipse cx="294" cy="288" rx="3.6" ry="3.6" fill="url(#gBr)"/>
<ellipse cx="327" cy="288" rx="3.6" ry="3.6" fill="url(#gBr)"/>
<rect x="249.6" y="179.2" width="166.2" height="117.4" fill="none" stroke="#f4ec00" stroke-width="2.6" stroke-dasharray="4.5 2.2"/>
<g clip-path="url(#cBNB)">
<rect x="454" y="178" width="204" height="122" fill="url(#gBNBbg)"/>
<g filter="url(#fBlur1)">
<rect x="440" y="190.5" width="230" height="4" fill="#000" opacity="0.15"/>
<rect x="440" y="216.2" width="230" height="4" fill="#000" opacity="0.15"/>
<rect x="440" y="242" width="230" height="4" fill="#000" opacity="0.15"/>
<rect x="440" y="268" width="230" height="4" fill="#000" opacity="0.15"/>
<rect x="440" y="282" width="230" height="4" fill="#000" opacity="0.15"/>
<ellipse cx="447.9" cy="185.8" rx="4.4" ry="4.2" fill="url(#gBlob)" opacity="0.61"/>
<ellipse cx="460.65" cy="185.8" rx="4.4" ry="4.2" fill="url(#gBlob)" opacity="0.61"/>
<ellipse cx="473.4" cy="185.8" rx="4.4" ry="4.2" fill="url(#gBlob)" opacity="0.61"/>
<ellipse cx="486.15" cy="185.8" rx="4.4" ry="4.2" fill="url(#gBlob)" opacity="0.61"/>
<ellipse cx="498.9" cy="185.8" rx="4.4" ry="4.2" fill="url(#gBlob)" opacity="0.61"/>
<ellipse cx="511.65" cy="185.8" rx="4.4" ry="4.2" fill="url(#gBlob)" opacity="0.61"/>
<ellipse cx="524.4" cy="185.8" rx="4.4" ry="4.2" fill="url(#gBlob)" opacity="0.61"/>
<ellipse cx="537.15" cy="185.8" rx="4.4" ry="4.2" fill="url(#gBlob)" opacity="0.61"/>
<ellipse cx="549.9" cy="185.8" rx="4.4" ry="4.2" fill="url(#gBlob)" opacity="0.61"/>
<ellipse cx="562.65" cy="185.8" rx="4.4" ry="4.2" fill="url(#gBlob)" opacity="0.61"/>
<ellipse cx="575.4" cy="185.8" rx="4.4" ry="4.2" fill="url(#gBlob)" opacity="0.61"/>
<ellipse cx="588.15" cy="185.8" rx="4.4" ry="4.2" fill="url(#gBlob)" opacity="0.61"/>
<ellipse cx="600.9" cy="185.8" rx="4.4" ry="4.2" fill="url(#gBlob)" opacity="0.61"/>
<ellipse cx="613.65" cy="185.8" rx="4.4" ry="4.2" fill="url(#gBlob)" opacity="0.61"/>
<ellipse cx="626.4" cy="185.8" rx="4.4" ry="4.2" fill="url(#gBlob)" opacity="0.61"/>
<ellipse cx="639.15" cy="185.8" rx="4.4" ry="4.2" fill="url(#gBlob)" opacity="0.61"/>
<ellipse cx="651.9" cy="185.8" rx="4.4" ry="4.2" fill="url(#gBlob)" opacity="0.61"/>
<ellipse cx="448.5" cy="199.7" rx="4.4" ry="4.2" fill="url(#gBlob)" opacity="0.99"/>
<ellipse cx="461.25" cy="199.7" rx="4.4" ry="4.2" fill="url(#gBlob)" opacity="0.99"/>
<ellipse cx="474" cy="199.7" rx="4.4" ry="4.2" fill="url(#gBlob)" opacity="0.99"/>
<ellipse cx="486.75" cy="199.7" rx="4.4" ry="4.2" fill="url(#gBlob)" opacity="0.99"/>
<ellipse cx="499.5" cy="199.7" rx="4.4" ry="4.2" fill="url(#gBlob)" opacity="0.99"/>
<ellipse cx="512.25" cy="199.7" rx="4.4" ry="4.2" fill="url(#gBlob)" opacity="0.99"/>
<ellipse cx="525" cy="199.7" rx="4.4" ry="4.2" fill="url(#gBlob)" opacity="0.99"/>
<ellipse cx="537.75" cy="199.7" rx="4.4" ry="4.2" fill="url(#gBlob)" opacity="0.99"/>
<ellipse cx="550.5" cy="199.7" rx="4.4" ry="4.2" fill="url(#gBlob)" opacity="0.99"/>
<ellipse cx="563.25" cy="199.7" rx="4.4" ry="4.2" fill="url(#gBlob)" opacity="0.99"/>
<ellipse cx="576" cy="199.7" rx="4.4" ry="4.2" fill="url(#gBlob)" opacity="0.99"/>
<ellipse cx="588.75" cy="199.7" rx="4.4" ry="4.2" fill="url(#gBlob)" opacity="0.99"/>
<ellipse cx="601.5" cy="199.7" rx="4.4" ry="4.2" fill="url(#gBlob)" opacity="0.99"/>
<ellipse cx="614.25" cy="199.7" rx="4.4" ry="4.2" fill="url(#gBlob)" opacity="0.99"/>
<ellipse cx="627" cy="199.7" rx="4.4" ry="4.2" fill="url(#gBlob)" opacity="0.99"/>
<ellipse cx="639.75" cy="199.7" rx="4.4" ry="4.2" fill="url(#gBlob)" opacity="0.99"/>
<ellipse cx="652.5" cy="199.7" rx="4.4" ry="4.2" fill="url(#gBlob)" opacity="0.99"/>
<ellipse cx="454.2" cy="209" rx="4.4" ry="4.2" fill="url(#gBlob)" opacity="0.94"/>
<ellipse cx="466.95" cy="209" rx="4.4" ry="4.2" fill="url(#gBlob)" opacity="0.94"/>
<ellipse cx="479.7" cy="209" rx="4.4" ry="4.2" fill="url(#gBlob)" opacity="0.94"/>
<ellipse cx="492.45" cy="209" rx="4.4" ry="4.2" fill="url(#gBlob)" opacity="0.94"/>
<ellipse cx="505.2" cy="209" rx="4.4" ry="4.2" fill="url(#gBlob)" opacity="0.94"/>
<ellipse cx="517.95" cy="209" rx="4.4" ry="4.2" fill="url(#gBlob)" opacity="0.94"/>
<ellipse cx="530.7" cy="209" rx="4.4" ry="4.2" fill="url(#gBlob)" opacity="0.94"/>
<ellipse cx="543.45" cy="209" rx="4.4" ry="4.2" fill="url(#gBlob)" opacity="0.94"/>
<ellipse cx="556.2" cy="209" rx="4.4" ry="4.2" fill="url(#gBlob)" opacity="0.94"/>
<ellipse cx="568.95" cy="209" rx="4.4" ry="4.2" fill="url(#gBlob)" opacity="0.94"/>
<ellipse cx="581.7" cy="209" rx="4.4" ry="4.2" fill="url(#gBlob)" opacity="0.94"/>
<ellipse cx="594.45" cy="209" rx="4.4" ry="4.2" fill="url(#gBlob)" opacity="0.94"/>
<ellipse cx="607.2" cy="209" rx="4.4" ry="4.2" fill="url(#gBlob)" opacity="0.94"/>
<ellipse cx="619.95" cy="209" rx="4.4" ry="4.2" fill="url(#gBlob)" opacity="0.94"/>
<ellipse cx="632.7" cy="209" rx="4.4" ry="4.2" fill="url(#gBlob)" opacity="0.94"/>
<ellipse cx="645.45" cy="209" rx="4.4" ry="4.2" fill="url(#gBlob)" opacity="0.94"/>
<ellipse cx="658.2" cy="209" rx="4.4" ry="4.2" fill="url(#gBlob)" opacity="0.94"/>
<ellipse cx="449" cy="218.2" rx="4.4" ry="4.2" fill="url(#gBlob)" opacity="0.39"/>
<ellipse cx="461.75" cy="218.2" rx="4.4" ry="4.2" fill="url(#gBlob)" opacity="0.39"/>
<ellipse cx="474.5" cy="218.2" rx="4.4" ry="4.2" fill="url(#gBlob)" opacity="0.39"/>
<ellipse cx="487.25" cy="218.2" rx="4.4" ry="4.2" fill="url(#gBlob)" opacity="0.39"/>
<ellipse cx="500" cy="218.2" rx="4.4" ry="4.2" fill="url(#gBlob)" opacity="0.39"/>
<ellipse cx="512.75" cy="218.2" rx="4.4" ry="4.2" fill="url(#gBlob)" opacity="0.39"/>
<ellipse cx="525.5" cy="218.2" rx="4.4" ry="4.2" fill="url(#gBlob)" opacity="0.39"/>
<ellipse cx="538.25" cy="218.2" rx="4.4" ry="4.2" fill="url(#gBlob)" opacity="0.39"/>
<ellipse cx="551" cy="218.2" rx="4.4" ry="4.2" fill="url(#gBlob)" opacity="0.39"/>
<ellipse cx="563.75" cy="218.2" rx="4.4" ry="4.2" fill="url(#gBlob)" opacity="0.39"/>
<ellipse cx="576.5" cy="218.2" rx="4.4" ry="4.2" fill="url(#gBlob)" opacity="0.39"/>
<ellipse cx="589.25" cy="218.2" rx="4.4" ry="4.2" fill="url(#gBlob)" opacity="0.39"/>
<ellipse cx="602" cy="218.2" rx="4.4" ry="4.2" fill="url(#gBlob)" opacity="0.39"/>
<ellipse cx="614.75" cy="218.2" rx="4.4" ry="4.2" fill="url(#gBlob)" opacity="0.39"/>
<ellipse cx="627.5" cy="218.2" rx="4.4" ry="4.2" fill="url(#gBlob)" opacity="0.39"/>
<ellipse cx="640.25" cy="218.2" rx="4.4" ry="4.2" fill="url(#gBlob)" opacity="0.39"/>
<ellipse cx="653" cy="218.2" rx="4.4" ry="4.2" fill="url(#gBlob)" opacity="0.39"/>
<ellipse cx="453.7" cy="228" rx="4.4" ry="4.2" fill="url(#gBlob)" opacity="0.99"/>
<ellipse cx="466.45" cy="228" rx="4.4" ry="4.2" fill="url(#gBlob)" opacity="0.99"/>
<ellipse cx="479.2" cy="228" rx="4.4" ry="4.2" fill="url(#gBlob)" opacity="0.99"/>
<ellipse cx="491.95" cy="228" rx="4.4" ry="4.2" fill="url(#gBlob)" opacity="0.99"/>
<ellipse cx="504.7" cy="228" rx="4.4" ry="4.2" fill="url(#gBlob)" opacity="0.99"/>
<ellipse cx="517.45" cy="228" rx="4.4" ry="4.2" fill="url(#gBlob)" opacity="0.99"/>
<ellipse cx="530.2" cy="228" rx="4.4" ry="4.2" fill="url(#gBlob)" opacity="0.99"/>
<ellipse cx="542.95" cy="228" rx="4.4" ry="4.2" fill="url(#gBlob)" opacity="0.99"/>
<ellipse cx="555.7" cy="228" rx="4.4" ry="4.2" fill="url(#gBlob)" opacity="0.99"/>
<ellipse cx="568.45" cy="228" rx="4.4" ry="4.2" fill="url(#gBlob)" opacity="0.99"/>
<ellipse cx="581.2" cy="228" rx="4.4" ry="4.2" fill="url(#gBlob)" opacity="0.99"/>
<ellipse cx="593.95" cy="228" rx="4.4" ry="4.2" fill="url(#gBlob)" opacity="0.99"/>
<ellipse cx="606.7" cy="228" rx="4.4" ry="4.2" fill="url(#gBlob)" opacity="0.99"/>
<ellipse cx="619.45" cy="228" rx="4.4" ry="4.2" fill="url(#gBlob)" opacity="0.99"/>
<ellipse cx="632.2" cy="228" rx="4.4" ry="4.2" fill="url(#gBlob)" opacity="0.99"/>
<ellipse cx="644.95" cy="228" rx="4.4" ry="4.2" fill="url(#gBlob)" opacity="0.99"/>
<ellipse cx="657.7" cy="228" rx="4.4" ry="4.2" fill="url(#gBlob)" opacity="0.99"/>
<ellipse cx="447.3" cy="237.5" rx="4.4" ry="4.2" fill="url(#gBlob)" opacity="0.94"/>
<ellipse cx="460.05" cy="237.5" rx="4.4" ry="4.2" fill="url(#gBlob)" opacity="0.94"/>
<ellipse cx="472.8" cy="237.5" rx="4.4" ry="4.2" fill="url(#gBlob)" opacity="0.94"/>
<ellipse cx="485.55" cy="237.5" rx="4.4" ry="4.2" fill="url(#gBlob)" opacity="0.94"/>
<ellipse cx="498.3" cy="237.5" rx="4.4" ry="4.2" fill="url(#gBlob)" opacity="0.94"/>
<ellipse cx="511.05" cy="237.5" rx="4.4" ry="4.2" fill="url(#gBlob)" opacity="0.94"/>
<ellipse cx="523.8" cy="237.5" rx="4.4" ry="4.2" fill="url(#gBlob)" opacity="0.94"/>
<ellipse cx="536.55" cy="237.5" rx="4.4" ry="4.2" fill="url(#gBlob)" opacity="0.94"/>
<ellipse cx="549.3" cy="237.5" rx="4.4" ry="4.2" fill="url(#gBlob)" opacity="0.94"/>
<ellipse cx="562.05" cy="237.5" rx="4.4" ry="4.2" fill="url(#gBlob)" opacity="0.94"/>
<ellipse cx="574.8" cy="237.5" rx="4.4" ry="4.2" fill="url(#gBlob)" opacity="0.94"/>
<ellipse cx="587.55" cy="237.5" rx="4.4" ry="4.2" fill="url(#gBlob)" opacity="0.94"/>
<ellipse cx="600.3" cy="237.5" rx="4.4" ry="4.2" fill="url(#gBlob)" opacity="0.94"/>
<ellipse cx="613.05" cy="237.5" rx="4.4" ry="4.2" fill="url(#gBlob)" opacity="0.94"/>
<ellipse cx="625.8" cy="237.5" rx="4.4" ry="4.2" fill="url(#gBlob)" opacity="0.94"/>
<ellipse cx="638.55" cy="237.5" rx="4.4" ry="4.2" fill="url(#gBlob)" opacity="0.94"/>
<ellipse cx="651.3" cy="237.5" rx="4.4" ry="4.2" fill="url(#gBlob)" opacity="0.94"/>
<ellipse cx="446.7" cy="250.8" rx="4.4" ry="4.2" fill="url(#gBlob)" opacity="0.88"/>
<ellipse cx="459.45" cy="250.8" rx="4.4" ry="4.2" fill="url(#gBlob)" opacity="0.88"/>
<ellipse cx="472.2" cy="250.8" rx="4.4" ry="4.2" fill="url(#gBlob)" opacity="0.88"/>
<ellipse cx="484.95" cy="250.8" rx="4.4" ry="4.2" fill="url(#gBlob)" opacity="0.88"/>
<ellipse cx="497.7" cy="250.8" rx="4.4" ry="4.2" fill="url(#gBlob)" opacity="0.88"/>
<ellipse cx="510.45" cy="250.8" rx="4.4" ry="4.2" fill="url(#gBlob)" opacity="0.88"/>
<ellipse cx="523.2" cy="250.8" rx="4.4" ry="4.2" fill="url(#gBlob)" opacity="0.88"/>
<ellipse cx="535.95" cy="250.8" rx="4.4" ry="4.2" fill="url(#gBlob)" opacity="0.88"/>
<ellipse cx="548.7" cy="250.8" rx="4.4" ry="4.2" fill="url(#gBlob)" opacity="0.88"/>
<ellipse cx="561.45" cy="250.8" rx="4.4" ry="4.2" fill="url(#gBlob)" opacity="0.88"/>
<ellipse cx="574.2" cy="250.8" rx="4.4" ry="4.2" fill="url(#gBlob)" opacity="0.88"/>
<ellipse cx="586.95" cy="250.8" rx="4.4" ry="4.2" fill="url(#gBlob)" opacity="0.88"/>
<ellipse cx="599.7" cy="250.8" rx="4.4" ry="4.2" fill="url(#gBlob)" opacity="0.88"/>
<ellipse cx="612.45" cy="250.8" rx="4.4" ry="4.2" fill="url(#gBlob)" opacity="0.88"/>
<ellipse cx="625.2" cy="250.8" rx="4.4" ry="4.2" fill="url(#gBlob)" opacity="0.88"/>
<ellipse cx="637.95" cy="250.8" rx="4.4" ry="4.2" fill="url(#gBlob)" opacity="0.88"/>
<ellipse cx="650.7" cy="250.8" rx="4.4" ry="4.2" fill="url(#gBlob)" opacity="0.88"/>
<ellipse cx="453.1" cy="260.7" rx="4.4" ry="4.2" fill="url(#gBlob)" opacity="0.66"/>
<ellipse cx="465.85" cy="260.7" rx="4.4" ry="4.2" fill="url(#gBlob)" opacity="0.66"/>
<ellipse cx="478.6" cy="260.7" rx="4.4" ry="4.2" fill="url(#gBlob)" opacity="0.66"/>
<ellipse cx="491.35" cy="260.7" rx="4.4" ry="4.2" fill="url(#gBlob)" opacity="0.66"/>
<ellipse cx="504.1" cy="260.7" rx="4.4" ry="4.2" fill="url(#gBlob)" opacity="0.66"/>
<ellipse cx="516.85" cy="260.7" rx="4.4" ry="4.2" fill="url(#gBlob)" opacity="0.66"/>
<ellipse cx="529.6" cy="260.7" rx="4.4" ry="4.2" fill="url(#gBlob)" opacity="0.66"/>
<ellipse cx="542.35" cy="260.7" rx="4.4" ry="4.2" fill="url(#gBlob)" opacity="0.66"/>
<ellipse cx="555.1" cy="260.7" rx="4.4" ry="4.2" fill="url(#gBlob)" opacity="0.66"/>
<ellipse cx="567.85" cy="261.33" rx="4.4" ry="4.2" fill="url(#gBlob)" opacity="0.66"/>
<ellipse cx="580.6" cy="262.35" rx="4.4" ry="4.2" fill="url(#gBlob)" opacity="0.66"/>
<ellipse cx="593.35" cy="263.37" rx="4.4" ry="4.2" fill="url(#gBlob)" opacity="0.66"/>
<ellipse cx="606.1" cy="264.39" rx="4.4" ry="4.2" fill="url(#gBlob)" opacity="0.66"/>
<ellipse cx="618.85" cy="265.41" rx="4.4" ry="4.2" fill="url(#gBlob)" opacity="0.66"/>
<ellipse cx="631.6" cy="266.43" rx="4.4" ry="4.2" fill="url(#gBlob)" opacity="0.66"/>
<ellipse cx="644.35" cy="267.45" rx="4.4" ry="4.2" fill="url(#gBlob)" opacity="0.66"/>
<ellipse cx="657.1" cy="268.47" rx="4.4" ry="4.2" fill="url(#gBlob)" opacity="0.66"/>
<ellipse cx="447.2" cy="270" rx="4.4" ry="4.2" fill="url(#gBlob)" opacity="0.28"/>
<ellipse cx="459.95" cy="270" rx="4.4" ry="4.2" fill="url(#gBlob)" opacity="0.28"/>
<ellipse cx="472.7" cy="270" rx="4.4" ry="4.2" fill="url(#gBlob)" opacity="0.28"/>
<ellipse cx="485.45" cy="270" rx="4.4" ry="4.2" fill="url(#gBlob)" opacity="0.28"/>
<ellipse cx="498.2" cy="270" rx="4.4" ry="4.2" fill="url(#gBlob)" opacity="0.28"/>
<ellipse cx="510.95" cy="270" rx="4.4" ry="4.2" fill="url(#gBlob)" opacity="0.28"/>
<ellipse cx="523.7" cy="270" rx="4.4" ry="4.2" fill="url(#gBlob)" opacity="0.28"/>
<ellipse cx="536.45" cy="270" rx="4.4" ry="4.2" fill="url(#gBlob)" opacity="0.28"/>
<ellipse cx="549.2" cy="270" rx="4.4" ry="4.2" fill="url(#gBlob)" opacity="0.28"/>
<ellipse cx="561.95" cy="270.16" rx="4.4" ry="4.2" fill="url(#gBlob)" opacity="0.28"/>
<ellipse cx="574.7" cy="271.18" rx="4.4" ry="4.2" fill="url(#gBlob)" opacity="0.28"/>
<ellipse cx="587.45" cy="272.2" rx="4.4" ry="4.2" fill="url(#gBlob)" opacity="0.28"/>
<ellipse cx="600.2" cy="273.22" rx="4.4" ry="4.2" fill="url(#gBlob)" opacity="0.28"/>
<ellipse cx="612.95" cy="274.24" rx="4.4" ry="4.2" fill="url(#gBlob)" opacity="0.28"/>
<ellipse cx="625.7" cy="275.26" rx="4.4" ry="4.2" fill="url(#gBlob)" opacity="0.28"/>
<ellipse cx="638.45" cy="276.28" rx="4.4" ry="4.2" fill="url(#gBlob)" opacity="0.28"/>
<ellipse cx="651.2" cy="277.3" rx="4.4" ry="4.2" fill="url(#gBlob)" opacity="0.28"/>
<ellipse cx="451.9" cy="279.8" rx="4.4" ry="4.2" fill="url(#gBlob)" opacity="0.5"/>
<ellipse cx="464.65" cy="279.8" rx="4.4" ry="4.2" fill="url(#gBlob)" opacity="0.5"/>
<ellipse cx="477.4" cy="279.8" rx="4.4" ry="4.2" fill="url(#gBlob)" opacity="0.5"/>
<ellipse cx="490.15" cy="279.8" rx="4.4" ry="4.2" fill="url(#gBlob)" opacity="0.5"/>
<ellipse cx="502.9" cy="279.8" rx="4.4" ry="4.2" fill="url(#gBlob)" opacity="0.5"/>
<ellipse cx="515.65" cy="279.8" rx="4.4" ry="4.2" fill="url(#gBlob)" opacity="0.5"/>
<ellipse cx="528.4" cy="279.8" rx="4.4" ry="4.2" fill="url(#gBlob)" opacity="0.5"/>
<ellipse cx="541.15" cy="279.8" rx="4.4" ry="4.2" fill="url(#gBlob)" opacity="0.5"/>
<ellipse cx="553.9" cy="279.8" rx="4.4" ry="4.2" fill="url(#gBlob)" opacity="0.5"/>
<ellipse cx="566.65" cy="280.33" rx="4.4" ry="4.2" fill="url(#gBlob)" opacity="0.5"/>
<ellipse cx="579.4" cy="281.35" rx="4.4" ry="4.2" fill="url(#gBlob)" opacity="0.5"/>
<ellipse cx="592.15" cy="282.37" rx="4.4" ry="4.2" fill="url(#gBlob)" opacity="0.5"/>
<ellipse cx="604.9" cy="283.39" rx="4.4" ry="4.2" fill="url(#gBlob)" opacity="0.5"/>
<ellipse cx="617.65" cy="284.41" rx="4.4" ry="4.2" fill="url(#gBlob)" opacity="0.5"/>
<ellipse cx="630.4" cy="285.43" rx="4.4" ry="4.2" fill="url(#gBlob)" opacity="0.5"/>
<ellipse cx="643.15" cy="286.45" rx="4.4" ry="4.2" fill="url(#gBlob)" opacity="0.5"/>
<ellipse cx="655.9" cy="287.47" rx="4.4" ry="4.2" fill="url(#gBlob)" opacity="0.5"/>
<ellipse cx="447.9" cy="288.4" rx="4.4" ry="4.2" fill="url(#gBlob)" opacity="0.55"/>
<ellipse cx="460.65" cy="288.4" rx="4.4" ry="4.2" fill="url(#gBlob)" opacity="0.55"/>
<ellipse cx="473.4" cy="288.4" rx="4.4" ry="4.2" fill="url(#gBlob)" opacity="0.55"/>
<ellipse cx="486.15" cy="288.4" rx="4.4" ry="4.2" fill="url(#gBlob)" opacity="0.55"/>
<ellipse cx="498.9" cy="288.4" rx="4.4" ry="4.2" fill="url(#gBlob)" opacity="0.55"/>
<ellipse cx="511.65" cy="288.4" rx="4.4" ry="4.2" fill="url(#gBlob)" opacity="0.55"/>
<ellipse cx="524.4" cy="288.4" rx="4.4" ry="4.2" fill="url(#gBlob)" opacity="0.55"/>
<ellipse cx="537.15" cy="288.4" rx="4.4" ry="4.2" fill="url(#gBlob)" opacity="0.55"/>
<ellipse cx="549.9" cy="288.4" rx="4.4" ry="4.2" fill="url(#gBlob)" opacity="0.55"/>
<ellipse cx="562.65" cy="288.61" rx="4.4" ry="4.2" fill="url(#gBlob)" opacity="0.55"/>
<ellipse cx="575.4" cy="289.63" rx="4.4" ry="4.2" fill="url(#gBlob)" opacity="0.55"/>
<ellipse cx="588.15" cy="290.65" rx="4.4" ry="4.2" fill="url(#gBlob)" opacity="0.55"/>
<ellipse cx="600.9" cy="291.67" rx="4.4" ry="4.2" fill="url(#gBlob)" opacity="0.55"/>
<ellipse cx="613.65" cy="292.69" rx="4.4" ry="4.2" fill="url(#gBlob)" opacity="0.55"/>
<ellipse cx="626.4" cy="293.71" rx="4.4" ry="4.2" fill="url(#gBlob)" opacity="0.55"/>
<ellipse cx="639.15" cy="294.73" rx="4.4" ry="4.2" fill="url(#gBlob)" opacity="0.55"/>
<ellipse cx="651.9" cy="295.75" rx="4.4" ry="4.2" fill="url(#gBlob)" opacity="0.55"/>
</g>
</g>
<line x1="454.5" y1="178.9" x2="656" y2="178.9" stroke="#fff" stroke-width="1.3" stroke-dasharray="18 2 10 3 12 2" opacity="0.95"/>
<line x1="454.5" y1="298.6" x2="822" y2="298.6" stroke="#fff" stroke-width="1.4" opacity="0.9"/>
<rect x="523.8" y="195.5" width="75.2" height="53.5" fill="none" stroke="#e8e010" stroke-width="1.4" stroke-dasharray="3.2 2"/>
<text x="467.5" y="289.5" font-size="17" fill="#f0f0f0" stroke="#ffffff" stroke-width="0.9" letter-spacing="0.2">BNB</text>
<rect x="618.5" y="286.8" width="31" height="3" fill="#000" stroke="#fff" stroke-width="1.4"/>
<g clip-path="url(#cBNBi)">
<rect x="656" y="178" width="168" height="121" fill="#5c5c5c"/>
<g filter="url(#fBlur2)">
<ellipse cx="764.9" cy="188.7" rx="10" ry="10" fill="url(#gBlob)" opacity="0.6"/>
<ellipse cx="796.7" cy="188.7" rx="10" ry="10" fill="url(#gBlob)" opacity="0.6"/>
<ellipse cx="733" cy="188.7" rx="10" ry="10" fill="url(#gBlob)" opacity="0.6"/>
<ellipse cx="701" cy="188.7" rx="10" ry="10" fill="url(#gBlob)" opacity="0.6"/>
<ellipse cx="669" cy="188.7" rx="10" ry="10" fill="url(#gBlob)" opacity="0.6"/>
<ellipse cx="750.6" cy="209.6" rx="10" ry="10" fill="url(#gBlob)" opacity="0.6"/>
<ellipse cx="779" cy="209.6" rx="10" ry="10" fill="url(#gBlob)" opacity="0.6"/>
<ellipse cx="806.6" cy="209.6" rx="10" ry="10" fill="url(#gBlob)" opacity="0.6"/>
<ellipse cx="722" cy="209.6" rx="10" ry="10" fill="url(#gBlob)" opacity="0.6"/>
<ellipse cx="694" cy="209.6" rx="10" ry="10" fill="url(#gBlob)" opacity="0.6"/>
<ellipse cx="666" cy="209.6" rx="10" ry="10" fill="url(#gBlob)" opacity="0.6"/>
<ellipse cx="750.6" cy="253" rx="10" ry="10" fill="url(#gBlob)" opacity="0.6"/>
<ellipse cx="779" cy="253" rx="10" ry="10" fill="url(#gBlob)" opacity="0.6"/>
<ellipse cx="806.6" cy="253" rx="10" ry="10" fill="url(#gBlob)" opacity="0.6"/>
<ellipse cx="722" cy="253" rx="10" ry="10" fill="url(#gBlob)" opacity="0.6"/>
<ellipse cx="694" cy="253" rx="10" ry="10" fill="url(#gBlob)" opacity="0.6"/>
<ellipse cx="666" cy="253" rx="10" ry="10" fill="url(#gBlob)" opacity="0.6"/>
<ellipse cx="764.9" cy="275.6" rx="10" ry="10" fill="url(#gBlob)" opacity="0.6"/>
<ellipse cx="791.2" cy="275.6" rx="10" ry="10" fill="url(#gBlob)" opacity="0.6"/>
<ellipse cx="737" cy="275.6" rx="10" ry="10" fill="url(#gBlob)" opacity="0.6"/>
<ellipse cx="709" cy="275.6" rx="10" ry="10" fill="url(#gBlob)" opacity="0.6"/>
<ellipse cx="682" cy="275.6" rx="10" ry="10" fill="url(#gBlob)" opacity="0.6"/>
<ellipse cx="767" cy="230.5" rx="8" ry="8" fill="url(#gBlob)" opacity="0.4"/>
<ellipse cx="796.7" cy="230.5" rx="8" ry="8" fill="url(#gBlob)" opacity="0.4"/>
<ellipse cx="738" cy="230.5" rx="8" ry="8" fill="url(#gBlob)" opacity="0.4"/>
<ellipse cx="709" cy="230.5" rx="8" ry="8" fill="url(#gBlob)" opacity="0.4"/>
<ellipse cx="682" cy="230.5" rx="8" ry="8" fill="url(#gBlob)" opacity="0.4"/>
</g>
</g>
<line x1="682.2" y1="188.3" x2="668.2" y2="208.9" stroke="#c35ce6" stroke-width="1.8" />
<line x1="682.2" y1="188.3" x2="696.2" y2="208.9" stroke="#c35ce6" stroke-width="1.8" />
<line x1="710.2" y1="188.3" x2="696.2" y2="208.9" stroke="#c35ce6" stroke-width="1.8" />
<line x1="710.2" y1="188.3" x2="724.2" y2="208.9" stroke="#c35ce6" stroke-width="1.8" />
<line x1="737.4" y1="188.3" x2="723.4" y2="208.9" stroke="#c35ce6" stroke-width="1.8" />
<line x1="737.4" y1="188.3" x2="751.4" y2="208.9" stroke="#c35ce6" stroke-width="1.8" />
<line x1="661" y1="192.3" x2="668.1" y2="208.9" stroke="#c35ce6" stroke-width="1.8" />
<line x1="737.4" y1="188.3" x2="748" y2="193.3" stroke="#c35ce6" stroke-width="1.8" />
<line x1="751.4" y1="208.9" x2="748" y2="202.9" stroke="#c35ce6" stroke-width="1.8" />
<line x1="667.7" y1="196.7" x2="667.7" y2="208.9" stroke="#e02828" stroke-width="1.6" />
<line x1="667.7" y1="196.7" x2="660.7" y2="191.7" stroke="#e02828" stroke-width="1.6" />
<line x1="681.2" y1="196.7" x2="681.7" y2="188.3" stroke="#e02828" stroke-width="1.6" />
<line x1="681.2" y1="196.7" x2="668.2" y2="200.7" stroke="#e02828" stroke-width="1.6" />
<line x1="681.2" y1="196.7" x2="695.2" y2="200.7" stroke="#e02828" stroke-width="1.6" />
<line x1="695.3" y1="196.7" x2="695.3" y2="208.9" stroke="#e02828" stroke-width="1.6" />
<line x1="695.3" y1="196.7" x2="688.3" y2="191.7" stroke="#e02828" stroke-width="1.6" />
<line x1="709.3" y1="196.7" x2="709.8" y2="188.3" stroke="#e02828" stroke-width="1.6" />
<line x1="709.3" y1="196.7" x2="696.3" y2="200.7" stroke="#e02828" stroke-width="1.6" />
<line x1="709.3" y1="196.7" x2="723.3" y2="200.7" stroke="#e02828" stroke-width="1.6" />
<line x1="723.4" y1="196.7" x2="723.4" y2="208.9" stroke="#e02828" stroke-width="1.6" />
<line x1="723.4" y1="196.7" x2="716.4" y2="191.7" stroke="#e02828" stroke-width="1.6" />
<line x1="736.5" y1="196.7" x2="737" y2="188.3" stroke="#e02828" stroke-width="1.6" />
<line x1="736.5" y1="196.7" x2="723.5" y2="200.7" stroke="#e02828" stroke-width="1.6" />
<line x1="736.5" y1="196.7" x2="750.5" y2="200.7" stroke="#e02828" stroke-width="1.6" />
<circle cx="667.7" cy="196.7" r="1.9" fill="url(#gO)"/>
<circle cx="681.2" cy="196.7" r="1.9" fill="url(#gO)"/>
<circle cx="695.3" cy="196.7" r="1.9" fill="url(#gO)"/>
<circle cx="709.3" cy="196.7" r="1.9" fill="url(#gO)"/>
<circle cx="723.4" cy="196.7" r="1.9" fill="url(#gO)"/>
<circle cx="736.5" cy="196.7" r="1.9" fill="url(#gO)"/>
<line x1="682.2" y1="274.4" x2="668.2" y2="252.9" stroke="#c35ce6" stroke-width="1.8" />
<line x1="682.2" y1="274.4" x2="696.2" y2="252.9" stroke="#c35ce6" stroke-width="1.8" />
<line x1="710.2" y1="274.4" x2="696.2" y2="252.9" stroke="#c35ce6" stroke-width="1.8" />
<line x1="710.2" y1="274.4" x2="724.2" y2="252.9" stroke="#c35ce6" stroke-width="1.8" />
<line x1="737.4" y1="274.4" x2="723.4" y2="252.9" stroke="#c35ce6" stroke-width="1.8" />
<line x1="737.4" y1="274.4" x2="751.4" y2="252.9" stroke="#c35ce6" stroke-width="1.8" />
<line x1="661" y1="278.4" x2="668.1" y2="252.9" stroke="#c35ce6" stroke-width="1.8" />
<line x1="737.4" y1="274.4" x2="748" y2="269.4" stroke="#c35ce6" stroke-width="1.8" />
<line x1="751.4" y1="252.9" x2="748" y2="258.9" stroke="#c35ce6" stroke-width="1.8" />
<line x1="667.7" y1="264.1" x2="667.7" y2="252.9" stroke="#e02828" stroke-width="1.6" />
<line x1="667.7" y1="264.1" x2="660.7" y2="269.1" stroke="#e02828" stroke-width="1.6" />
<line x1="681.2" y1="264.1" x2="681.7" y2="274.4" stroke="#e02828" stroke-width="1.6" />
<line x1="681.2" y1="264.1" x2="668.2" y2="260.1" stroke="#e02828" stroke-width="1.6" />
<line x1="681.2" y1="264.1" x2="695.2" y2="260.1" stroke="#e02828" stroke-width="1.6" />
<line x1="695.3" y1="264.1" x2="695.3" y2="252.9" stroke="#e02828" stroke-width="1.6" />
<line x1="695.3" y1="264.1" x2="688.3" y2="269.1" stroke="#e02828" stroke-width="1.6" />
<line x1="709.3" y1="264.1" x2="709.8" y2="274.4" stroke="#e02828" stroke-width="1.6" />
<line x1="709.3" y1="264.1" x2="696.3" y2="260.1" stroke="#e02828" stroke-width="1.6" />
<line x1="709.3" y1="264.1" x2="723.3" y2="260.1" stroke="#e02828" stroke-width="1.6" />
<line x1="723.4" y1="264.1" x2="723.4" y2="252.9" stroke="#e02828" stroke-width="1.6" />
<line x1="723.4" y1="264.1" x2="716.4" y2="269.1" stroke="#e02828" stroke-width="1.6" />
<line x1="736.5" y1="264.1" x2="737" y2="274.4" stroke="#e02828" stroke-width="1.6" />
<line x1="736.5" y1="264.1" x2="723.5" y2="260.1" stroke="#e02828" stroke-width="1.6" />
<line x1="736.5" y1="264.1" x2="750.5" y2="260.1" stroke="#e02828" stroke-width="1.6" />
<circle cx="667.7" cy="264.1" r="1.9" fill="url(#gO)"/>
<circle cx="681.2" cy="264.1" r="1.9" fill="url(#gO)"/>
<circle cx="695.3" cy="264.1" r="1.9" fill="url(#gO)"/>
<circle cx="709.3" cy="264.1" r="1.9" fill="url(#gO)"/>
<circle cx="723.4" cy="264.1" r="1.9" fill="url(#gO)"/>
<circle cx="736.5" cy="264.1" r="1.9" fill="url(#gO)"/>
<line x1="677.7" y1="214.5" x2="677.7" y2="219.2" stroke="#e02828" stroke-width="1.4" />
<line x1="682.2" y1="214.5" x2="682.2" y2="219.2" stroke="#e02828" stroke-width="1.4" />
<circle cx="677.7" cy="214.5" r="1.8" fill="url(#gO)"/>
<circle cx="677.7" cy="219.2" r="1.8" fill="url(#gO)"/>
<circle cx="682.2" cy="214.5" r="1.8" fill="url(#gO)"/>
<circle cx="682.2" cy="219.2" r="1.8" fill="url(#gO)"/>
<line x1="677.7" y1="242.6" x2="677.7" y2="247.3" stroke="#e02828" stroke-width="1.4" />
<line x1="682.2" y1="242.6" x2="682.2" y2="247.3" stroke="#e02828" stroke-width="1.4" />
<circle cx="677.7" cy="242.6" r="1.8" fill="url(#gO)"/>
<circle cx="677.7" cy="247.3" r="1.8" fill="url(#gO)"/>
<circle cx="682.2" cy="242.6" r="1.8" fill="url(#gO)"/>
<circle cx="682.2" cy="247.3" r="1.8" fill="url(#gO)"/>
<line x1="682.2" y1="221" x2="682.2" y2="242" stroke="#5fb088" stroke-width="1.8" />
<line x1="672.2" y1="231.4" x2="692.2" y2="231.4" stroke="#5fb088" stroke-width="1.8" />
<line x1="705.7" y1="214.5" x2="705.7" y2="219.2" stroke="#e02828" stroke-width="1.4" />
<line x1="710.2" y1="214.5" x2="710.2" y2="219.2" stroke="#e02828" stroke-width="1.4" />
<circle cx="705.7" cy="214.5" r="1.8" fill="url(#gO)"/>
<circle cx="705.7" cy="219.2" r="1.8" fill="url(#gO)"/>
<circle cx="710.2" cy="214.5" r="1.8" fill="url(#gO)"/>
<circle cx="710.2" cy="219.2" r="1.8" fill="url(#gO)"/>
<line x1="705.7" y1="242.6" x2="705.7" y2="247.3" stroke="#e02828" stroke-width="1.4" />
<line x1="710.2" y1="242.6" x2="710.2" y2="247.3" stroke="#e02828" stroke-width="1.4" />
<circle cx="705.7" cy="242.6" r="1.8" fill="url(#gO)"/>
<circle cx="705.7" cy="247.3" r="1.8" fill="url(#gO)"/>
<circle cx="710.2" cy="242.6" r="1.8" fill="url(#gO)"/>
<circle cx="710.2" cy="247.3" r="1.8" fill="url(#gO)"/>
<line x1="710.2" y1="221" x2="710.2" y2="242" stroke="#5fb088" stroke-width="1.8" />
<line x1="700.2" y1="231.4" x2="720.2" y2="231.4" stroke="#5fb088" stroke-width="1.8" />
<line x1="732.9" y1="214.5" x2="732.9" y2="219.2" stroke="#e02828" stroke-width="1.4" />
<line x1="737.4" y1="214.5" x2="737.4" y2="219.2" stroke="#e02828" stroke-width="1.4" />
<circle cx="732.9" cy="214.5" r="1.8" fill="url(#gO)"/>
<circle cx="732.9" cy="219.2" r="1.8" fill="url(#gO)"/>
<circle cx="737.4" cy="214.5" r="1.8" fill="url(#gO)"/>
<circle cx="737.4" cy="219.2" r="1.8" fill="url(#gO)"/>
<line x1="732.9" y1="242.6" x2="732.9" y2="247.3" stroke="#e02828" stroke-width="1.4" />
<line x1="737.4" y1="242.6" x2="737.4" y2="247.3" stroke="#e02828" stroke-width="1.4" />
<circle cx="732.9" cy="242.6" r="1.8" fill="url(#gO)"/>
<circle cx="732.9" cy="247.3" r="1.8" fill="url(#gO)"/>
<circle cx="737.4" cy="242.6" r="1.8" fill="url(#gO)"/>
<circle cx="737.4" cy="247.3" r="1.8" fill="url(#gO)"/>
<line x1="737.4" y1="221" x2="737.4" y2="242" stroke="#5fb088" stroke-width="1.8" />
<line x1="727.4" y1="231.4" x2="747.4" y2="231.4" stroke="#5fb088" stroke-width="1.8" />
<line x1="661.5" y1="228.2" x2="675" y2="228.2" stroke="#e02828" stroke-width="1.4" />
<circle cx="661.5" cy="228.2" r="1.9" fill="url(#gO)"/>
<circle cx="675" cy="228.2" r="1.9" fill="url(#gO)"/>
<line x1="661.5" y1="234.2" x2="675" y2="234.2" stroke="#e02828" stroke-width="1.4" />
<circle cx="661.5" cy="234.2" r="1.9" fill="url(#gO)"/>
<circle cx="675" cy="234.2" r="1.9" fill="url(#gO)"/>
<line x1="691.5" y1="228.2" x2="699.5" y2="228.2" stroke="#e02828" stroke-width="1.4" />
<circle cx="691.5" cy="228.2" r="1.9" fill="url(#gO)"/>
<circle cx="699.5" cy="228.2" r="1.9" fill="url(#gO)"/>
<line x1="691.5" y1="234.2" x2="699.5" y2="234.2" stroke="#e02828" stroke-width="1.4" />
<circle cx="691.5" cy="234.2" r="1.9" fill="url(#gO)"/>
<circle cx="699.5" cy="234.2" r="1.9" fill="url(#gO)"/>
<line x1="719.6" y1="228.2" x2="726" y2="228.2" stroke="#e02828" stroke-width="1.4" />
<circle cx="719.6" cy="228.2" r="1.9" fill="url(#gO)"/>
<circle cx="726" cy="228.2" r="1.9" fill="url(#gO)"/>
<line x1="719.6" y1="234.2" x2="726" y2="234.2" stroke="#e02828" stroke-width="1.4" />
<circle cx="719.6" cy="234.2" r="1.9" fill="url(#gO)"/>
<circle cx="726" cy="234.2" r="1.9" fill="url(#gO)"/>
<circle cx="682.2" cy="231.4" r="4.6" fill="url(#gNb)"/>
<circle cx="710.2" cy="231.4" r="4.6" fill="url(#gNb)"/>
<circle cx="737.4" cy="231.4" r="4.6" fill="url(#gNb)"/>
<circle cx="682.2" cy="188.3" r="5.2" fill="url(#gBi)"/>
<circle cx="710.2" cy="188.3" r="5.2" fill="url(#gBi)"/>
<circle cx="737.4" cy="188.3" r="5.2" fill="url(#gBi)"/>
<circle cx="668.1" cy="208.9" r="6.4" fill="url(#gBi)"/>
<circle cx="695.3" cy="208.9" r="6.4" fill="url(#gBi)"/>
<circle cx="723.4" cy="208.9" r="6.4" fill="url(#gBi)"/>
<circle cx="668.1" cy="252.9" r="6.4" fill="url(#gBi)"/>
<circle cx="695.3" cy="252.9" r="6.4" fill="url(#gBi)"/>
<circle cx="723.4" cy="252.9" r="6.4" fill="url(#gBi)"/>
<circle cx="682.2" cy="274.4" r="5.2" fill="url(#gBi)"/>
<circle cx="710.2" cy="274.4" r="5.2" fill="url(#gBi)"/>
<circle cx="737.4" cy="274.4" r="5.2" fill="url(#gBi)"/>
<ellipse cx="666.6" cy="291.3" rx="3.8" ry="3.8" fill="url(#gBr)"/>
<ellipse cx="694.3" cy="291.3" rx="3.8" ry="3.8" fill="url(#gBr)"/>
<ellipse cx="722" cy="291.3" rx="3.8" ry="3.8" fill="url(#gBr)"/>
<rect x="658.8" y="180.2" width="161.8" height="116" fill="none" stroke="#f4ec00" stroke-width="2.6" stroke-dasharray="4.5 2.2"/>
<rect x="97" y="316.2" width="294" height="112.5" fill="none" stroke="#8c8c8c" stroke-width="2.2"/>
<line x1="96" y1="316.2" x2="391" y2="316.2" stroke="#dcdcdc" stroke-width="2"/>
<line x1="98" y1="315.9" x2="101" y2="315.9" stroke="#9a9a9a" stroke-width="1.2" />
<line x1="98" y1="327.3" x2="100" y2="327.3" stroke="#9a9a9a" stroke-width="1.0" />
<text x="93.2" y="319.2" font-size="14.5" text-anchor="end" fill="#2e2e2e" stroke="#c8c8c8" stroke-width="1.9" paint-order="stroke" stroke-linejoin="round" font-weight="bold" >70</text>
<line x1="98" y1="338.68" x2="101" y2="338.68" stroke="#9a9a9a" stroke-width="1.2" />
<line x1="98" y1="350.08" x2="100" y2="350.08" stroke="#9a9a9a" stroke-width="1.0" />
<text x="93.2" y="341.98" font-size="14.5" text-anchor="end" fill="#2e2e2e" stroke="#c8c8c8" stroke-width="1.9" paint-order="stroke" stroke-linejoin="round" font-weight="bold" >20</text>
<line x1="98" y1="361.46" x2="101" y2="361.46" stroke="#9a9a9a" stroke-width="1.2" />
<line x1="98" y1="372.86" x2="100" y2="372.86" stroke="#9a9a9a" stroke-width="1.0" />
<text x="93.2" y="364.76" font-size="14.5" text-anchor="end" fill="#2e2e2e" stroke="#c8c8c8" stroke-width="1.9" paint-order="stroke" stroke-linejoin="round" font-weight="bold" >-30</text>
<line x1="98" y1="384.24" x2="101" y2="384.24" stroke="#9a9a9a" stroke-width="1.2" />
<line x1="98" y1="395.64" x2="100" y2="395.64" stroke="#9a9a9a" stroke-width="1.0" />
<text x="93.2" y="387.54" font-size="14.5" text-anchor="end" fill="#2e2e2e" stroke="#c8c8c8" stroke-width="1.9" paint-order="stroke" stroke-linejoin="round" font-weight="bold" >-80</text>
<line x1="98" y1="407.02" x2="101" y2="407.02" stroke="#9a9a9a" stroke-width="1.2" />
<line x1="98" y1="418.42" x2="100" y2="418.42" stroke="#9a9a9a" stroke-width="1.0" />
<text x="93.2" y="410.32" font-size="14.5" text-anchor="end" fill="#2e2e2e" stroke="#c8c8c8" stroke-width="1.9" paint-order="stroke" stroke-linejoin="round" font-weight="bold" >-130</text>
<line x1="98" y1="429.8" x2="101" y2="429.8" stroke="#9a9a9a" stroke-width="1.2" />
<text x="93.2" y="433.1" font-size="14.5" text-anchor="end" fill="#2e2e2e" stroke="#c8c8c8" stroke-width="1.9" paint-order="stroke" stroke-linejoin="round" font-weight="bold" >-180</text>
<line x1="117.42" y1="428.7" x2="117.42" y2="426" stroke="#9a9a9a" stroke-width="1.2" />
<text x="117.42" y="445.6" font-size="14.5" text-anchor="middle" fill="#2e2e2e" stroke="#c8c8c8" stroke-width="1.9" paint-order="stroke" stroke-linejoin="round" font-weight="bold" >-6</text>
<line x1="138.45" y1="428.7" x2="138.45" y2="426" stroke="#9a9a9a" stroke-width="1.2" />
<line x1="159.48" y1="428.7" x2="159.48" y2="426" stroke="#9a9a9a" stroke-width="1.2" />
<text x="159.48" y="445.6" font-size="14.5" text-anchor="middle" fill="#2e2e2e" stroke="#c8c8c8" stroke-width="1.9" paint-order="stroke" stroke-linejoin="round" font-weight="bold" >-4</text>
<line x1="180.51" y1="428.7" x2="180.51" y2="426" stroke="#9a9a9a" stroke-width="1.2" />
<line x1="201.54" y1="428.7" x2="201.54" y2="426" stroke="#9a9a9a" stroke-width="1.2" />
<text x="201.54" y="445.6" font-size="14.5" text-anchor="middle" fill="#2e2e2e" stroke="#c8c8c8" stroke-width="1.9" paint-order="stroke" stroke-linejoin="round" font-weight="bold" >-2</text>
<line x1="222.57" y1="428.7" x2="222.57" y2="426" stroke="#9a9a9a" stroke-width="1.2" />
<line x1="243.6" y1="428.7" x2="243.6" y2="426" stroke="#9a9a9a" stroke-width="1.2" />
<text x="243.6" y="445.6" font-size="14.5" text-anchor="middle" fill="#2e2e2e" stroke="#c8c8c8" stroke-width="1.9" paint-order="stroke" stroke-linejoin="round" font-weight="bold" >0</text>
<line x1="264.63" y1="428.7" x2="264.63" y2="426" stroke="#9a9a9a" stroke-width="1.2" />
<line x1="285.66" y1="428.7" x2="285.66" y2="426" stroke="#9a9a9a" stroke-width="1.2" />
<text x="285.66" y="445.6" font-size="14.5" text-anchor="middle" fill="#2e2e2e" stroke="#c8c8c8" stroke-width="1.9" paint-order="stroke" stroke-linejoin="round" font-weight="bold" >2</text>
<line x1="306.69" y1="428.7" x2="306.69" y2="426" stroke="#9a9a9a" stroke-width="1.2" />
<line x1="327.72" y1="428.7" x2="327.72" y2="426" stroke="#9a9a9a" stroke-width="1.2" />
<text x="327.72" y="445.6" font-size="14.5" text-anchor="middle" fill="#2e2e2e" stroke="#c8c8c8" stroke-width="1.9" paint-order="stroke" stroke-linejoin="round" font-weight="bold" >4</text>
<line x1="348.75" y1="428.7" x2="348.75" y2="426" stroke="#9a9a9a" stroke-width="1.2" />
<line x1="369.78" y1="428.7" x2="369.78" y2="426" stroke="#9a9a9a" stroke-width="1.2" />
<text x="369.78" y="445.6" font-size="14.5" text-anchor="middle" fill="#2e2e2e" stroke="#c8c8c8" stroke-width="1.9" paint-order="stroke" stroke-linejoin="round" font-weight="bold" >6</text>
<text x="243.6" y="460.8" font-size="16.3" text-anchor="middle" fill="#2e2e2e" stroke="#c8c8c8" stroke-width="1.9" paint-order="stroke" stroke-linejoin="round" font-weight="bold" >Applied Voltage (V)</text>
<text x="0" y="0" font-size="16.1" text-anchor="middle" fill="#2e2e2e" stroke="#c8c8c8" stroke-width="1.9" paint-order="stroke" stroke-linejoin="round" font-weight="bold" transform="translate(57,371.5) rotate(-90)">Phase (°)</text>
<path d="M117.42,328.09 L118.47,328.24 L119.52,328.55 L120.57,327.82 L121.63,328.11 L122.68,328.99 L123.73,328.8 L124.78,328.57 L125.83,328.56 L126.88,328.43 L127.93,328.61 L128.99,328.71 L130.04,328.16 L131.09,328.84 L132.14,328.66 L133.19,328.66 L134.24,328.27 L135.3,328.33 L136.35,328.85 L137.4,327.96 L138.45,328.96 L139.5,328.55 L140.55,328.41 L141.6,328.22 L142.66,328.5 L143.71,328.62 L144.76,328.83 L145.81,328.61 L146.86,328.83 L147.91,328.89 L148.96,328.66 L150.02,328.8 L151.07,328.14 L152.12,328.82 L153.17,327.91 L154.22,328.29 L155.27,328.15 L156.33,328.85 L157.38,328.54 L158.43,328.66 L159.48,328.86 L160.53,328.41 L161.58,328.17 L162.63,328.52 L163.69,328.04 L164.74,328.53 L165.79,327.85 L166.84,328.18 L167.89,328.88 L168.94,328.35 L170,328.57 L171.05,328.47 L172.1,328.93 L173.15,328.32 L174.2,328.09 L175.25,328.97 L176.3,328.46 L177.36,328.3 L178.41,327.82 L179.46,328.56 L180.51,328.55 L181.56,328.62 L182.61,328.65 L183.66,327.83 L184.72,328.61 L185.77,328.1 L186.82,328.51 L187.87,328.24 L188.92,328.24 L189.97,328.16 L191.02,328.73 L192.08,328.48 L193.13,328.17 L194.18,328.76 L195.23,328.02 L196.28,328.64 L197.33,328.19 L198.39,328.8 L199.44,328.83 L200.49,328.2 L201.54,328.86 L202.59,328.07 L203.64,328.44 L204.69,328.77 L205.75,328.02 L206.8,328.77 L207.85,328.77 L208.9,327.96 L209.95,328.75 L211,328.22 L212.06,328.3 L213.11,328.9 L214.16,327.81 L215.21,328.86 L216.26,328.32 L217.31,328.91 L218.36,328.69 L219.42,328.6 L220.47,328.15 L221.52,328.07 L222.57,328.51 L223.62,328.77 L224.67,328.88 L225.72,328.91 L226.78,328.88 L227.83,327.82 L228.88,328.01 L229.93,328.6 L230.98,328.3 L232.03,328.53 L233.08,328.1 L234.14,328.37 L235.19,328.22 L236.24,328.44 L237.29,328.01 L238.34,328.91 L239.39,328.79 L240.45,328.55 L241.5,327.86 L242.55,328.12 L243.6,328.31 L244.65,328.73 L245.7,327.87 L246.75,327.95 L247.81,328.97 L248.86,327.9 L249.91,328.18 L250.96,328.23 L252.01,328.52 L253.06,328.06 L254.12,328.01 L255.17,328.79 L256.22,328.19 L257.27,328.89 L258.32,330.15 L259.37,331.84 L260.42,334.86 L261.48,341.6 L262.53,352.67 L263.58,367.65 L264.63,382.67 L265.68,393.28 L266.73,400.37 L267.78,404.45 L268.84,406.06 L269.89,406.07 L270.94,404.05 L271.99,404.99 L273.04,405.4 L274.09,405.56 L275.14,405.01 L276.2,405.07 L277.25,406.15 L278.3,405.47 L279.35,406.54 L280.4,405.62 L281.45,405.83 L282.51,406.58 L283.56,406.99 L284.61,406.87 L285.66,406.89 L286.71,406.87 L287.76,406.96 L288.81,406.17 L289.87,406.81 L290.92,406.46 L291.97,406.49 L293.02,407.12 L294.07,406.68 L295.12,406.68 L296.18,406.38 L297.23,407.46 L298.28,407.2 L299.33,407.14 L300.38,407.13 L301.43,406.91 L302.48,407.42 L303.54,406.46 L304.59,407.45 L305.64,406.89 L306.69,406.59 L307.74,406.61 L308.79,406.75 L309.84,407.2 L310.9,406.73 L311.95,406.88 L313,407.08 L314.05,406.65 L315.1,406.96 L316.15,406.6 L317.2,406.78 L318.26,406.56 L319.31,406.97 L320.36,406.95 L321.41,407.38 L322.46,406.97 L323.51,407.42 L324.57,407.28 L325.62,406.96 L326.67,406.68 L327.72,407.21 L328.77,407.42 L329.82,406.63 L330.87,406.62 L331.93,407.43 L332.98,406.7 L334.03,406.77 L335.08,407.27 L336.13,406.51 L337.18,406.75 L338.24,407.1 L339.29,406.41 L340.34,406.92 L341.39,406.65 L342.44,407.55 L343.49,407.05 L344.54,406.73 L345.6,406.53 L346.65,407.49 L347.7,407.53 L348.75,407.33 L349.8,406.75 L350.85,407.18 L351.9,406.72 L352.96,407.55 L354.01,407.04 L355.06,406.99 L356.11,407.26 L357.16,407.08 L358.21,407.17 L359.26,406.61 L360.32,407.19 L361.37,407.52 L362.42,406.8 L363.47,407.12 L364.52,407.18 L365.57,406.77 L366.63,406.48 L367.68,407.31 L368.73,407.29 L369.78,406.72" fill="none" stroke="#6a6a6a" stroke-width="2.8"/>
<path d="M117.42,328.46 L118.47,328.05 L119.52,328.3 L120.57,328.42 L121.63,328.48 L122.68,328.93 L123.73,329.02 L124.78,328.32 L125.83,328.14 L126.88,328.87 L127.93,328.23 L128.99,328.89 L130.04,328.9 L131.09,328.18 L132.14,328.23 L133.19,328.68 L134.24,328.3 L135.3,328.04 L136.35,329.07 L137.4,328.46 L138.45,328.7 L139.5,329.17 L140.55,328.36 L141.6,328.58 L142.66,328.87 L143.71,328.92 L144.76,328.59 L145.81,328.55 L146.86,328.64 L147.91,328.6 L148.96,328.53 L150.02,329.15 L151.07,328.16 L152.12,328.75 L153.17,328.43 L154.22,328.09 L155.27,329.12 L156.33,329.04 L157.38,328.16 L158.43,328.72 L159.48,328.86 L160.53,328.41 L161.58,329.12 L162.63,328.52 L163.69,328.58 L164.74,328.05 L165.79,328.24 L166.84,328.6 L167.89,328.64 L168.94,328.78 L170,328.56 L171.05,328.48 L172.1,329.08 L173.15,328.44 L174.2,328.64 L175.25,328.27 L176.3,328.25 L177.36,328.17 L178.41,328.23 L179.46,328.2 L180.51,328.2 L181.56,328.13 L182.61,328.59 L183.66,328.03 L184.72,328.49 L185.77,328.06 L186.82,328.48 L187.87,329.16 L188.92,328.11 L189.97,328.2 L191.02,328.42 L192.08,328.06 L193.13,328.33 L194.18,328.56 L195.23,328.36 L196.28,328.32 L197.33,328.75 L198.39,328.11 L199.44,329.16 L200.49,328 L201.54,328.11 L202.59,328.04 L203.64,328.79 L204.69,328.24 L205.75,328.57 L206.8,329.1 L207.85,328.04 L208.9,328.73 L209.95,328.11 L211,329.02 L212.06,328.47 L213.11,328.82 L214.16,328.21 L215.21,328.88 L216.26,328.66 L217.31,328.44 L218.36,328.28 L219.42,328.58 L220.47,328.2 L221.52,328.73 L222.57,328.46 L223.62,328.18 L224.67,328.03 L225.72,328.91 L226.78,328.12 L227.83,329.01 L228.88,329.05 L229.93,328.54 L230.98,328.88 L232.03,328.44 L233.08,328.48 L234.14,328.13 L235.19,328.13 L236.24,328.78 L237.29,328.06 L238.34,328.77 L239.39,328.01 L240.45,329.16 L241.5,328.67 L242.55,328.94 L243.6,328.95 L244.65,328.23 L245.7,328.1 L246.75,328.14 L247.81,329.16 L248.86,327.91 L249.91,326.69 L250.96,327.22 L252.01,328.01 L253.06,330.42 L254.12,333.1 L255.17,341.08 L256.22,360.21 L257.27,383.67 L258.32,400.42 L259.37,407.01 L260.42,409.9 L261.48,410.73 L262.53,410.81 L263.58,411.1 L264.63,410.81 L265.68,410.8 L266.73,410.5 L267.78,410.6 L268.84,411.27 L269.89,411.58 L270.94,411.52 L271.99,410.9 L273.04,411.48 L274.09,410.98 L275.14,410.89 L276.2,411.5 L277.25,411.52 L278.3,410.52 L279.35,410.75 L280.4,411.17 L281.45,411.29 L282.51,410.92 L283.56,411.29 L284.61,410.74 L285.66,410.76 L286.71,410.49 L287.76,411.32 L288.81,411.57 L289.87,411.45 L290.92,410.59 L291.97,410.96 L293.02,411.05 L294.07,411.42 L295.12,410.96 L296.18,411.37 L297.23,410.69 L298.28,410.41 L299.33,411.04 L300.38,410.6 L301.43,410.64 L302.48,410.96 L303.54,411.34 L304.59,410.44 L305.64,410.42 L306.69,410.81 L307.74,411.06 L308.79,410.77 L309.84,411.36 L310.9,410.71 L311.95,410.92 L313,411.21 L314.05,411.37 L315.1,410.56 L316.15,411.35 L317.2,411.4 L318.26,410.74 L319.31,410.42 L320.36,411.48 L321.41,410.96 L322.46,411.51 L323.51,411.12 L324.57,411.02 L325.62,410.62 L326.67,411.59 L327.72,410.89 L328.77,410.95 L329.82,410.94 L330.87,410.59 L331.93,411.03 L332.98,411.42 L334.03,411.52 L335.08,410.44 L336.13,411.06 L337.18,410.74 L338.24,411.49 L339.29,411.2 L340.34,411.02 L341.39,411.55 L342.44,410.63 L343.49,410.62 L344.54,411.39 L345.6,410.73 L346.65,411.53 L347.7,410.87 L348.75,410.56 L349.8,411.58 L350.85,410.68 L351.9,410.5 L352.96,411.29 L354.01,411.16 L355.06,410.41 L356.11,411.55 L357.16,410.72 L358.21,410.72 L359.26,410.46 L360.32,411.55 L361.37,411.49 L362.42,411.59 L363.47,411.18 L364.52,410.47 L365.57,410.61 L366.63,411.39 L367.68,410.46 L368.73,411.04 L369.78,410.53" fill="none" stroke="#f27a7a" stroke-width="2.8"/>
<rect x="96.5" y="469.6" width="296.5" height="112.2" fill="none" stroke="#8c8c8c" stroke-width="2.2"/>
<line x1="95.5" y1="469.6" x2="393.5" y2="469.6" stroke="#dcdcdc" stroke-width="2"/>
<line x1="97.5" y1="469.2" x2="100.5" y2="469.2" stroke="#9a9a9a" stroke-width="1.2" />
<line x1="97.5" y1="493.8" x2="99.5" y2="493.8" stroke="#9a9a9a" stroke-width="1.0" />
<text x="91.5" y="474.5" font-size="14.5" text-anchor="end" fill="#2e2e2e" stroke="#c8c8c8" stroke-width="1.9" paint-order="stroke" stroke-linejoin="round" font-weight="bold" >200</text>
<line x1="97.5" y1="518.45" x2="100.5" y2="518.45" stroke="#9a9a9a" stroke-width="1.2" />
<line x1="97.5" y1="543.05" x2="99.5" y2="543.05" stroke="#9a9a9a" stroke-width="1.0" />
<text x="91.5" y="523.75" font-size="14.5" text-anchor="end" fill="#2e2e2e" stroke="#c8c8c8" stroke-width="1.9" paint-order="stroke" stroke-linejoin="round" font-weight="bold" >100</text>
<line x1="97.5" y1="567.7" x2="100.5" y2="567.7" stroke="#9a9a9a" stroke-width="1.2" />
<text x="91.5" y="573" font-size="14.5" text-anchor="end" fill="#2e2e2e" stroke="#c8c8c8" stroke-width="1.9" paint-order="stroke" stroke-linejoin="round" font-weight="bold" >0</text>
<line x1="117.42" y1="581.8" x2="117.42" y2="579" stroke="#9a9a9a" stroke-width="1.2" />
<text x="117.42" y="601" font-size="14.5" text-anchor="middle" fill="#2e2e2e" stroke="#c8c8c8" stroke-width="1.9" paint-order="stroke" stroke-linejoin="round" font-weight="bold" >-6</text>
<line x1="138.45" y1="581.8" x2="138.45" y2="579" stroke="#9a9a9a" stroke-width="1.2" />
<line x1="159.48" y1="581.8" x2="159.48" y2="579" stroke="#9a9a9a" stroke-width="1.2" />
<text x="159.48" y="601" font-size="14.5" text-anchor="middle" fill="#2e2e2e" stroke="#c8c8c8" stroke-width="1.9" paint-order="stroke" stroke-linejoin="round" font-weight="bold" >-4</text>
<line x1="180.51" y1="581.8" x2="180.51" y2="579" stroke="#9a9a9a" stroke-width="1.2" />
<line x1="201.54" y1="581.8" x2="201.54" y2="579" stroke="#9a9a9a" stroke-width="1.2" />
<text x="201.54" y="601" font-size="14.5" text-anchor="middle" fill="#2e2e2e" stroke="#c8c8c8" stroke-width="1.9" paint-order="stroke" stroke-linejoin="round" font-weight="bold" >-2</text>
<line x1="222.57" y1="581.8" x2="222.57" y2="579" stroke="#9a9a9a" stroke-width="1.2" />
<line x1="243.6" y1="581.8" x2="243.6" y2="579" stroke="#9a9a9a" stroke-width="1.2" />
<text x="243.6" y="601" font-size="14.5" text-anchor="middle" fill="#2e2e2e" stroke="#c8c8c8" stroke-width="1.9" paint-order="stroke" stroke-linejoin="round" font-weight="bold" >0</text>
<line x1="264.63" y1="581.8" x2="264.63" y2="579" stroke="#9a9a9a" stroke-width="1.2" />
<line x1="285.66" y1="581.8" x2="285.66" y2="579" stroke="#9a9a9a" stroke-width="1.2" />
<text x="285.66" y="601" font-size="14.5" text-anchor="middle" fill="#2e2e2e" stroke="#c8c8c8" stroke-width="1.9" paint-order="stroke" stroke-linejoin="round" font-weight="bold" >2</text>
<line x1="306.69" y1="581.8" x2="306.69" y2="579" stroke="#9a9a9a" stroke-width="1.2" />
<line x1="327.72" y1="581.8" x2="327.72" y2="579" stroke="#9a9a9a" stroke-width="1.2" />
<text x="327.72" y="601" font-size="14.5" text-anchor="middle" fill="#2e2e2e" stroke="#c8c8c8" stroke-width="1.9" paint-order="stroke" stroke-linejoin="round" font-weight="bold" >4</text>
<line x1="348.75" y1="581.8" x2="348.75" y2="579" stroke="#9a9a9a" stroke-width="1.2" />
<line x1="369.78" y1="581.8" x2="369.78" y2="579" stroke="#9a9a9a" stroke-width="1.2" />
<text x="369.78" y="601" font-size="14.5" text-anchor="middle" fill="#2e2e2e" stroke="#c8c8c8" stroke-width="1.9" paint-order="stroke" stroke-linejoin="round" font-weight="bold" >6</text>
<text x="243.6" y="617" font-size="16.3" text-anchor="middle" fill="#2e2e2e" stroke="#c8c8c8" stroke-width="1.9" paint-order="stroke" stroke-linejoin="round" font-weight="bold" >Applied Voltage (V)</text>
<text x="0" y="0" font-size="16.3" text-anchor="middle" fill="#2e2e2e" stroke="#c8c8c8" stroke-width="1.9" paint-order="stroke" stroke-linejoin="round" font-weight="bold" transform="translate(59.5,542) rotate(-90)">Displacement (a.u.)</text>
<path d="M115.6,485.6 L261,566.6 L372.7,503.6" fill="none" stroke="#9a9a9a" stroke-width="4.4" stroke-linejoin="round" opacity="0.5"/>
<path d="M115.6,485.6 L261,566.6 L372.7,503.6" fill="none" stroke="#6e6e6e" stroke-width="3" stroke-linejoin="round"/>
<path d="M115.6,487.8 L256.6,568.4 L372.7,504.6" fill="none" stroke="#f27878" stroke-width="2.4" stroke-linejoin="round"/>
<path d="M199,559 L199,564.5 M201,556.5 L209.5,556 L210,564 L202,564" fill="none" stroke="#bdbdbd" stroke-width="2.4"/><path d="M202,559.5 L207.5,559.5 L207.5,562" fill="none" stroke="#555" stroke-width="1.4"/>
<rect x="244.2" y="485.8" width="56" height="45" fill="none" stroke="#8a8a8a" stroke-width="2"/>
<path d="M244.8,491.5 L274.8,526.7 L300,501" fill="none" stroke="#7a7a7a" stroke-width="1.8"/>
<path d="M244.8,501.8 L266.2,526.7 L299,490.6" fill="none" stroke="#f07070" stroke-width="1.6"/>
<text x="255.5" y="481" font-size="7" text-anchor="middle" fill="#2e2e2e" stroke="#c8c8c8" stroke-width="1.9" paint-order="stroke" stroke-linejoin="round" font-weight="bold" >-0.6V</text>
<text x="285" y="481" font-size="7" text-anchor="middle" fill="#2e2e2e" stroke="#c8c8c8" stroke-width="1.9" paint-order="stroke" stroke-linejoin="round" font-weight="bold" >1.3 V</text>
<text x="256.8" y="541" font-size="7" text-anchor="middle" fill="#2e2e2e" stroke="#c8c8c8" stroke-width="1.9" paint-order="stroke" stroke-linejoin="round" font-weight="bold" >0</text>
<text x="277.4" y="541" font-size="7" text-anchor="middle" fill="#2e2e2e" stroke="#c8c8c8" stroke-width="1.9" paint-order="stroke" stroke-linejoin="round" font-weight="bold" >1</text>
<text x="296.3" y="541" font-size="7" text-anchor="middle" fill="#2e2e2e" stroke="#c8c8c8" stroke-width="1.9" paint-order="stroke" stroke-linejoin="round" font-weight="bold" >2</text>
<line x1="259.4" y1="497.5" x2="259.4" y2="529.3" stroke="#1aaee8" stroke-width="1.8" />
<path d="M260,517 C264,515 268,516 270,519" fill="none" stroke="#1aaee8" stroke-width="1.2"/>
<line x1="275.2" y1="521.5" x2="275.2" y2="554.2" stroke="#1aaee8" stroke-width="1.8" />
<path d="M496.5,327 L517,348.5 L507,348.5 L507,590 L487,590 L487,348.5 L477,348.5 Z" fill="url(#gRain)" stroke="#9aa4d8" stroke-width="1.6"/>
<text x="498" y="324" font-size="16.8" text-anchor="middle" fill="#2e2e2e" stroke="#c8c8c8" stroke-width="1.9" paint-order="stroke" stroke-linejoin="round" font-weight="bold" letter-spacing="-0.5">V/RHE</text>
<line x1="482" y1="371" x2="487" y2="371" stroke="#bbb" stroke-width="1.3" />
<text x="481" y="377" font-size="16.5" text-anchor="end" fill="#2e2e2e" stroke="#c8c8c8" stroke-width="1.9" paint-order="stroke" stroke-linejoin="round" font-weight="bold" >0</text>
<line x1="482" y1="437.9" x2="487" y2="437.9" stroke="#bbb" stroke-width="1.3" />
<text x="481" y="443.9" font-size="16.5" text-anchor="end" fill="#2e2e2e" stroke="#c8c8c8" stroke-width="1.9" paint-order="stroke" stroke-linejoin="round" font-weight="bold" >1</text>
<line x1="482" y1="508" x2="487" y2="508" stroke="#bbb" stroke-width="1.3" />
<text x="481" y="514" font-size="16.5" text-anchor="end" fill="#2e2e2e" stroke="#c8c8c8" stroke-width="1.9" paint-order="stroke" stroke-linejoin="round" font-weight="bold" >2</text>
<line x1="482" y1="575.9" x2="487" y2="575.9" stroke="#bbb" stroke-width="1.3" />
<text x="481" y="581.9" font-size="16.5" text-anchor="end" fill="#2e2e2e" stroke="#c8c8c8" stroke-width="1.9" paint-order="stroke" stroke-linejoin="round" font-weight="bold" >3</text>
<text x="0" y="0" font-size="15.7" text-anchor="middle" fill="#2e2e2e" stroke="#c8c8c8" stroke-width="1.9" paint-order="stroke" stroke-linejoin="round" font-weight="bold" transform="translate(468.5,453) rotate(-90)">Potential (eV)</text>
<line x1="507" y1="358.9" x2="554" y2="358.9" stroke="#ffffff" stroke-width="2.2" />
<line x1="507" y1="361.3" x2="554" y2="361.3" stroke="#fff" stroke-width="1.8" />
<line x1="507" y1="361.3" x2="554" y2="361.3" stroke="#f07878" stroke-width="1.8" stroke-dasharray="2.5 1.5"/>
<line x1="507" y1="376.4" x2="554" y2="376.4" stroke="#ffffff" stroke-width="2.2" />
<line x1="507" y1="378.6" x2="554" y2="378.6" stroke="#fff" stroke-width="1.8" />
<line x1="507" y1="378.6" x2="554" y2="378.6" stroke="#90c8f0" stroke-width="1.8" stroke-dasharray="2.5 1.5"/>
<line x1="507" y1="519.2" x2="554" y2="519.2" stroke="#ffffff" stroke-width="2.2" />
<line x1="507" y1="522.5" x2="554" y2="522.5" stroke="#fff" stroke-width="1.8" />
<line x1="507" y1="522.5" x2="554" y2="522.5" stroke="#f07878" stroke-width="1.8" stroke-dasharray="2.5 1.5"/>
<line x1="507" y1="561" x2="554" y2="561" stroke="#ffffff" stroke-width="2.2" />
<line x1="507" y1="562.4" x2="554" y2="562.4" stroke="#fff" stroke-width="1.8" />
<line x1="507" y1="562.4" x2="554" y2="562.4" stroke="#90c8f0" stroke-width="1.8" stroke-dasharray="2.5 1.5"/>
<line x1="507.6" y1="349" x2="507.6" y2="589" stroke="#ffffff" stroke-width="2.4" />
<rect x="554" y="333.3" width="111.5" height="251" fill="#fde2e2" stroke="#8a9ad0" stroke-width="2"/>
<line x1="553" y1="584.3" x2="666.5" y2="584.3" stroke="#4a6ec0" stroke-width="2" />
<line x1="555" y1="361" x2="665" y2="361" stroke="#f07878" stroke-width="1" stroke-dasharray="2.5 2"/>
<line x1="555" y1="378.2" x2="665" y2="378.2" stroke="#90c8f0" stroke-width="1" stroke-dasharray="2.5 2"/>
<line x1="555" y1="522.2" x2="665" y2="522.2" stroke="#f07878" stroke-width="1" stroke-dasharray="2.5 2"/>
<line x1="555" y1="561.7" x2="665" y2="561.7" stroke="#90c8f0" stroke-width="1" stroke-dasharray="2.5 2"/>
<rect x="702" y="333.3" width="110" height="251.3" fill="#eaf6fd" stroke="#555" stroke-width="1.5"/>
<line x1="701.5" y1="333.3" x2="812.5" y2="333.3" stroke="#f0f0f0" stroke-width="2" />
<line x1="666" y1="378.2" x2="702" y2="378.2" stroke="#fff" stroke-width="2" />
<line x1="666" y1="378.2" x2="702" y2="378.2" stroke="#90c8f0" stroke-width="1.2" stroke-dasharray="2.5 2"/>
<line x1="666" y1="561.7" x2="702" y2="561.7" stroke="#fff" stroke-width="2" />
<line x1="666" y1="561.7" x2="702" y2="561.7" stroke="#90c8f0" stroke-width="1.2" stroke-dasharray="2.5 2"/>
<line x1="702.5" y1="378.2" x2="811.5" y2="378.2" stroke="#92d0f4" stroke-width="3.2" />
<line x1="702.5" y1="561.5" x2="811.5" y2="561.5" stroke="#92d0f4" stroke-width="3.2" />
<line x1="610.3" y1="368" x2="610.3" y2="512" stroke="#f07878" stroke-width="1" stroke-dasharray="2 2"/>
<path d="M606.5,368 L610.3,361.5 L614,368 Z" fill="#f07878"/>
<line x1="760.3" y1="388" x2="760.3" y2="560" stroke="#90c8f0" stroke-width="1" stroke-dasharray="2 2"/>
<path d="M756.5,388 L760.3,382 L764,388 Z" fill="#90c8f0"/>
<path d="M554.5,371 C563,362 575,361 590,360.5 C615,360 640,360 666.5,349" fill="none" stroke="#f46a6a" stroke-width="3"/>
<path d="M554.5,535 C563,525 575,523 590,522.5 C615,522 640,522 666.5,511.5" fill="none" stroke="#f46a6a" stroke-width="3"/>
<text x="579.5" y="356.5" font-size="16.6" text-anchor="start" fill="#222" >e<tspan font-size="10" dy="-6.5">-</tspan></text>
<text x="624.5" y="356.5" font-size="16.6" text-anchor="start" fill="#222" >e<tspan font-size="10" dy="-6.5">-</tspan></text>
<line x1="603" y1="351.5" x2="621" y2="351.5" stroke="#222" stroke-width="1.3" />
<path d="M598,351.5 L605,348 L605,355 Z" fill="#222"/>
<text x="562.5" y="379" font-size="16.6" text-anchor="start" fill="#222" >-0.14 eV</text>
<text x="639.3" y="375.3" font-size="16.6" text-anchor="start" fill="#222" >CB</text>
<text x="560.7" y="406.5" font-size="14" text-anchor="middle" fill="#222" font-weight="bold">+</text>
<text x="560.7" y="421" font-size="14" text-anchor="middle" fill="#222" font-weight="bold">+</text>
<text x="560.7" y="436.5" font-size="14" text-anchor="middle" fill="#222" font-weight="bold">+</text>
<text x="560.7" y="450.6" font-size="14" text-anchor="middle" fill="#222" font-weight="bold">+</text>
<text x="560.7" y="467" font-size="14" text-anchor="middle" fill="#222" font-weight="bold">+</text>
<line x1="652.5" y1="403.4" x2="658" y2="403.4" stroke="#222" stroke-width="1.8" />
<line x1="652.5" y1="417.2" x2="658" y2="417.2" stroke="#222" stroke-width="1.8" />
<line x1="652.5" y1="433.4" x2="658" y2="433.4" stroke="#222" stroke-width="1.8" />
<line x1="652.5" y1="446.6" x2="658" y2="446.6" stroke="#222" stroke-width="1.8" />
<line x1="652.5" y1="463.8" x2="658" y2="463.8" stroke="#222" stroke-width="1.8" />
<rect x="571.8" y="430" width="72.4" height="18" fill="#f86a6a"/>
<text x="608" y="445" font-size="16.5" text-anchor="middle" fill="#222" >2.41 eV</text>
<text x="587.5" y="518" font-size="16.6" text-anchor="start" fill="#222" >h<tspan font-size="10" dy="-6.5">+</tspan></text>
<text x="624.5" y="518" font-size="16.6" text-anchor="start" fill="#222" >h<tspan font-size="10" dy="-6.5">+</tspan></text>
<line x1="602" y1="512.5" x2="619" y2="512.5" stroke="#222" stroke-width="1.3" />
<path d="M624,512.5 L617,509 L617,516 Z" fill="#222"/>
<text x="640" y="511" font-size="16.6" text-anchor="start" fill="#222" >VB</text>
<text x="607.8" y="542" font-size="16.6" text-anchor="middle" fill="#222" >2.27 eV</text>
<text x="611.7" y="556.8" font-size="16.6" text-anchor="middle" fill="#222" >Band</text>
<text x="611.3" y="576.8" font-size="16.6" text-anchor="middle" fill="#222" >Bending</text>
<text x="607.8" y="602.3" font-size="16" text-anchor="middle" fill="#2e2e2e" stroke="#c8c8c8" stroke-width="1.9" paint-order="stroke" stroke-linejoin="round" font-weight="bold" fill-opacity="1" style="fill:#505050;stroke:#e4e4e4;stroke-width:2.8px">BNB</text>
<text x="706" y="374" font-size="16.6" text-anchor="start" fill="#222" >CB</text>
<text x="790.5" y="370.8" font-size="16.6" text-anchor="start" fill="#222" >e<tspan font-size="10" dy="-6.5">-</tspan></text>
<text x="754.9" y="403.3" font-size="16.6" text-anchor="middle" fill="#222" >0.13 eV</text>
<rect x="720.4" y="459.4" width="74" height="18.8" fill="#a8dcf8"/>
<text x="757.4" y="474.7" font-size="16.5" text-anchor="middle" fill="#222" >2.85 eV</text>
<text x="705.5" y="556.4" font-size="16.6" text-anchor="start" fill="#222" >VB</text>
<text x="790" y="556" font-size="16.6" text-anchor="start" fill="#222" >h<tspan font-size="10" dy="-6.5">+</tspan></text>
<text x="756.5" y="579" font-size="16.6" text-anchor="middle" fill="#222" >2.72 eV</text>
<text x="759.2" y="601.6" font-size="16" text-anchor="middle" fill="#2e2e2e" stroke="#c8c8c8" stroke-width="1.9" paint-order="stroke" stroke-linejoin="round" font-weight="bold" style="fill:#505050;stroke:#e4e4e4;stroke-width:2.8px">BOB</text>
<text x="610" y="319.5" font-size="16.5" text-anchor="middle" fill="#2e2e2e" stroke="#c8c8c8" stroke-width="1.9" paint-order="stroke" stroke-linejoin="round" font-weight="bold" font-weight="bold">P<tspan font-size="10" dy="2.5">2</tspan></text>
<line x1="598" y1="322.5" x2="621" y2="322.5" stroke="#f06060" stroke-width="1.2" stroke-dasharray="1.5 1"/>
<line x1="591" y1="326.8" x2="634" y2="326.8" stroke="#666" stroke-width="4.6" stroke-linecap="round"/>
<path d="M583.5,326.8 L592,321 L592,332.6 Z" fill="#222" stroke="#e8e8e8" stroke-width="1.4" stroke-linejoin="round"/>
</svg></body></html>
